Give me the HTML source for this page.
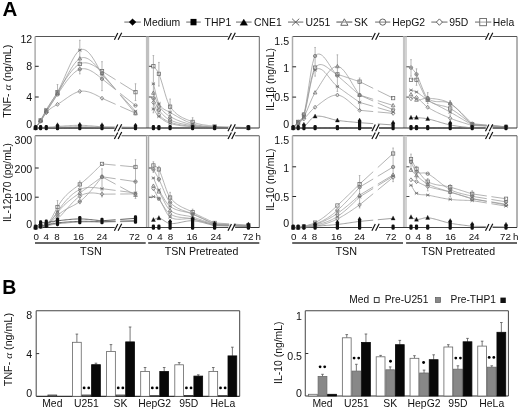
<!DOCTYPE html>
<html><head><meta charset="utf-8"><style>
html,body{margin:0;padding:0;background:#fff;width:520px;height:411px;overflow:hidden}
svg{display:block;filter:blur(0.3px)}
</style></head><body>
<svg width="520" height="411" viewBox="0 0 520 411" font-family="&quot;Liberation Sans&quot;, sans-serif">
<rect width="520" height="411" fill="#fff"/>
<text x="2.6" y="16.4" font-size="20.5" text-anchor="start" font-weight="bold" fill="#000" >A</text>
<text x="2.3" y="294.3" font-size="19.5" text-anchor="start" font-weight="bold" fill="#000" >B</text>
<line x1="124.3" y1="22.1" x2="140.8" y2="22.1" stroke="#9a9a9a" stroke-width="1.5" />
<path d="M132.55,18.8 L136.05,22.1 L132.55,25.4 L129.05,22.1 Z" stroke="#000" stroke-width="0.3" fill="#000" />
<text x="143.3" y="25.8" font-size="10.4" text-anchor="start" font-weight="normal" fill="#111" >Medium</text>
<line x1="186.2" y1="22.1" x2="200.8" y2="22.1" stroke="#9a9a9a" stroke-width="1.5" />
<rect x="190.5" y="18.9" width="6" height="6.4" fill="#000" stroke="none" stroke-width="1" />
<text x="204.6" y="25.8" font-size="10.4" text-anchor="start" font-weight="normal" fill="#111" >THP1</text>
<line x1="236" y1="22.1" x2="251.6" y2="22.1" stroke="#9a9a9a" stroke-width="1.5" />
<path d="M243.8,19.1 L247.6,25.3 L240,25.3 Z" stroke="#000" stroke-width="0.3" fill="#000" />
<text x="254" y="25.8" font-size="10.4" text-anchor="start" font-weight="normal" fill="#111" >CNE1</text>
<line x1="288" y1="22.1" x2="303.3" y2="22.1" stroke="#9a9a9a" stroke-width="1.5" />
<line x1="292.05" y1="18.7" x2="299.25" y2="25.5" stroke="#555" stroke-width="0.9" />
<line x1="292.05" y1="25.5" x2="299.25" y2="18.7" stroke="#555" stroke-width="0.9" />
<text x="305.5" y="25.8" font-size="10.4" text-anchor="start" font-weight="normal" fill="#111" >U251</text>
<line x1="336.5" y1="22.1" x2="352.2" y2="22.1" stroke="#9a9a9a" stroke-width="1.5" />
<path d="M344.35,18.8 L347.95,25.3 L340.75,25.3 Z" stroke="#555" stroke-width="0.9" fill="#fff" />
<line x1="336.5" y1="22.1" x2="352.2" y2="22.1" stroke="#9a9a9a" stroke-width="1.2" />
<text x="354" y="25.8" font-size="10.4" text-anchor="start" font-weight="normal" fill="#111" >SK</text>
<line x1="375.1" y1="22.1" x2="390.3" y2="22.1" stroke="#9a9a9a" stroke-width="1.5" />
<circle cx="382.7" cy="22.1" r="3.1" fill="#fff" stroke="#555" stroke-width="0.9"/>
<line x1="379.6" y1="22.1" x2="385.8" y2="22.1" stroke="#777" stroke-width="0.9" />
<text x="392.2" y="25.8" font-size="10.4" text-anchor="start" font-weight="normal" fill="#111" >HepG2</text>
<line x1="431.3" y1="22.1" x2="447.5" y2="22.1" stroke="#9a9a9a" stroke-width="1.5" />
<path d="M439.4,18.9 L442.4,22.1 L439.4,25.3 L436.4,22.1 Z" stroke="#555" stroke-width="0.9" fill="#fff" />
<text x="449.3" y="25.8" font-size="10.4" text-anchor="start" font-weight="normal" fill="#111" >95D</text>
<line x1="475" y1="22.1" x2="491.3" y2="22.1" stroke="#9a9a9a" stroke-width="1.5" />
<rect x="479.75" y="18.5" width="6.8" height="7.2" fill="#fff" stroke="#666" stroke-width="0.9" />
<line x1="479.75" y1="22.1" x2="486.55" y2="22.1" stroke="#999" stroke-width="0.9" />
<text x="492.8" y="25.8" font-size="10.4" text-anchor="start" font-weight="normal" fill="#111" >Hela</text>
<line x1="35.1" y1="36.5" x2="259.3" y2="36.5" stroke="#555" stroke-width="1.1" />
<line x1="259.3" y1="36.5" x2="259.3" y2="128" stroke="#666" stroke-width="1.0" />
<line x1="35.1" y1="36.5" x2="35.1" y2="128" stroke="#acacac" stroke-width="1.5" />
<rect x="145.9" y="36.5" width="3.3" height="91.5" fill="#c0c0c0" stroke="none" stroke-width="1" />
<line x1="35.1" y1="128" x2="259.3" y2="128" stroke="#333" stroke-width="1.1" />
<line x1="35.1" y1="135.8" x2="259.3" y2="135.8" stroke="#555" stroke-width="1.1" />
<line x1="259.3" y1="135.8" x2="259.3" y2="227.5" stroke="#666" stroke-width="1.0" />
<line x1="35.1" y1="135.8" x2="35.1" y2="227.5" stroke="#acacac" stroke-width="1.5" />
<rect x="145.9" y="135.8" width="3.3" height="91.7" fill="#dcdcdc" stroke="none" stroke-width="1" />
<line x1="146.5" y1="135.8" x2="146.5" y2="227.5" stroke="#a8a8a8" stroke-width="1.1" />
<line x1="148.6" y1="135.8" x2="148.6" y2="227.5" stroke="#a8a8a8" stroke-width="1.1" />
<line x1="35.1" y1="227.5" x2="259.3" y2="227.5" stroke="#333" stroke-width="1.1" />
<line x1="292.5" y1="36.5" x2="517" y2="36.5" stroke="#555" stroke-width="1.1" />
<line x1="517" y1="36.5" x2="517" y2="128" stroke="#666" stroke-width="1.0" />
<line x1="292.5" y1="36.5" x2="292.5" y2="128" stroke="#acacac" stroke-width="1.5" />
<rect x="402.9" y="36.5" width="4.1" height="91.5" fill="#d3d3d3" stroke="none" stroke-width="1" />
<line x1="404" y1="36.5" x2="404" y2="128" stroke="#bdbdbd" stroke-width="1.2" />
<line x1="292.5" y1="128" x2="517" y2="128" stroke="#333" stroke-width="1.1" />
<line x1="292.5" y1="135.8" x2="517" y2="135.8" stroke="#555" stroke-width="1.1" />
<line x1="517" y1="135.8" x2="517" y2="227.5" stroke="#666" stroke-width="1.0" />
<line x1="292.5" y1="135.8" x2="292.5" y2="227.5" stroke="#acacac" stroke-width="1.5" />
<rect x="402.9" y="135.8" width="4.1" height="91.7" fill="#d3d3d3" stroke="none" stroke-width="1" />
<line x1="404" y1="135.8" x2="404" y2="227.5" stroke="#bdbdbd" stroke-width="1.2" />
<line x1="292.5" y1="227.5" x2="517" y2="227.5" stroke="#333" stroke-width="1.1" />
<line x1="57.5" y1="84.54" x2="57.5" y2="94.45" stroke="#a4a4a4" stroke-width="0.8" />
<line x1="56.7" y1="84.54" x2="58.3" y2="84.54" stroke="#a4a4a4" stroke-width="0.8" />
<line x1="56.7" y1="94.45" x2="58.3" y2="94.45" stroke="#a4a4a4" stroke-width="0.8" />
<line x1="79.8" y1="40.31" x2="79.8" y2="73.86" stroke="#a4a4a4" stroke-width="0.8" />
<line x1="79" y1="40.31" x2="80.6" y2="40.31" stroke="#a4a4a4" stroke-width="0.8" />
<line x1="79" y1="73.86" x2="80.6" y2="73.86" stroke="#a4a4a4" stroke-width="0.8" />
<line x1="102" y1="61.66" x2="102" y2="90.64" stroke="#a4a4a4" stroke-width="0.8" />
<line x1="101.2" y1="61.66" x2="102.8" y2="61.66" stroke="#a4a4a4" stroke-width="0.8" />
<line x1="101.2" y1="90.64" x2="102.8" y2="90.64" stroke="#a4a4a4" stroke-width="0.8" />
<line x1="135.5" y1="83.78" x2="135.5" y2="100.55" stroke="#a4a4a4" stroke-width="0.8" />
<line x1="134.7" y1="83.78" x2="136.3" y2="83.78" stroke="#a4a4a4" stroke-width="0.8" />
<line x1="134.7" y1="100.55" x2="136.3" y2="100.55" stroke="#a4a4a4" stroke-width="0.8" />
<line x1="153.4" y1="55.56" x2="153.4" y2="112.75" stroke="#a4a4a4" stroke-width="0.8" />
<line x1="152.6" y1="55.56" x2="154.2" y2="55.56" stroke="#a4a4a4" stroke-width="0.8" />
<line x1="152.6" y1="112.75" x2="154.2" y2="112.75" stroke="#a4a4a4" stroke-width="0.8" />
<line x1="158.9" y1="62.42" x2="158.9" y2="86.06" stroke="#a4a4a4" stroke-width="0.8" />
<line x1="158.1" y1="62.42" x2="159.7" y2="62.42" stroke="#a4a4a4" stroke-width="0.8" />
<line x1="158.1" y1="86.06" x2="159.7" y2="86.06" stroke="#a4a4a4" stroke-width="0.8" />
<line x1="170.1" y1="99.03" x2="170.1" y2="118.85" stroke="#a4a4a4" stroke-width="0.8" />
<line x1="169.3" y1="99.03" x2="170.9" y2="99.03" stroke="#a4a4a4" stroke-width="0.8" />
<line x1="169.3" y1="118.85" x2="170.9" y2="118.85" stroke="#a4a4a4" stroke-width="0.8" />
<line x1="192.6" y1="117.71" x2="192.6" y2="125.71" stroke="#a4a4a4" stroke-width="0.8" />
<line x1="191.8" y1="117.71" x2="193.4" y2="117.71" stroke="#a4a4a4" stroke-width="0.8" />
<line x1="191.8" y1="125.71" x2="193.4" y2="125.71" stroke="#a4a4a4" stroke-width="0.8" />
<path d="M35.6,128 L36.85,126.16 L38.1,124.3 L39.35,122.38 L40.6,120.38 L42.02,117.98 L43.45,115.49 L44.88,112.97 L46.3,110.46 L47.54,108.32 L48.79,106.22 L50.03,104.16 L51.28,102.13 L52.52,100.12 L53.77,98.13 L55.01,96.14 L56.26,94.15 L57.5,92.16 L58.74,90.17 L59.98,88.17 L61.22,86.18 L62.46,84.2 L63.69,82.26 L64.93,80.34 L66.17,78.48 L67.41,76.67 L68.65,74.93 L69.89,73.27 L71.13,71.69 L72.37,70.21 L73.61,68.84 L74.84,67.59 L76.08,66.46 L77.32,65.47 L78.56,64.63 L79.8,63.95 L81.03,63.43 L82.27,63.08 L83.5,62.87 L84.73,62.8 L85.97,62.85 L87.2,63.03 L88.43,63.32 L89.67,63.71 L90.9,64.2 L92.13,64.77 L93.37,65.41 L94.6,66.11 L95.83,66.88 L97.07,67.68 L98.3,68.53 L99.53,69.4 L100.77,70.29 L102,71.19" stroke="#9a9a9a" stroke-width="0.75" fill="none" />
<line x1="102" y1="71.19" x2="115.6" y2="79.71" stroke="#9a9a9a" stroke-width="0.75" />
<line x1="120.2" y1="82.59" x2="135.5" y2="92.16" stroke="#9a9a9a" stroke-width="0.75" />
<rect x="33.95" y="126.35" width="3.3" height="3.3" fill="none" stroke="#707070" stroke-width="0.8" />
<rect x="38.95" y="118.72" width="3.3" height="3.3" fill="none" stroke="#707070" stroke-width="0.8" />
<rect x="44.65" y="108.81" width="3.3" height="3.3" fill="none" stroke="#707070" stroke-width="0.8" />
<rect x="55.85" y="90.51" width="3.3" height="3.3" fill="none" stroke="#707070" stroke-width="0.8" />
<rect x="78.15" y="62.3" width="3.3" height="3.3" fill="none" stroke="#707070" stroke-width="0.8" />
<rect x="100.35" y="69.54" width="3.3" height="3.3" fill="none" stroke="#707070" stroke-width="0.8" />
<rect x="133.85" y="90.51" width="3.3" height="3.3" fill="none" stroke="#707070" stroke-width="0.8" />
<path d="M35.6,128 L36.85,126.22 L38.1,124.39 L39.35,122.46 L40.6,120.38 L42.02,117.79 L43.45,115.06 L44.88,112.32 L46.3,109.7 L47.54,107.58 L48.79,105.6 L50.03,103.72 L51.28,101.89 L52.52,100.08 L53.77,98.25 L55.01,96.34 L56.26,94.33 L57.5,92.16 L58.74,89.82 L59.98,87.33 L61.22,84.7 L62.46,81.96 L63.69,79.16 L64.93,76.32 L66.17,73.47 L67.41,70.64 L68.65,67.87 L69.89,65.17 L71.13,62.59 L72.37,60.15 L73.61,57.88 L74.84,55.82 L76.08,53.99 L77.32,52.43 L78.56,51.17 L79.8,50.23 L81.03,49.63 L82.27,49.38 L83.5,49.43 L84.73,49.79 L85.97,50.41 L87.2,51.29 L88.43,52.41 L89.67,53.74 L90.9,55.27 L92.13,56.98 L93.37,58.84 L94.6,60.84 L95.83,62.96 L97.07,65.17 L98.3,67.47 L99.53,69.82 L100.77,72.21 L102,74.62" stroke="#9a9a9a" stroke-width="0.75" fill="none" />
<line x1="102" y1="74.62" x2="115.6" y2="89.48" stroke="#9a9a9a" stroke-width="0.75" />
<line x1="120.2" y1="94.51" x2="135.5" y2="111.22" stroke="#9a9a9a" stroke-width="0.75" />
<line x1="33.95" y1="126.68" x2="37.25" y2="129.32" stroke="#707070" stroke-width="0.8" />
<line x1="33.95" y1="129.32" x2="37.25" y2="126.68" stroke="#707070" stroke-width="0.8" />
<line x1="33.95" y1="128" x2="37.25" y2="128" stroke="#707070" stroke-width="0.6400000000000001" />
<line x1="38.95" y1="119.06" x2="42.25" y2="121.69" stroke="#707070" stroke-width="0.8" />
<line x1="38.95" y1="121.69" x2="42.25" y2="119.06" stroke="#707070" stroke-width="0.8" />
<line x1="38.95" y1="120.38" x2="42.25" y2="120.38" stroke="#707070" stroke-width="0.6400000000000001" />
<line x1="44.65" y1="108.38" x2="47.95" y2="111.02" stroke="#707070" stroke-width="0.8" />
<line x1="44.65" y1="111.02" x2="47.95" y2="108.38" stroke="#707070" stroke-width="0.8" />
<line x1="44.65" y1="109.7" x2="47.95" y2="109.7" stroke="#707070" stroke-width="0.6400000000000001" />
<line x1="55.85" y1="90.84" x2="59.15" y2="93.48" stroke="#707070" stroke-width="0.8" />
<line x1="55.85" y1="93.48" x2="59.15" y2="90.84" stroke="#707070" stroke-width="0.8" />
<line x1="55.85" y1="92.16" x2="59.15" y2="92.16" stroke="#707070" stroke-width="0.6400000000000001" />
<line x1="78.15" y1="48.91" x2="81.45" y2="51.55" stroke="#707070" stroke-width="0.8" />
<line x1="78.15" y1="51.55" x2="81.45" y2="48.91" stroke="#707070" stroke-width="0.8" />
<line x1="78.15" y1="50.23" x2="81.45" y2="50.23" stroke="#707070" stroke-width="0.6400000000000001" />
<line x1="100.35" y1="73.31" x2="103.65" y2="75.94" stroke="#707070" stroke-width="0.8" />
<line x1="100.35" y1="75.94" x2="103.65" y2="73.31" stroke="#707070" stroke-width="0.8" />
<line x1="100.35" y1="74.62" x2="103.65" y2="74.62" stroke="#707070" stroke-width="0.6400000000000001" />
<line x1="133.85" y1="109.91" x2="137.15" y2="112.54" stroke="#707070" stroke-width="0.8" />
<line x1="133.85" y1="112.54" x2="137.15" y2="109.91" stroke="#707070" stroke-width="0.8" />
<line x1="133.85" y1="111.22" x2="137.15" y2="111.22" stroke="#707070" stroke-width="0.6400000000000001" />
<path d="M35.6,128 L36.85,126.12 L38.1,124.24 L39.35,122.32 L40.6,120.38 L42.02,118.1 L43.45,115.8 L44.88,113.49 L46.3,111.22 L47.54,109.29 L48.79,107.39 L50.03,105.51 L51.28,103.63 L52.52,101.73 L53.77,99.81 L55.01,97.83 L56.26,95.8 L57.5,93.69 L58.74,91.5 L59.98,89.23 L61.22,86.91 L62.46,84.55 L63.69,82.18 L64.93,79.81 L66.17,77.46 L67.41,75.16 L68.65,72.91 L69.89,70.74 L71.13,68.68 L72.37,66.73 L73.61,64.92 L74.84,63.27 L76.08,61.79 L77.32,60.51 L78.56,59.44 L79.8,58.61 L81.03,58.03 L82.27,57.69 L83.5,57.57 L84.73,57.66 L85.97,57.94 L87.2,58.41 L88.43,59.05 L89.67,59.84 L90.9,60.76 L92.13,61.82 L93.37,62.98 L94.6,64.25 L95.83,65.59 L97.07,67.01 L98.3,68.48 L99.53,70 L100.77,71.54 L102,73.1" stroke="#9a9a9a" stroke-width="0.75" fill="none" />
<line x1="102" y1="73.1" x2="115.6" y2="89.51" stroke="#9a9a9a" stroke-width="0.75" />
<line x1="120.2" y1="95.06" x2="135.5" y2="113.51" stroke="#9a9a9a" stroke-width="0.75" />
<path d="M35.6,126.02 L37.41,129.32 L33.79,129.32 Z" stroke="#707070" stroke-width="0.8" fill="none" />
<path d="M40.6,118.39 L42.41,121.69 L38.79,121.69 Z" stroke="#707070" stroke-width="0.8" fill="none" />
<path d="M46.3,109.24 L48.11,112.54 L44.48,112.54 Z" stroke="#707070" stroke-width="0.8" fill="none" />
<path d="M57.5,91.71 L59.31,95.01 L55.69,95.01 Z" stroke="#707070" stroke-width="0.8" fill="none" />
<path d="M79.8,56.63 L81.61,59.93 L77.98,59.93 Z" stroke="#707070" stroke-width="0.8" fill="none" />
<path d="M102,71.12 L103.81,74.42 L100.19,74.42 Z" stroke="#707070" stroke-width="0.8" fill="none" />
<path d="M135.5,111.53 L137.31,114.83 L133.69,114.83 Z" stroke="#707070" stroke-width="0.8" fill="none" />
<path d="M35.6,128 L36.85,126.35 L38.1,124.68 L39.35,122.95 L40.6,121.14 L42.02,118.95 L43.45,116.67 L44.88,114.33 L46.3,111.99 L47.54,109.96 L48.79,107.97 L50.03,105.99 L51.28,104.04 L52.52,102.1 L53.77,100.17 L55.01,98.26 L56.26,96.35 L57.5,94.45 L58.74,92.56 L59.98,90.68 L61.22,88.82 L62.46,86.99 L63.69,85.2 L64.93,83.45 L66.17,81.76 L67.41,80.13 L68.65,78.58 L69.89,77.1 L71.13,75.72 L72.37,74.43 L73.61,73.25 L74.84,72.19 L76.08,71.25 L77.32,70.45 L78.56,69.79 L79.8,69.29 L81.03,68.94 L82.27,68.74 L83.5,68.69 L84.73,68.76 L85.97,68.96 L87.2,69.28 L88.43,69.7 L89.67,70.22 L90.9,70.83 L92.13,71.52 L93.37,72.27 L94.6,73.09 L95.83,73.97 L97.07,74.88 L98.3,75.84 L99.53,76.82 L100.77,77.81 L102,78.82" stroke="#9a9a9a" stroke-width="0.75" fill="none" />
<line x1="102" y1="78.82" x2="115.6" y2="89.65" stroke="#9a9a9a" stroke-width="0.75" />
<line x1="120.2" y1="93.32" x2="135.5" y2="105.51" stroke="#9a9a9a" stroke-width="0.75" />
<circle cx="35.6" cy="128" r="1.65" fill="none" stroke="#707070" stroke-width="0.8"/>
<line x1="33.95" y1="128" x2="37.25" y2="128" stroke="#707070" stroke-width="0.6400000000000001" />
<circle cx="40.6" cy="121.14" r="1.65" fill="none" stroke="#707070" stroke-width="0.8"/>
<line x1="38.95" y1="121.14" x2="42.25" y2="121.14" stroke="#707070" stroke-width="0.6400000000000001" />
<circle cx="46.3" cy="111.99" r="1.65" fill="none" stroke="#707070" stroke-width="0.8"/>
<line x1="44.65" y1="111.99" x2="47.95" y2="111.99" stroke="#707070" stroke-width="0.6400000000000001" />
<circle cx="57.5" cy="94.45" r="1.65" fill="none" stroke="#707070" stroke-width="0.8"/>
<line x1="55.85" y1="94.45" x2="59.15" y2="94.45" stroke="#707070" stroke-width="0.6400000000000001" />
<circle cx="79.8" cy="69.29" r="1.65" fill="none" stroke="#707070" stroke-width="0.8"/>
<line x1="78.15" y1="69.29" x2="81.45" y2="69.29" stroke="#707070" stroke-width="0.6400000000000001" />
<circle cx="102" cy="78.82" r="1.65" fill="none" stroke="#707070" stroke-width="0.8"/>
<line x1="100.35" y1="78.82" x2="103.65" y2="78.82" stroke="#707070" stroke-width="0.6400000000000001" />
<circle cx="135.5" cy="105.51" r="1.65" fill="none" stroke="#707070" stroke-width="0.8"/>
<line x1="133.85" y1="105.51" x2="137.15" y2="105.51" stroke="#707070" stroke-width="0.6400000000000001" />
<path d="M35.6,128 L36.85,126.35 L38.1,124.67 L39.35,122.95 L40.6,121.14 L42.02,118.97 L43.45,116.78 L44.88,114.67 L46.3,112.75 L47.54,111.31 L48.79,110.06 L50.03,108.99 L51.28,108.06 L52.52,107.23 L53.77,106.48 L55.01,105.77 L56.26,105.08 L57.5,104.36 L58.74,103.61 L59.98,102.81 L61.22,101.98 L62.46,101.12 L63.69,100.25 L64.93,99.37 L66.17,98.5 L67.41,97.63 L68.65,96.78 L69.89,95.96 L71.13,95.17 L72.37,94.43 L73.61,93.74 L74.84,93.12 L76.08,92.56 L77.32,92.08 L78.56,91.69 L79.8,91.4 L81.03,91.21 L82.27,91.12 L83.5,91.12 L84.73,91.2 L85.97,91.37 L87.2,91.61 L88.43,91.92 L89.67,92.3 L90.9,92.73 L92.13,93.21 L93.37,93.74 L94.6,94.31 L95.83,94.92 L97.07,95.55 L98.3,96.21 L99.53,96.88 L100.77,97.57 L102,98.26" stroke="#9a9a9a" stroke-width="0.75" fill="none" />
<line x1="102" y1="98.26" x2="115.6" y2="104.3" stroke="#9a9a9a" stroke-width="0.75" />
<line x1="120.2" y1="106.34" x2="135.5" y2="113.13" stroke="#9a9a9a" stroke-width="0.75" />
<path d="M35.6,126.02 L37.25,128 L35.6,129.98 L33.95,128 Z" stroke="#707070" stroke-width="0.8" fill="none" />
<path d="M40.6,119.16 L42.25,121.14 L40.6,123.12 L38.95,121.14 Z" stroke="#707070" stroke-width="0.8" fill="none" />
<path d="M46.3,110.77 L47.95,112.75 L46.3,114.73 L44.65,112.75 Z" stroke="#707070" stroke-width="0.8" fill="none" />
<path d="M57.5,102.38 L59.15,104.36 L57.5,106.34 L55.85,104.36 Z" stroke="#707070" stroke-width="0.8" fill="none" />
<path d="M79.8,89.42 L81.45,91.4 L79.8,93.38 L78.15,91.4 Z" stroke="#707070" stroke-width="0.8" fill="none" />
<path d="M102,96.28 L103.65,98.26 L102,100.24 L100.35,98.26 Z" stroke="#707070" stroke-width="0.8" fill="none" />
<path d="M135.5,111.15 L137.15,113.13 L135.5,115.11 L133.85,113.13 Z" stroke="#707070" stroke-width="0.8" fill="none" />
<path d="M35.6,128 L36.85,127.9 L38.1,127.81 L39.35,127.71 L40.6,127.62 L42.02,127.52 L43.45,127.42 L44.88,127.33 L46.3,127.24 L47.54,127.16 L48.79,127.08 L50.03,126.99 L51.28,126.91 L52.52,126.83 L53.77,126.74 L55.01,126.65 L56.26,126.57 L57.5,126.47 L58.74,126.38 L59.98,126.29 L61.22,126.2 L62.46,126.11 L63.69,126.01 L64.93,125.93 L66.17,125.84 L67.41,125.76 L68.65,125.68 L69.89,125.61 L71.13,125.54 L72.37,125.49 L73.61,125.43 L74.84,125.39 L76.08,125.36 L77.32,125.34 L78.56,125.33 L79.8,125.33 L81.03,125.35 L82.27,125.37 L83.5,125.41 L84.73,125.46 L85.97,125.52 L87.2,125.58 L88.43,125.66 L89.67,125.74 L90.9,125.83 L92.13,125.93 L93.37,126.04 L94.6,126.14 L95.83,126.26 L97.07,126.37 L98.3,126.49 L99.53,126.61 L100.77,126.73 L102,126.86" stroke="#9a9a9a" stroke-width="0.75" fill="none" />
<line x1="102" y1="126.86" x2="115.6" y2="127.01" stroke="#9a9a9a" stroke-width="0.75" />
<line x1="120.2" y1="127.06" x2="135.5" y2="127.24" stroke="#9a9a9a" stroke-width="0.75" />
<path d="M153.4,66.24 L154.78,67.88 L156.15,69.34 L157.53,71.16 L158.9,73.86 L160.14,77.19 L161.39,81.03 L162.63,85.2 L163.88,89.5 L165.12,93.76 L166.37,97.79 L167.61,101.41 L168.86,104.42 L170.1,106.65 L171.35,108.35 L172.6,109.88 L173.85,111.26 L175.1,112.5 L176.35,113.61 L177.6,114.61 L178.85,115.51 L180.1,116.31 L181.35,117.03 L182.6,117.69 L183.85,118.28 L185.1,118.84 L186.35,119.36 L187.6,119.86 L188.85,120.35 L190.1,120.85 L191.35,121.36 L192.6,121.9 L193.82,122.41 L195.04,122.87 L196.27,123.27 L197.49,123.62 L198.71,123.93 L199.93,124.2 L201.16,124.44 L202.38,124.65 L203.6,124.84 L204.82,125.02 L206.04,125.18 L207.27,125.34 L208.49,125.5 L209.71,125.66 L210.93,125.83 L212.16,126.02 L213.38,126.24 L214.6,126.47" stroke="#9a9a9a" stroke-width="0.75" fill="none" />
<line x1="214.6" y1="126.47" x2="229.2" y2="126.97" stroke="#9a9a9a" stroke-width="0.75" />
<line x1="233.8" y1="127.12" x2="248.4" y2="127.62" stroke="#9a9a9a" stroke-width="0.75" />
<rect x="151.75" y="64.59" width="3.3" height="3.3" fill="none" stroke="#707070" stroke-width="0.8" />
<rect x="157.25" y="72.21" width="3.3" height="3.3" fill="none" stroke="#707070" stroke-width="0.8" />
<rect x="168.45" y="105" width="3.3" height="3.3" fill="none" stroke="#707070" stroke-width="0.8" />
<rect x="190.95" y="120.25" width="3.3" height="3.3" fill="none" stroke="#707070" stroke-width="0.8" />
<rect x="212.95" y="124.82" width="3.3" height="3.3" fill="none" stroke="#707070" stroke-width="0.8" />
<rect x="246.75" y="125.97" width="3.3" height="3.3" fill="none" stroke="#707070" stroke-width="0.8" />
<path d="M153.4,83.78 L154.78,89.22 L156.15,94.99 L157.53,100.11 L158.9,103.6 L160.14,105.51 L161.39,107.03 L162.63,108.22 L163.88,109.15 L165.12,109.9 L166.37,110.52 L167.61,111.1 L168.86,111.69 L170.1,112.37 L171.35,113.12 L172.6,113.86 L173.85,114.6 L175.1,115.34 L176.35,116.06 L177.6,116.78 L178.85,117.48 L180.1,118.16 L181.35,118.83 L182.6,119.49 L183.85,120.12 L185.1,120.73 L186.35,121.31 L187.6,121.87 L188.85,122.4 L190.1,122.9 L191.35,123.37 L192.6,123.81 L193.82,124.19 L195.04,124.53 L196.27,124.83 L197.49,125.1 L198.71,125.33 L199.93,125.53 L201.16,125.71 L202.38,125.87 L203.6,126.01 L204.82,126.14 L206.04,126.27 L207.27,126.38 L208.49,126.5 L209.71,126.63 L210.93,126.76 L212.16,126.9 L213.38,127.06 L214.6,127.24" stroke="#9a9a9a" stroke-width="0.75" fill="none" />
<line x1="214.6" y1="127.24" x2="229.2" y2="127.5" stroke="#9a9a9a" stroke-width="0.75" />
<line x1="233.8" y1="127.58" x2="248.4" y2="127.85" stroke="#9a9a9a" stroke-width="0.75" />
<line x1="151.75" y1="82.46" x2="155.05" y2="85.09" stroke="#707070" stroke-width="0.8" />
<line x1="151.75" y1="85.09" x2="155.05" y2="82.46" stroke="#707070" stroke-width="0.8" />
<line x1="151.75" y1="83.78" x2="155.05" y2="83.78" stroke="#707070" stroke-width="0.6400000000000001" />
<line x1="157.25" y1="102.28" x2="160.55" y2="104.92" stroke="#707070" stroke-width="0.8" />
<line x1="157.25" y1="104.92" x2="160.55" y2="102.28" stroke="#707070" stroke-width="0.8" />
<line x1="157.25" y1="103.6" x2="160.55" y2="103.6" stroke="#707070" stroke-width="0.6400000000000001" />
<line x1="168.45" y1="111.05" x2="171.75" y2="113.69" stroke="#707070" stroke-width="0.8" />
<line x1="168.45" y1="113.69" x2="171.75" y2="111.05" stroke="#707070" stroke-width="0.8" />
<line x1="168.45" y1="112.37" x2="171.75" y2="112.37" stroke="#707070" stroke-width="0.6400000000000001" />
<line x1="190.95" y1="122.49" x2="194.25" y2="125.13" stroke="#707070" stroke-width="0.8" />
<line x1="190.95" y1="125.13" x2="194.25" y2="122.49" stroke="#707070" stroke-width="0.8" />
<line x1="190.95" y1="123.81" x2="194.25" y2="123.81" stroke="#707070" stroke-width="0.6400000000000001" />
<line x1="212.95" y1="125.92" x2="216.25" y2="128.56" stroke="#707070" stroke-width="0.8" />
<line x1="212.95" y1="128.56" x2="216.25" y2="125.92" stroke="#707070" stroke-width="0.8" />
<line x1="212.95" y1="127.24" x2="216.25" y2="127.24" stroke="#707070" stroke-width="0.6400000000000001" />
<line x1="246.75" y1="126.53" x2="250.05" y2="129.17" stroke="#707070" stroke-width="0.8" />
<line x1="246.75" y1="129.17" x2="250.05" y2="126.53" stroke="#707070" stroke-width="0.8" />
<line x1="246.75" y1="127.85" x2="250.05" y2="127.85" stroke="#707070" stroke-width="0.6400000000000001" />
<path d="M153.4,92.93 L154.78,96.41 L156.15,100.05 L157.53,103.37 L158.9,105.89 L160.14,107.58 L161.39,109.12 L162.63,110.53 L163.88,111.82 L165.12,112.98 L166.37,114.03 L167.61,114.97 L168.86,115.81 L170.1,116.56 L171.35,117.25 L172.6,117.91 L173.85,118.53 L175.1,119.12 L176.35,119.68 L177.6,120.22 L178.85,120.72 L180.1,121.21 L181.35,121.66 L182.6,122.1 L183.85,122.51 L185.1,122.91 L186.35,123.28 L187.6,123.64 L188.85,123.99 L190.1,124.32 L191.35,124.64 L192.6,124.95 L193.82,125.23 L195.04,125.48 L196.27,125.69 L197.49,125.88 L198.71,126.05 L199.93,126.19 L201.16,126.32 L202.38,126.43 L203.6,126.53 L204.82,126.63 L206.04,126.71 L207.27,126.79 L208.49,126.87 L209.71,126.96 L210.93,127.05 L212.16,127.15 L213.38,127.26 L214.6,127.39" stroke="#9a9a9a" stroke-width="0.75" fill="none" />
<line x1="214.6" y1="127.39" x2="229.2" y2="127.59" stroke="#9a9a9a" stroke-width="0.75" />
<line x1="233.8" y1="127.65" x2="248.4" y2="127.85" stroke="#9a9a9a" stroke-width="0.75" />
<path d="M153.4,90.95 L155.22,94.25 L151.59,94.25 Z" stroke="#707070" stroke-width="0.8" fill="none" />
<path d="M158.9,103.91 L160.72,107.21 L157.09,107.21 Z" stroke="#707070" stroke-width="0.8" fill="none" />
<path d="M170.1,114.58 L171.91,117.88 L168.28,117.88 Z" stroke="#707070" stroke-width="0.8" fill="none" />
<path d="M192.6,122.97 L194.41,126.27 L190.78,126.27 Z" stroke="#707070" stroke-width="0.8" fill="none" />
<path d="M214.6,125.41 L216.41,128.71 L212.78,128.71 Z" stroke="#707070" stroke-width="0.8" fill="none" />
<path d="M248.4,125.87 L250.22,129.17 L246.59,129.17 Z" stroke="#707070" stroke-width="0.8" fill="none" />
<path d="M153.4,98.26 L154.78,101.44 L156.15,104.75 L157.53,107.78 L158.9,110.08 L160.14,111.64 L161.39,113.09 L162.63,114.43 L163.88,115.64 L165.12,116.75 L166.37,117.73 L167.61,118.6 L168.86,119.36 L170.1,119.99 L171.35,120.55 L172.6,121.06 L173.85,121.54 L175.1,121.97 L176.35,122.37 L177.6,122.74 L178.85,123.08 L180.1,123.39 L181.35,123.68 L182.6,123.94 L183.85,124.2 L185.1,124.43 L186.35,124.66 L187.6,124.87 L188.85,125.08 L190.1,125.29 L191.35,125.5 L192.6,125.71 L193.82,125.91 L195.04,126.09 L196.27,126.25 L197.49,126.39 L198.71,126.51 L199.93,126.62 L201.16,126.72 L202.38,126.82 L203.6,126.9 L204.82,126.98 L206.04,127.05 L207.27,127.12 L208.49,127.19 L209.71,127.27 L210.93,127.34 L212.16,127.43 L213.38,127.52 L214.6,127.62" stroke="#9a9a9a" stroke-width="0.75" fill="none" />
<line x1="214.6" y1="127.62" x2="229.2" y2="127.72" stroke="#9a9a9a" stroke-width="0.75" />
<line x1="233.8" y1="127.75" x2="248.4" y2="127.85" stroke="#9a9a9a" stroke-width="0.75" />
<circle cx="153.4" cy="98.26" r="1.65" fill="none" stroke="#707070" stroke-width="0.8"/>
<line x1="151.75" y1="98.26" x2="155.05" y2="98.26" stroke="#707070" stroke-width="0.6400000000000001" />
<circle cx="158.9" cy="110.08" r="1.65" fill="none" stroke="#707070" stroke-width="0.8"/>
<line x1="157.25" y1="110.08" x2="160.55" y2="110.08" stroke="#707070" stroke-width="0.6400000000000001" />
<circle cx="170.1" cy="119.99" r="1.65" fill="none" stroke="#707070" stroke-width="0.8"/>
<line x1="168.45" y1="119.99" x2="171.75" y2="119.99" stroke="#707070" stroke-width="0.6400000000000001" />
<circle cx="192.6" cy="125.71" r="1.65" fill="none" stroke="#707070" stroke-width="0.8"/>
<line x1="190.95" y1="125.71" x2="194.25" y2="125.71" stroke="#707070" stroke-width="0.6400000000000001" />
<circle cx="214.6" cy="127.62" r="1.65" fill="none" stroke="#707070" stroke-width="0.8"/>
<line x1="212.95" y1="127.62" x2="216.25" y2="127.62" stroke="#707070" stroke-width="0.6400000000000001" />
<circle cx="248.4" cy="127.85" r="1.65" fill="none" stroke="#707070" stroke-width="0.8"/>
<line x1="246.75" y1="127.85" x2="250.05" y2="127.85" stroke="#707070" stroke-width="0.6400000000000001" />
<path d="M153.4,102.46 L154.78,105.73 L156.15,109.17 L157.53,112.27 L158.9,114.5 L160.14,115.89 L161.39,117.1 L162.63,118.17 L163.88,119.1 L165.12,119.9 L166.37,120.6 L167.61,121.21 L168.86,121.74 L170.1,122.2 L171.35,122.63 L172.6,123.02 L173.85,123.38 L175.1,123.71 L176.35,124.01 L177.6,124.29 L178.85,124.54 L180.1,124.77 L181.35,124.99 L182.6,125.19 L183.85,125.37 L185.1,125.54 L186.35,125.71 L187.6,125.86 L188.85,126.02 L190.1,126.17 L191.35,126.32 L192.6,126.47 L193.82,126.62 L195.04,126.75 L196.27,126.86 L197.49,126.96 L198.71,127.05 L199.93,127.12 L201.16,127.19 L202.38,127.25 L203.6,127.31 L204.82,127.35 L206.04,127.4 L207.27,127.45 L208.49,127.49 L209.71,127.54 L210.93,127.59 L212.16,127.64 L213.38,127.7 L214.6,127.77" stroke="#9a9a9a" stroke-width="0.75" fill="none" />
<line x1="214.6" y1="127.77" x2="229.2" y2="127.8" stroke="#9a9a9a" stroke-width="0.75" />
<line x1="233.8" y1="127.81" x2="248.4" y2="127.85" stroke="#9a9a9a" stroke-width="0.75" />
<path d="M153.4,100.48 L155.05,102.46 L153.4,104.44 L151.75,102.46 Z" stroke="#707070" stroke-width="0.8" fill="none" />
<path d="M158.9,112.52 L160.55,114.5 L158.9,116.48 L157.25,114.5 Z" stroke="#707070" stroke-width="0.8" fill="none" />
<path d="M170.1,120.22 L171.75,122.2 L170.1,124.19 L168.45,122.2 Z" stroke="#707070" stroke-width="0.8" fill="none" />
<path d="M192.6,124.49 L194.25,126.47 L192.6,128.45 L190.95,126.47 Z" stroke="#707070" stroke-width="0.8" fill="none" />
<path d="M214.6,125.79 L216.25,127.77 L214.6,129.75 L212.95,127.77 Z" stroke="#707070" stroke-width="0.8" fill="none" />
<path d="M248.4,125.87 L250.05,127.85 L248.4,129.83 L246.75,127.85 Z" stroke="#707070" stroke-width="0.8" fill="none" />
<path d="M153.4,108.94 L154.78,110.98 L156.15,113.11 L157.53,115.06 L158.9,116.56 L160.14,117.61 L161.39,118.6 L162.63,119.53 L163.88,120.38 L165.12,121.16 L166.37,121.86 L167.61,122.47 L168.86,123 L170.1,123.42 L171.35,123.79 L172.6,124.12 L173.85,124.42 L175.1,124.7 L176.35,124.95 L177.6,125.17 L178.85,125.37 L180.1,125.56 L181.35,125.73 L182.6,125.88 L183.85,126.02 L185.1,126.15 L186.35,126.27 L187.6,126.39 L188.85,126.51 L190.1,126.62 L191.35,126.74 L192.6,126.86 L193.82,126.97 L195.04,127.07 L196.27,127.15 L197.49,127.23 L198.71,127.29 L199.93,127.34 L201.16,127.39 L202.38,127.43 L203.6,127.47 L204.82,127.5 L206.04,127.53 L207.27,127.56 L208.49,127.59 L209.71,127.62 L210.93,127.65 L212.16,127.68 L213.38,127.72 L214.6,127.77" stroke="#9a9a9a" stroke-width="0.75" fill="none" />
<line x1="214.6" y1="127.77" x2="229.2" y2="127.8" stroke="#9a9a9a" stroke-width="0.75" />
<line x1="233.8" y1="127.81" x2="248.4" y2="127.85" stroke="#9a9a9a" stroke-width="0.75" />
<line x1="151.75" y1="107.62" x2="155.05" y2="110.26" stroke="#707070" stroke-width="0.8" />
<line x1="151.75" y1="110.26" x2="155.05" y2="107.62" stroke="#707070" stroke-width="0.8" />
<line x1="151.75" y1="108.94" x2="155.05" y2="108.94" stroke="#707070" stroke-width="0.6400000000000001" />
<line x1="157.25" y1="115.24" x2="160.55" y2="117.88" stroke="#707070" stroke-width="0.8" />
<line x1="157.25" y1="117.88" x2="160.55" y2="115.24" stroke="#707070" stroke-width="0.8" />
<line x1="157.25" y1="116.56" x2="160.55" y2="116.56" stroke="#707070" stroke-width="0.6400000000000001" />
<line x1="168.45" y1="122.11" x2="171.75" y2="124.74" stroke="#707070" stroke-width="0.8" />
<line x1="168.45" y1="124.74" x2="171.75" y2="122.11" stroke="#707070" stroke-width="0.8" />
<line x1="168.45" y1="123.42" x2="171.75" y2="123.42" stroke="#707070" stroke-width="0.6400000000000001" />
<line x1="190.95" y1="125.54" x2="194.25" y2="128.18" stroke="#707070" stroke-width="0.8" />
<line x1="190.95" y1="128.18" x2="194.25" y2="125.54" stroke="#707070" stroke-width="0.8" />
<line x1="190.95" y1="126.86" x2="194.25" y2="126.86" stroke="#707070" stroke-width="0.6400000000000001" />
<line x1="212.95" y1="126.45" x2="216.25" y2="129.09" stroke="#707070" stroke-width="0.8" />
<line x1="212.95" y1="129.09" x2="216.25" y2="126.45" stroke="#707070" stroke-width="0.8" />
<line x1="212.95" y1="127.77" x2="216.25" y2="127.77" stroke="#707070" stroke-width="0.6400000000000001" />
<line x1="246.75" y1="126.53" x2="250.05" y2="129.17" stroke="#707070" stroke-width="0.8" />
<line x1="246.75" y1="129.17" x2="250.05" y2="126.53" stroke="#707070" stroke-width="0.8" />
<line x1="246.75" y1="127.85" x2="250.05" y2="127.85" stroke="#707070" stroke-width="0.6400000000000001" />
<path d="M35.6,128 L36.85,128 L38.1,128 L39.35,128 L40.6,128 L42.02,128 L43.45,128 L44.88,128 L46.3,128 L47.54,128 L48.79,128 L50.03,128 L51.28,128 L52.52,128 L53.77,128 L55.01,128 L56.26,128 L57.5,128 L58.74,128 L59.98,128 L61.22,128 L62.46,128 L63.69,128 L64.93,128 L66.17,128 L67.41,128 L68.65,128 L69.89,128 L71.13,128 L72.37,128 L73.61,128 L74.84,128 L76.08,128 L77.32,128 L78.56,128 L79.8,128 L81.03,128 L82.27,128 L83.5,128 L84.73,128 L85.97,128 L87.2,128 L88.43,128 L89.67,128 L90.9,128 L92.13,128 L93.37,128 L94.6,128 L95.83,128 L97.07,128 L98.3,128 L99.53,128 L100.77,128 L102,128" stroke="#444" stroke-width="0.85" fill="none" />
<line x1="102" y1="128" x2="115.6" y2="128" stroke="#444" stroke-width="0.85" />
<line x1="120.2" y1="128" x2="135.5" y2="128" stroke="#444" stroke-width="0.85" />
<path d="M35.6,128 L36.85,128 L38.1,128 L39.35,128 L40.6,128 L42.02,128 L43.45,128 L44.88,128 L46.3,128 L47.54,128 L48.79,128 L50.03,128 L51.28,128 L52.52,128 L53.77,128 L55.01,128 L56.26,128 L57.5,128 L58.74,128 L59.98,128 L61.22,128 L62.46,128 L63.69,128 L64.93,128 L66.17,128 L67.41,128 L68.65,128 L69.89,128 L71.13,128 L72.37,128 L73.61,128 L74.84,128 L76.08,128 L77.32,128 L78.56,128 L79.8,128 L81.03,128 L82.27,128 L83.5,128 L84.73,128 L85.97,128 L87.2,128 L88.43,128 L89.67,128 L90.9,128 L92.13,128 L93.37,128 L94.6,128 L95.83,128 L97.07,128 L98.3,128 L99.53,128 L100.77,128 L102,128" stroke="#444" stroke-width="0.85" fill="none" />
<line x1="102" y1="128" x2="115.6" y2="128" stroke="#444" stroke-width="0.85" />
<line x1="120.2" y1="128" x2="135.5" y2="128" stroke="#444" stroke-width="0.85" />
<path d="M35.6,128 L36.85,128 L38.1,128 L39.35,128 L40.6,128 L42.02,128.01 L43.45,128.03 L44.88,128.04 L46.3,128 L47.54,127.93 L48.79,127.85 L50.03,127.76 L51.28,127.65 L52.52,127.55 L53.77,127.45 L55.01,127.37 L56.26,127.29 L57.5,127.24 L58.74,127.2 L59.98,127.16 L61.22,127.12 L62.46,127.09 L63.69,127.06 L64.93,127.03 L66.17,127 L67.41,126.97 L68.65,126.95 L69.89,126.93 L71.13,126.91 L72.37,126.9 L73.61,126.89 L74.84,126.88 L76.08,126.87 L77.32,126.86 L78.56,126.86 L79.8,126.86 L81.03,126.86 L82.27,126.87 L83.5,126.88 L84.73,126.89 L85.97,126.91 L87.2,126.93 L88.43,126.95 L89.67,126.97 L90.9,127 L92.13,127.03 L93.37,127.05 L94.6,127.08 L95.83,127.11 L97.07,127.14 L98.3,127.17 L99.53,127.19 L100.77,127.22 L102,127.24" stroke="#8a8a8a" stroke-width="0.8" fill="none" />
<line x1="102" y1="127.24" x2="115.6" y2="127.39" stroke="#8a8a8a" stroke-width="0.8" />
<line x1="120.2" y1="127.44" x2="135.5" y2="127.62" stroke="#8a8a8a" stroke-width="0.8" />
<rect x="34" y="125" width="3.2" height="5.3" fill="#111" stroke="none" stroke-width="1" rx="1.3"/>
<rect x="39" y="125" width="3.2" height="5.3" fill="#111" stroke="none" stroke-width="1" rx="1.3"/>
<rect x="44.7" y="125" width="3.2" height="5.3" fill="#111" stroke="none" stroke-width="1" rx="1.3"/>
<rect x="55.9" y="124.24" width="3.2" height="6.06" fill="#111" stroke="none" stroke-width="1" rx="1.3"/>
<path d="M57.5,122.64 L59.2,125.74 L55.8,125.74 Z" stroke="#111" stroke-width="0.3" fill="#111" />
<rect x="78.2" y="123.86" width="3.2" height="6.44" fill="#111" stroke="none" stroke-width="1" rx="1.3"/>
<path d="M79.8,122.26 L81.5,125.36 L78.1,125.36 Z" stroke="#111" stroke-width="0.3" fill="#111" />
<rect x="100.4" y="124.24" width="3.2" height="6.06" fill="#111" stroke="none" stroke-width="1" rx="1.3"/>
<path d="M102,122.64 L103.7,125.74 L100.3,125.74 Z" stroke="#111" stroke-width="0.3" fill="#111" />
<rect x="133.9" y="124.62" width="3.2" height="5.68" fill="#111" stroke="none" stroke-width="1" rx="1.3"/>
<path d="M135.5,123.02 L137.2,126.12 L133.8,126.12 Z" stroke="#111" stroke-width="0.3" fill="#111" />
<path d="M153.4,128 L154.78,128 L156.15,128 L157.53,128 L158.9,128 L160.14,128 L161.39,128 L162.63,128 L163.88,128 L165.12,128 L166.37,128 L167.61,128 L168.86,128 L170.1,128 L171.35,128 L172.6,128 L173.85,128 L175.1,128 L176.35,128 L177.6,128 L178.85,128 L180.1,128 L181.35,128 L182.6,128 L183.85,128 L185.1,128 L186.35,128 L187.6,128 L188.85,128 L190.1,128 L191.35,128 L192.6,128 L193.82,128 L195.04,128 L196.27,128 L197.49,128 L198.71,128 L199.93,128 L201.16,128 L202.38,128 L203.6,128 L204.82,128 L206.04,128 L207.27,128 L208.49,128 L209.71,128 L210.93,128 L212.16,128 L213.38,128 L214.6,128" stroke="#444" stroke-width="0.85" fill="none" />
<line x1="214.6" y1="128" x2="229.2" y2="128" stroke="#444" stroke-width="0.85" />
<line x1="233.8" y1="128" x2="248.4" y2="128" stroke="#444" stroke-width="0.85" />
<path d="M153.4,128 L154.78,128 L156.15,128 L157.53,128 L158.9,128 L160.14,128 L161.39,128 L162.63,128 L163.88,128 L165.12,128 L166.37,128 L167.61,128 L168.86,128 L170.1,128 L171.35,128 L172.6,128 L173.85,128 L175.1,128 L176.35,128 L177.6,128 L178.85,128 L180.1,128 L181.35,128 L182.6,128 L183.85,128 L185.1,128 L186.35,128 L187.6,128 L188.85,128 L190.1,128 L191.35,128 L192.6,128 L193.82,128 L195.04,128 L196.27,128 L197.49,128 L198.71,128 L199.93,128 L201.16,128 L202.38,128 L203.6,128 L204.82,128 L206.04,128 L207.27,128 L208.49,128 L209.71,128 L210.93,128 L212.16,128 L213.38,128 L214.6,128" stroke="#444" stroke-width="0.85" fill="none" />
<line x1="214.6" y1="128" x2="229.2" y2="128" stroke="#444" stroke-width="0.85" />
<line x1="233.8" y1="128" x2="248.4" y2="128" stroke="#444" stroke-width="0.85" />
<path d="M153.4,128 L154.78,128 L156.15,128 L157.53,128 L158.9,128 L160.14,128 L161.39,128 L162.63,128 L163.88,128 L165.12,128 L166.37,128 L167.61,128 L168.86,128 L170.1,128 L171.35,128 L172.6,128 L173.85,128 L175.1,128 L176.35,128 L177.6,128 L178.85,128 L180.1,128 L181.35,128 L182.6,128 L183.85,128 L185.1,128 L186.35,128 L187.6,128 L188.85,128 L190.1,128 L191.35,128 L192.6,128 L193.82,128 L195.04,128 L196.27,128 L197.49,128 L198.71,128 L199.93,128 L201.16,128 L202.38,128 L203.6,128 L204.82,128 L206.04,128 L207.27,128 L208.49,128 L209.71,128 L210.93,128 L212.16,128 L213.38,128 L214.6,128" stroke="#8a8a8a" stroke-width="0.8" fill="none" />
<line x1="214.6" y1="128" x2="229.2" y2="128" stroke="#8a8a8a" stroke-width="0.8" />
<line x1="233.8" y1="128" x2="248.4" y2="128" stroke="#8a8a8a" stroke-width="0.8" />
<rect x="151.8" y="125" width="3.2" height="5.3" fill="#111" stroke="none" stroke-width="1" rx="1.3"/>
<rect x="157.3" y="125" width="3.2" height="5.3" fill="#111" stroke="none" stroke-width="1" rx="1.3"/>
<rect x="168.5" y="125" width="3.2" height="5.3" fill="#111" stroke="none" stroke-width="1" rx="1.3"/>
<rect x="191" y="125" width="3.2" height="5.3" fill="#111" stroke="none" stroke-width="1" rx="1.3"/>
<rect x="213" y="125" width="3.2" height="5.3" fill="#111" stroke="none" stroke-width="1" rx="1.3"/>
<rect x="246.8" y="125" width="3.2" height="5.3" fill="#111" stroke="none" stroke-width="1" rx="1.3"/>
<line x1="315.1" y1="47.48" x2="315.1" y2="76.15" stroke="#a4a4a4" stroke-width="0.8" />
<line x1="314.3" y1="47.48" x2="315.9" y2="47.48" stroke="#a4a4a4" stroke-width="0.8" />
<line x1="314.3" y1="76.15" x2="315.9" y2="76.15" stroke="#a4a4a4" stroke-width="0.8" />
<line x1="337.4" y1="54.8" x2="337.4" y2="91.4" stroke="#a4a4a4" stroke-width="0.8" />
<line x1="336.6" y1="54.8" x2="338.2" y2="54.8" stroke="#a4a4a4" stroke-width="0.8" />
<line x1="336.6" y1="91.4" x2="338.2" y2="91.4" stroke="#a4a4a4" stroke-width="0.8" />
<line x1="359.6" y1="77.98" x2="359.6" y2="109.7" stroke="#a4a4a4" stroke-width="0.8" />
<line x1="358.8" y1="77.98" x2="360.4" y2="77.98" stroke="#a4a4a4" stroke-width="0.8" />
<line x1="358.8" y1="109.7" x2="360.4" y2="109.7" stroke="#a4a4a4" stroke-width="0.8" />
<line x1="411" y1="59.68" x2="411" y2="76.15" stroke="#a4a4a4" stroke-width="0.8" />
<line x1="410.2" y1="59.68" x2="411.8" y2="59.68" stroke="#a4a4a4" stroke-width="0.8" />
<line x1="410.2" y1="76.15" x2="411.8" y2="76.15" stroke="#a4a4a4" stroke-width="0.8" />
<line x1="416.5" y1="68.83" x2="416.5" y2="85.3" stroke="#a4a4a4" stroke-width="0.8" />
<line x1="415.7" y1="68.83" x2="417.3" y2="68.83" stroke="#a4a4a4" stroke-width="0.8" />
<line x1="415.7" y1="85.3" x2="417.3" y2="85.3" stroke="#a4a4a4" stroke-width="0.8" />
<line x1="427.7" y1="92.62" x2="427.7" y2="103.6" stroke="#a4a4a4" stroke-width="0.8" />
<line x1="426.9" y1="92.62" x2="428.5" y2="92.62" stroke="#a4a4a4" stroke-width="0.8" />
<line x1="426.9" y1="103.6" x2="428.5" y2="103.6" stroke="#a4a4a4" stroke-width="0.8" />
<line x1="450.2" y1="100.55" x2="450.2" y2="115.8" stroke="#a4a4a4" stroke-width="0.8" />
<line x1="449.4" y1="100.55" x2="451" y2="100.55" stroke="#a4a4a4" stroke-width="0.8" />
<line x1="449.4" y1="115.8" x2="451" y2="115.8" stroke="#a4a4a4" stroke-width="0.8" />
<path d="M293.2,128 L294.45,126.48 L295.7,124.97 L296.95,123.45 L298.2,121.9 L299.63,120.79 L301.05,120.12 L302.48,118.51 L303.9,114.58 L305.14,108.88 L306.39,101.82 L307.63,93.9 L308.88,85.6 L310.12,77.44 L311.37,69.9 L312.61,63.49 L313.86,58.69 L315.1,56.02 L316.34,54.85 L317.58,54.19 L318.82,54.01 L320.06,54.24 L321.29,54.85 L322.53,55.78 L323.77,57 L325.01,58.45 L326.25,60.09 L327.49,61.86 L328.73,63.74 L329.97,65.66 L331.21,67.58 L332.44,69.45 L333.68,71.23 L334.92,72.87 L336.16,74.32 L337.4,75.54 L338.63,76.62 L339.87,77.71 L341.1,78.79 L342.33,79.87 L343.57,80.96 L344.8,82.04 L346.03,83.12 L347.27,84.21 L348.5,85.29 L349.73,86.38 L350.97,87.46 L352.2,88.55 L353.43,89.64 L354.67,90.72 L355.9,91.81 L357.13,92.89 L358.37,93.98 L359.6,95.06" stroke="#9a9a9a" stroke-width="0.75" fill="none" />
<line x1="359.6" y1="95.06" x2="373.2" y2="101" stroke="#9a9a9a" stroke-width="0.75" />
<line x1="377.8" y1="103.01" x2="393.1" y2="109.7" stroke="#9a9a9a" stroke-width="0.75" />
<circle cx="293.2" cy="128" r="1.65" fill="none" stroke="#707070" stroke-width="0.8"/>
<line x1="291.55" y1="128" x2="294.85" y2="128" stroke="#707070" stroke-width="0.6400000000000001" />
<circle cx="298.2" cy="121.9" r="1.65" fill="none" stroke="#707070" stroke-width="0.8"/>
<line x1="296.55" y1="121.9" x2="299.85" y2="121.9" stroke="#707070" stroke-width="0.6400000000000001" />
<circle cx="303.9" cy="114.58" r="1.65" fill="none" stroke="#707070" stroke-width="0.8"/>
<line x1="302.25" y1="114.58" x2="305.55" y2="114.58" stroke="#707070" stroke-width="0.6400000000000001" />
<circle cx="315.1" cy="56.02" r="1.65" fill="none" stroke="#707070" stroke-width="0.8"/>
<line x1="313.45" y1="56.02" x2="316.75" y2="56.02" stroke="#707070" stroke-width="0.6400000000000001" />
<circle cx="337.4" cy="75.54" r="1.65" fill="none" stroke="#707070" stroke-width="0.8"/>
<line x1="335.75" y1="75.54" x2="339.05" y2="75.54" stroke="#707070" stroke-width="0.6400000000000001" />
<circle cx="359.6" cy="95.06" r="1.65" fill="none" stroke="#707070" stroke-width="0.8"/>
<line x1="357.95" y1="95.06" x2="361.25" y2="95.06" stroke="#707070" stroke-width="0.6400000000000001" />
<circle cx="393.1" cy="109.7" r="1.65" fill="none" stroke="#707070" stroke-width="0.8"/>
<line x1="391.45" y1="109.7" x2="394.75" y2="109.7" stroke="#707070" stroke-width="0.6400000000000001" />
<path d="M293.2,128 L294.45,126.48 L295.7,124.97 L296.95,123.45 L298.2,121.9 L299.63,120.61 L301.05,119.64 L302.48,117.96 L303.9,114.58 L305.14,109.96 L306.39,104.33 L307.63,98.07 L308.88,91.53 L310.12,85.09 L311.37,79.12 L312.61,73.97 L313.86,70.01 L315.1,67.61 L316.34,66.32 L317.58,65.41 L318.82,64.84 L320.06,64.58 L321.29,64.6 L322.53,64.86 L323.77,65.32 L325.01,65.96 L326.25,66.74 L327.49,67.62 L328.73,68.57 L329.97,69.55 L331.21,70.54 L332.44,71.5 L333.68,72.39 L334.92,73.18 L336.16,73.83 L337.4,74.32 L338.63,74.71 L339.87,75.11 L341.1,75.5 L342.33,75.9 L343.57,76.31 L344.8,76.71 L346.03,77.12 L347.27,77.53 L348.5,77.94 L349.73,78.35 L350.97,78.76 L352.2,79.18 L353.43,79.59 L354.67,80 L355.9,80.41 L357.13,80.82 L358.37,81.23 L359.6,81.64" stroke="#9a9a9a" stroke-width="0.75" fill="none" />
<line x1="359.6" y1="81.64" x2="373.2" y2="88.33" stroke="#9a9a9a" stroke-width="0.75" />
<line x1="377.8" y1="90.59" x2="393.1" y2="98.11" stroke="#9a9a9a" stroke-width="0.75" />
<rect x="291.55" y="126.35" width="3.3" height="3.3" fill="none" stroke="#707070" stroke-width="0.8" />
<rect x="296.55" y="120.25" width="3.3" height="3.3" fill="none" stroke="#707070" stroke-width="0.8" />
<rect x="302.25" y="112.93" width="3.3" height="3.3" fill="none" stroke="#707070" stroke-width="0.8" />
<rect x="313.45" y="65.96" width="3.3" height="3.3" fill="none" stroke="#707070" stroke-width="0.8" />
<rect x="335.75" y="72.67" width="3.3" height="3.3" fill="none" stroke="#707070" stroke-width="0.8" />
<rect x="357.95" y="79.99" width="3.3" height="3.3" fill="none" stroke="#707070" stroke-width="0.8" />
<rect x="391.45" y="96.46" width="3.3" height="3.3" fill="none" stroke="#707070" stroke-width="0.8" />
<path d="M293.2,128 L294.45,126.46 L295.7,124.9 L296.95,123.37 L298.2,121.9 L299.63,120.85 L301.05,120.22 L302.48,118.91 L303.9,115.8 L305.14,111.32 L306.39,105.78 L307.63,99.57 L308.88,93.08 L310.12,86.7 L311.37,80.82 L312.61,75.82 L313.86,72.1 L315.1,70.05 L316.34,69.18 L317.58,68.73 L318.82,68.64 L320.06,68.89 L321.29,69.43 L322.53,70.23 L323.77,71.26 L325.01,72.47 L326.25,73.82 L327.49,75.29 L328.73,76.83 L329.97,78.41 L331.21,79.98 L332.44,81.51 L333.68,82.97 L334.92,84.32 L336.16,85.51 L337.4,86.52 L338.63,87.41 L339.87,88.31 L341.1,89.19 L342.33,90.08 L343.57,90.96 L344.8,91.85 L346.03,92.73 L347.27,93.61 L348.5,94.48 L349.73,95.36 L350.97,96.24 L352.2,97.11 L353.43,97.99 L354.67,98.87 L355.9,99.74 L357.13,100.62 L358.37,101.5 L359.6,102.38" stroke="#9a9a9a" stroke-width="0.75" fill="none" />
<line x1="359.6" y1="102.38" x2="373.2" y2="106.34" stroke="#9a9a9a" stroke-width="0.75" />
<line x1="377.8" y1="107.68" x2="393.1" y2="112.14" stroke="#9a9a9a" stroke-width="0.75" />
<line x1="291.55" y1="126.68" x2="294.85" y2="129.32" stroke="#707070" stroke-width="0.8" />
<line x1="291.55" y1="129.32" x2="294.85" y2="126.68" stroke="#707070" stroke-width="0.8" />
<line x1="291.55" y1="128" x2="294.85" y2="128" stroke="#707070" stroke-width="0.6400000000000001" />
<line x1="296.55" y1="120.58" x2="299.85" y2="123.22" stroke="#707070" stroke-width="0.8" />
<line x1="296.55" y1="123.22" x2="299.85" y2="120.58" stroke="#707070" stroke-width="0.8" />
<line x1="296.55" y1="121.9" x2="299.85" y2="121.9" stroke="#707070" stroke-width="0.6400000000000001" />
<line x1="302.25" y1="114.48" x2="305.55" y2="117.12" stroke="#707070" stroke-width="0.8" />
<line x1="302.25" y1="117.12" x2="305.55" y2="114.48" stroke="#707070" stroke-width="0.8" />
<line x1="302.25" y1="115.8" x2="305.55" y2="115.8" stroke="#707070" stroke-width="0.6400000000000001" />
<line x1="313.45" y1="68.73" x2="316.75" y2="71.37" stroke="#707070" stroke-width="0.8" />
<line x1="313.45" y1="71.37" x2="316.75" y2="68.73" stroke="#707070" stroke-width="0.8" />
<line x1="313.45" y1="70.05" x2="316.75" y2="70.05" stroke="#707070" stroke-width="0.6400000000000001" />
<line x1="335.75" y1="85.2" x2="339.05" y2="87.84" stroke="#707070" stroke-width="0.8" />
<line x1="335.75" y1="87.84" x2="339.05" y2="85.2" stroke="#707070" stroke-width="0.8" />
<line x1="335.75" y1="86.52" x2="339.05" y2="86.52" stroke="#707070" stroke-width="0.6400000000000001" />
<line x1="357.95" y1="101.06" x2="361.25" y2="103.7" stroke="#707070" stroke-width="0.8" />
<line x1="357.95" y1="103.7" x2="361.25" y2="101.06" stroke="#707070" stroke-width="0.8" />
<line x1="357.95" y1="102.38" x2="361.25" y2="102.38" stroke="#707070" stroke-width="0.6400000000000001" />
<line x1="391.45" y1="110.82" x2="394.75" y2="113.46" stroke="#707070" stroke-width="0.8" />
<line x1="391.45" y1="113.46" x2="394.75" y2="110.82" stroke="#707070" stroke-width="0.8" />
<line x1="391.45" y1="112.14" x2="394.75" y2="112.14" stroke="#707070" stroke-width="0.6400000000000001" />
<path d="M293.2,128 L294.45,126.79 L295.7,125.59 L296.95,124.38 L298.2,123.12 L299.63,121.83 L301.05,120.62 L302.48,119.15 L303.9,117.02 L305.14,114.59 L306.39,111.87 L307.63,108.95 L308.88,105.93 L310.12,102.9 L311.37,99.96 L312.61,97.2 L313.86,94.72 L315.1,92.62 L316.34,90.71 L317.58,88.75 L318.82,86.75 L320.06,84.73 L321.29,82.72 L322.53,80.74 L323.77,78.8 L325.01,76.92 L326.25,75.14 L327.49,73.46 L328.73,71.91 L329.97,70.51 L331.21,69.28 L332.44,68.24 L333.68,67.41 L334.92,66.81 L336.16,66.47 L337.4,66.39 L338.63,66.62 L339.87,67.17 L341.1,67.99 L342.33,69.07 L343.57,70.38 L344.8,71.88 L346.03,73.55 L347.27,75.37 L348.5,77.29 L349.73,79.31 L350.97,81.37 L352.2,83.47 L353.43,85.57 L354.67,87.63 L355.9,89.65 L357.13,91.57 L358.37,93.39 L359.6,95.06" stroke="#9a9a9a" stroke-width="0.75" fill="none" />
<line x1="359.6" y1="95.06" x2="373.2" y2="99.27" stroke="#9a9a9a" stroke-width="0.75" />
<line x1="377.8" y1="100.69" x2="393.1" y2="105.43" stroke="#9a9a9a" stroke-width="0.75" />
<path d="M293.2,126.02 L295.02,129.32 L291.39,129.32 Z" stroke="#707070" stroke-width="0.8" fill="none" />
<path d="M298.2,121.14 L300.02,124.44 L296.39,124.44 Z" stroke="#707070" stroke-width="0.8" fill="none" />
<path d="M303.9,115.04 L305.72,118.34 L302.09,118.34 Z" stroke="#707070" stroke-width="0.8" fill="none" />
<path d="M315.1,90.64 L316.92,93.94 L313.29,93.94 Z" stroke="#707070" stroke-width="0.8" fill="none" />
<path d="M337.4,64.41 L339.22,67.71 L335.59,67.71 Z" stroke="#707070" stroke-width="0.8" fill="none" />
<path d="M359.6,93.08 L361.42,96.38 L357.79,96.38 Z" stroke="#707070" stroke-width="0.8" fill="none" />
<path d="M393.1,103.45 L394.92,106.75 L391.29,106.75 Z" stroke="#707070" stroke-width="0.8" fill="none" />
<path d="M293.2,128 L294.45,126.75 L295.7,125.48 L296.95,124.26 L298.2,123.12 L299.63,122.02 L301.05,121.04 L302.48,120.04 L303.9,118.85 L305.14,117.62 L306.39,116.28 L307.63,114.88 L308.88,113.45 L310.12,112.03 L311.37,110.66 L312.61,109.39 L313.86,108.24 L315.1,107.26 L316.34,106.36 L317.58,105.43 L318.82,104.49 L320.06,103.53 L321.29,102.58 L322.53,101.64 L323.77,100.72 L325.01,99.83 L326.25,98.99 L327.49,98.2 L328.73,97.47 L329.97,96.82 L331.21,96.26 L332.44,95.79 L333.68,95.42 L334.92,95.17 L336.16,95.05 L337.4,95.06 L338.63,95.23 L339.87,95.55 L341.1,96.01 L342.33,96.6 L343.57,97.31 L344.8,98.11 L346.03,99 L347.27,99.95 L348.5,100.97 L349.73,102.03 L350.97,103.11 L352.2,104.21 L353.43,105.31 L354.67,106.39 L355.9,107.45 L357.13,108.46 L358.37,109.42 L359.6,110.31" stroke="#9a9a9a" stroke-width="0.75" fill="none" />
<line x1="359.6" y1="110.31" x2="373.2" y2="111.55" stroke="#9a9a9a" stroke-width="0.75" />
<line x1="377.8" y1="111.97" x2="393.1" y2="113.36" stroke="#9a9a9a" stroke-width="0.75" />
<path d="M293.2,126.02 L294.85,128 L293.2,129.98 L291.55,128 Z" stroke="#707070" stroke-width="0.8" fill="none" />
<path d="M298.2,121.14 L299.85,123.12 L298.2,125.1 L296.55,123.12 Z" stroke="#707070" stroke-width="0.8" fill="none" />
<path d="M303.9,116.87 L305.55,118.85 L303.9,120.83 L302.25,118.85 Z" stroke="#707070" stroke-width="0.8" fill="none" />
<path d="M315.1,105.28 L316.75,107.26 L315.1,109.24 L313.45,107.26 Z" stroke="#707070" stroke-width="0.8" fill="none" />
<path d="M337.4,93.08 L339.05,95.06 L337.4,97.04 L335.75,95.06 Z" stroke="#707070" stroke-width="0.8" fill="none" />
<path d="M359.6,108.33 L361.25,110.31 L359.6,112.29 L357.95,110.31 Z" stroke="#707070" stroke-width="0.8" fill="none" />
<path d="M393.1,111.38 L394.75,113.36 L393.1,115.34 L391.45,113.36 Z" stroke="#707070" stroke-width="0.8" fill="none" />
<path d="M411,67.61 L412.38,69.13 L413.75,70.55 L415.12,72.17 L416.5,74.32 L417.74,76.82 L418.99,79.7 L420.23,82.8 L421.48,85.98 L422.72,89.1 L423.97,92.02 L425.21,94.59 L426.46,96.66 L427.7,98.11 L428.95,99.09 L430.2,99.87 L431.45,100.48 L432.7,100.93 L433.95,101.26 L435.2,101.47 L436.45,101.6 L437.7,101.66 L438.95,101.68 L440.2,101.68 L441.45,101.68 L442.7,101.71 L443.95,101.78 L445.2,101.92 L446.45,102.15 L447.7,102.49 L448.95,102.97 L450.2,103.6 L451.42,104.35 L452.64,105.18 L453.87,106.09 L455.09,107.07 L456.31,108.11 L457.53,109.2 L458.76,110.34 L459.98,111.52 L461.2,112.73 L462.42,113.96 L463.64,115.21 L464.87,116.47 L466.09,117.72 L467.31,118.97 L468.53,120.2 L469.76,121.41 L470.98,122.59 L472.2,123.73" stroke="#9a9a9a" stroke-width="0.75" fill="none" />
<line x1="472.2" y1="123.73" x2="486.8" y2="125.05" stroke="#9a9a9a" stroke-width="0.75" />
<line x1="491.4" y1="125.46" x2="506" y2="126.78" stroke="#9a9a9a" stroke-width="0.75" />
<circle cx="411" cy="67.61" r="1.65" fill="none" stroke="#707070" stroke-width="0.8"/>
<line x1="409.35" y1="67.61" x2="412.65" y2="67.61" stroke="#707070" stroke-width="0.6400000000000001" />
<circle cx="416.5" cy="74.32" r="1.65" fill="none" stroke="#707070" stroke-width="0.8"/>
<line x1="414.85" y1="74.32" x2="418.15" y2="74.32" stroke="#707070" stroke-width="0.6400000000000001" />
<circle cx="427.7" cy="98.11" r="1.65" fill="none" stroke="#707070" stroke-width="0.8"/>
<line x1="426.05" y1="98.11" x2="429.35" y2="98.11" stroke="#707070" stroke-width="0.6400000000000001" />
<circle cx="450.2" cy="103.6" r="1.65" fill="none" stroke="#707070" stroke-width="0.8"/>
<line x1="448.55" y1="103.6" x2="451.85" y2="103.6" stroke="#707070" stroke-width="0.6400000000000001" />
<circle cx="472.2" cy="123.73" r="1.65" fill="none" stroke="#707070" stroke-width="0.8"/>
<line x1="470.55" y1="123.73" x2="473.85" y2="123.73" stroke="#707070" stroke-width="0.6400000000000001" />
<circle cx="506" cy="126.78" r="1.65" fill="none" stroke="#707070" stroke-width="0.8"/>
<line x1="504.35" y1="126.78" x2="507.65" y2="126.78" stroke="#707070" stroke-width="0.6400000000000001" />
<path d="M411,79.81 L412.38,79.5 L413.75,78.98 L415.12,78.88 L416.5,79.81 L417.74,81.58 L418.99,83.8 L420.23,86.32 L421.48,89.01 L422.72,91.72 L423.97,94.31 L425.21,96.64 L426.46,98.56 L427.7,99.94 L428.95,100.93 L430.2,101.78 L431.45,102.5 L432.7,103.12 L433.95,103.64 L435.2,104.08 L436.45,104.45 L437.7,104.77 L438.95,105.06 L440.2,105.33 L441.45,105.59 L442.7,105.86 L443.95,106.15 L445.2,106.48 L446.45,106.86 L447.7,107.31 L448.95,107.85 L450.2,108.48 L451.42,109.17 L452.64,109.91 L453.87,110.68 L455.09,111.49 L456.31,112.34 L457.53,113.2 L458.76,114.1 L459.98,115.01 L461.2,115.94 L462.42,116.87 L463.64,117.82 L464.87,118.77 L466.09,119.72 L467.31,120.67 L468.53,121.61 L469.76,122.54 L470.98,123.45 L472.2,124.34" stroke="#9a9a9a" stroke-width="0.75" fill="none" />
<line x1="472.2" y1="124.34" x2="486.8" y2="125.39" stroke="#9a9a9a" stroke-width="0.75" />
<line x1="491.4" y1="125.73" x2="506" y2="126.78" stroke="#9a9a9a" stroke-width="0.75" />
<rect x="409.35" y="78.16" width="3.3" height="3.3" fill="none" stroke="#707070" stroke-width="0.8" />
<rect x="414.85" y="78.16" width="3.3" height="3.3" fill="none" stroke="#707070" stroke-width="0.8" />
<rect x="426.05" y="98.29" width="3.3" height="3.3" fill="none" stroke="#707070" stroke-width="0.8" />
<rect x="448.55" y="106.83" width="3.3" height="3.3" fill="none" stroke="#707070" stroke-width="0.8" />
<rect x="470.55" y="122.69" width="3.3" height="3.3" fill="none" stroke="#707070" stroke-width="0.8" />
<rect x="504.35" y="125.13" width="3.3" height="3.3" fill="none" stroke="#707070" stroke-width="0.8" />
<path d="M411,90.18 L412.38,90.57 L413.75,90.92 L415.12,91.36 L416.5,92.01 L417.74,92.78 L418.99,93.63 L420.23,94.54 L421.48,95.48 L422.72,96.43 L423.97,97.38 L425.21,98.29 L426.46,99.15 L427.7,99.94 L428.95,100.68 L430.2,101.4 L431.45,102.11 L432.7,102.8 L433.95,103.48 L435.2,104.16 L436.45,104.82 L437.7,105.48 L438.95,106.14 L440.2,106.79 L441.45,107.45 L442.7,108.1 L443.95,108.76 L445.2,109.42 L446.45,110.08 L447.7,110.76 L448.95,111.44 L450.2,112.14 L451.42,112.83 L452.64,113.52 L453.87,114.22 L455.09,114.93 L456.31,115.63 L457.53,116.34 L458.76,117.06 L459.98,117.77 L461.2,118.49 L462.42,119.21 L463.64,119.93 L464.87,120.65 L466.09,121.37 L467.31,122.09 L468.53,122.8 L469.76,123.52 L470.98,124.24 L472.2,124.95" stroke="#9a9a9a" stroke-width="0.75" fill="none" />
<line x1="472.2" y1="124.95" x2="486.8" y2="125.74" stroke="#9a9a9a" stroke-width="0.75" />
<line x1="491.4" y1="125.99" x2="506" y2="126.78" stroke="#9a9a9a" stroke-width="0.75" />
<line x1="409.35" y1="88.86" x2="412.65" y2="91.5" stroke="#707070" stroke-width="0.8" />
<line x1="409.35" y1="91.5" x2="412.65" y2="88.86" stroke="#707070" stroke-width="0.8" />
<line x1="409.35" y1="90.18" x2="412.65" y2="90.18" stroke="#707070" stroke-width="0.6400000000000001" />
<line x1="414.85" y1="90.69" x2="418.15" y2="93.33" stroke="#707070" stroke-width="0.8" />
<line x1="414.85" y1="93.33" x2="418.15" y2="90.69" stroke="#707070" stroke-width="0.8" />
<line x1="414.85" y1="92.01" x2="418.15" y2="92.01" stroke="#707070" stroke-width="0.6400000000000001" />
<line x1="426.05" y1="98.62" x2="429.35" y2="101.26" stroke="#707070" stroke-width="0.8" />
<line x1="426.05" y1="101.26" x2="429.35" y2="98.62" stroke="#707070" stroke-width="0.8" />
<line x1="426.05" y1="99.94" x2="429.35" y2="99.94" stroke="#707070" stroke-width="0.6400000000000001" />
<line x1="448.55" y1="110.82" x2="451.85" y2="113.46" stroke="#707070" stroke-width="0.8" />
<line x1="448.55" y1="113.46" x2="451.85" y2="110.82" stroke="#707070" stroke-width="0.8" />
<line x1="448.55" y1="112.14" x2="451.85" y2="112.14" stroke="#707070" stroke-width="0.6400000000000001" />
<line x1="470.55" y1="123.63" x2="473.85" y2="126.27" stroke="#707070" stroke-width="0.8" />
<line x1="470.55" y1="126.27" x2="473.85" y2="123.63" stroke="#707070" stroke-width="0.8" />
<line x1="470.55" y1="124.95" x2="473.85" y2="124.95" stroke="#707070" stroke-width="0.6400000000000001" />
<line x1="504.35" y1="125.46" x2="507.65" y2="128.1" stroke="#707070" stroke-width="0.8" />
<line x1="504.35" y1="128.1" x2="507.65" y2="125.46" stroke="#707070" stroke-width="0.8" />
<line x1="504.35" y1="126.78" x2="507.65" y2="126.78" stroke="#707070" stroke-width="0.6400000000000001" />
<path d="M411,94.45 L412.38,96.02 L413.75,97.73 L415.12,99.17 L416.5,99.94 L417.74,100.08 L418.99,99.99 L420.23,99.74 L421.48,99.38 L422.72,98.98 L423.97,98.59 L425.21,98.27 L426.46,98.09 L427.7,98.11 L428.95,98.24 L430.2,98.36 L431.45,98.49 L432.7,98.61 L433.95,98.74 L435.2,98.89 L436.45,99.06 L437.7,99.25 L438.95,99.46 L440.2,99.72 L441.45,100.01 L442.7,100.35 L443.95,100.73 L445.2,101.18 L446.45,101.68 L447.7,102.25 L448.95,102.89 L450.2,103.6 L451.42,104.39 L452.64,105.26 L453.87,106.22 L455.09,107.26 L456.31,108.36 L457.53,109.52 L458.76,110.73 L459.98,111.98 L461.2,113.26 L462.42,114.57 L463.64,115.9 L464.87,117.23 L466.09,118.57 L467.31,119.9 L468.53,121.2 L469.76,122.49 L470.98,123.74 L472.2,124.95" stroke="#9a9a9a" stroke-width="0.75" fill="none" />
<line x1="472.2" y1="124.95" x2="486.8" y2="125.74" stroke="#9a9a9a" stroke-width="0.75" />
<line x1="491.4" y1="125.99" x2="506" y2="126.78" stroke="#9a9a9a" stroke-width="0.75" />
<path d="M411,92.47 L412.81,95.77 L409.19,95.77 Z" stroke="#707070" stroke-width="0.8" fill="none" />
<path d="M416.5,97.96 L418.31,101.26 L414.69,101.26 Z" stroke="#707070" stroke-width="0.8" fill="none" />
<path d="M427.7,96.13 L429.52,99.43 L425.89,99.43 Z" stroke="#707070" stroke-width="0.8" fill="none" />
<path d="M450.2,101.62 L452.02,104.92 L448.39,104.92 Z" stroke="#707070" stroke-width="0.8" fill="none" />
<path d="M472.2,122.97 L474.02,126.27 L470.39,126.27 Z" stroke="#707070" stroke-width="0.8" fill="none" />
<path d="M506,124.8 L507.81,128.1 L504.19,128.1 Z" stroke="#707070" stroke-width="0.8" fill="none" />
<path d="M411,98.72 L412.38,98.23 L413.75,97.61 L415.12,97.24 L416.5,97.5 L417.74,98.26 L418.99,99.24 L420.23,100.37 L421.48,101.6 L422.72,102.87 L423.97,104.13 L425.21,105.32 L426.46,106.38 L427.7,107.26 L428.95,108.02 L430.2,108.75 L431.45,109.46 L432.7,110.15 L433.95,110.82 L435.2,111.47 L436.45,112.11 L437.7,112.72 L438.95,113.32 L440.2,113.91 L441.45,114.49 L442.7,115.05 L443.95,115.6 L445.2,116.14 L446.45,116.68 L447.7,117.2 L448.95,117.72 L450.2,118.24 L451.42,118.73 L452.64,119.2 L453.87,119.66 L455.09,120.1 L456.31,120.52 L457.53,120.94 L458.76,121.34 L459.98,121.73 L461.2,122.12 L462.42,122.5 L463.64,122.87 L464.87,123.25 L466.09,123.62 L467.31,124 L468.53,124.38 L469.76,124.77 L470.98,125.16 L472.2,125.56" stroke="#9a9a9a" stroke-width="0.75" fill="none" />
<line x1="472.2" y1="125.56" x2="486.8" y2="126.09" stroke="#9a9a9a" stroke-width="0.75" />
<line x1="491.4" y1="126.25" x2="506" y2="126.78" stroke="#9a9a9a" stroke-width="0.75" />
<path d="M411,96.74 L412.65,98.72 L411,100.7 L409.35,98.72 Z" stroke="#707070" stroke-width="0.8" fill="none" />
<path d="M416.5,95.52 L418.15,97.5 L416.5,99.48 L414.85,97.5 Z" stroke="#707070" stroke-width="0.8" fill="none" />
<path d="M427.7,105.28 L429.35,107.26 L427.7,109.24 L426.05,107.26 Z" stroke="#707070" stroke-width="0.8" fill="none" />
<path d="M450.2,116.26 L451.85,118.24 L450.2,120.22 L448.55,118.24 Z" stroke="#707070" stroke-width="0.8" fill="none" />
<path d="M472.2,123.58 L473.85,125.56 L472.2,127.54 L470.55,125.56 Z" stroke="#707070" stroke-width="0.8" fill="none" />
<path d="M506,124.8 L507.65,126.78 L506,128.76 L504.35,126.78 Z" stroke="#707070" stroke-width="0.8" fill="none" />
<path d="M293.2,128 L294.45,128 L295.7,128 L296.95,128 L298.2,128 L299.63,128 L301.05,128 L302.48,128 L303.9,128 L305.14,128 L306.39,128 L307.63,128 L308.88,128 L310.12,128 L311.37,128 L312.61,128 L313.86,128 L315.1,128 L316.34,128 L317.58,128 L318.82,128 L320.06,128 L321.29,128 L322.53,128 L323.77,128 L325.01,128 L326.25,128 L327.49,128 L328.73,128 L329.97,128 L331.21,128 L332.44,128 L333.68,128 L334.92,128 L336.16,128 L337.4,128 L338.63,128 L339.87,128 L341.1,128 L342.33,128 L343.57,128 L344.8,128 L346.03,128 L347.27,128 L348.5,128 L349.73,128 L350.97,128 L352.2,128 L353.43,128 L354.67,128 L355.9,128 L357.13,128 L358.37,128 L359.6,128" stroke="#444" stroke-width="0.85" fill="none" />
<line x1="359.6" y1="128" x2="373.2" y2="128" stroke="#444" stroke-width="0.85" />
<line x1="377.8" y1="128" x2="393.1" y2="128" stroke="#444" stroke-width="0.85" />
<path d="M293.2,128 L294.45,128 L295.7,128 L296.95,128 L298.2,128 L299.63,128 L301.05,128 L302.48,128 L303.9,128 L305.14,128 L306.39,128 L307.63,128 L308.88,128 L310.12,128 L311.37,128 L312.61,128 L313.86,128 L315.1,128 L316.34,128 L317.58,128 L318.82,128 L320.06,128 L321.29,128 L322.53,128 L323.77,128 L325.01,128 L326.25,128 L327.49,128 L328.73,128 L329.97,128 L331.21,128 L332.44,128 L333.68,128 L334.92,128 L336.16,128 L337.4,128 L338.63,128 L339.87,128 L341.1,128 L342.33,128 L343.57,128 L344.8,128 L346.03,128 L347.27,128 L348.5,128 L349.73,128 L350.97,128 L352.2,128 L353.43,128 L354.67,128 L355.9,128 L357.13,128 L358.37,128 L359.6,128" stroke="#444" stroke-width="0.85" fill="none" />
<line x1="359.6" y1="128" x2="373.2" y2="128" stroke="#444" stroke-width="0.85" />
<line x1="377.8" y1="128" x2="393.1" y2="128" stroke="#444" stroke-width="0.85" />
<path d="M293.2,128 L294.45,128.03 L295.7,128.07 L296.95,128.08 L298.2,128 L299.63,127.9 L301.05,127.8 L302.48,127.49 L303.9,126.78 L305.14,125.77 L306.39,124.52 L307.63,123.11 L308.88,121.64 L310.12,120.19 L311.37,118.85 L312.61,117.71 L313.86,116.87 L315.1,116.41 L316.34,116.22 L317.58,116.14 L318.82,116.14 L320.06,116.22 L321.29,116.36 L322.53,116.57 L323.77,116.83 L325.01,117.13 L326.25,117.47 L327.49,117.82 L328.73,118.19 L329.97,118.56 L331.21,118.93 L332.44,119.29 L333.68,119.62 L334.92,119.92 L336.16,120.17 L337.4,120.38 L338.63,120.54 L339.87,120.7 L341.1,120.86 L342.33,121 L343.57,121.14 L344.8,121.27 L346.03,121.4 L347.27,121.52 L348.5,121.64 L349.73,121.75 L350.97,121.87 L352.2,121.98 L353.43,122.09 L354.67,122.21 L355.9,122.33 L357.13,122.44 L358.37,122.57 L359.6,122.69" stroke="#8a8a8a" stroke-width="0.8" fill="none" />
<line x1="359.6" y1="122.69" x2="373.2" y2="123.61" stroke="#8a8a8a" stroke-width="0.8" />
<line x1="377.8" y1="123.92" x2="393.1" y2="124.95" stroke="#8a8a8a" stroke-width="0.8" />
<rect x="291.6" y="125" width="3.2" height="5.3" fill="#111" stroke="none" stroke-width="1" rx="1.3"/>
<rect x="296.6" y="125" width="3.2" height="5.3" fill="#111" stroke="none" stroke-width="1" rx="1.3"/>
<rect x="302.3" y="123.78" width="3.2" height="6.52" fill="#111" stroke="none" stroke-width="1" rx="1.3"/>
<path d="M303.9,122.18 L305.6,125.28 L302.2,125.28 Z" stroke="#111" stroke-width="0.3" fill="#111" />
<path d="M315.1,114 L317.14,118.08 L313.06,118.08 Z" stroke="#111" stroke-width="0.3" fill="#111" />
<rect x="313.5" y="125" width="3.2" height="5.3" fill="#111" stroke="none" stroke-width="1" rx="1.3"/>
<path d="M337.4,117.97 L339.44,122.04 L335.37,122.04 Z" stroke="#111" stroke-width="0.3" fill="#111" />
<rect x="335.8" y="125" width="3.2" height="5.3" fill="#111" stroke="none" stroke-width="1" rx="1.3"/>
<rect x="358" y="119.69" width="3.2" height="10.61" fill="#111" stroke="none" stroke-width="1" rx="1.3"/>
<path d="M359.6,118.09 L361.3,121.19 L357.9,121.19 Z" stroke="#111" stroke-width="0.3" fill="#111" />
<rect x="391.5" y="121.95" width="3.2" height="8.35" fill="#111" stroke="none" stroke-width="1" rx="1.3"/>
<path d="M393.1,120.35 L394.8,123.45 L391.4,123.45 Z" stroke="#111" stroke-width="0.3" fill="#111" />
<path d="M411,128 L412.38,128 L413.75,128 L415.12,128 L416.5,128 L417.74,128 L418.99,128 L420.23,128 L421.48,128 L422.72,128 L423.97,128 L425.21,128 L426.46,128 L427.7,128 L428.95,128 L430.2,128 L431.45,128 L432.7,128 L433.95,128 L435.2,128 L436.45,128 L437.7,128 L438.95,128 L440.2,128 L441.45,128 L442.7,128 L443.95,128 L445.2,128 L446.45,128 L447.7,128 L448.95,128 L450.2,128 L451.42,128 L452.64,128 L453.87,128 L455.09,128 L456.31,128 L457.53,128 L458.76,128 L459.98,128 L461.2,128 L462.42,128 L463.64,128 L464.87,128 L466.09,128 L467.31,128 L468.53,128 L469.76,128 L470.98,128 L472.2,128" stroke="#444" stroke-width="0.85" fill="none" />
<line x1="472.2" y1="128" x2="486.8" y2="128" stroke="#444" stroke-width="0.85" />
<line x1="491.4" y1="128" x2="506" y2="128" stroke="#444" stroke-width="0.85" />
<path d="M411,128 L412.38,128 L413.75,128 L415.12,128 L416.5,128 L417.74,128 L418.99,128 L420.23,128 L421.48,128 L422.72,128 L423.97,128 L425.21,128 L426.46,128 L427.7,128 L428.95,128 L430.2,128 L431.45,128 L432.7,128 L433.95,128 L435.2,128 L436.45,128 L437.7,128 L438.95,128 L440.2,128 L441.45,128 L442.7,128 L443.95,128 L445.2,128 L446.45,128 L447.7,128 L448.95,128 L450.2,128 L451.42,128 L452.64,128 L453.87,128 L455.09,128 L456.31,128 L457.53,128 L458.76,128 L459.98,128 L461.2,128 L462.42,128 L463.64,128 L464.87,128 L466.09,128 L467.31,128 L468.53,128 L469.76,128 L470.98,128 L472.2,128" stroke="#444" stroke-width="0.85" fill="none" />
<line x1="472.2" y1="128" x2="486.8" y2="128" stroke="#444" stroke-width="0.85" />
<line x1="491.4" y1="128" x2="506" y2="128" stroke="#444" stroke-width="0.85" />
<path d="M411,117.63 L412.38,117.61 L413.75,117.58 L415.12,117.57 L416.5,117.63 L417.74,117.72 L418.99,117.8 L420.23,117.89 L421.48,117.98 L422.72,118.1 L423.97,118.23 L425.21,118.4 L426.46,118.6 L427.7,118.85 L428.95,119.13 L430.2,119.44 L431.45,119.76 L432.7,120.1 L433.95,120.45 L435.2,120.81 L436.45,121.18 L437.7,121.56 L438.95,121.93 L440.2,122.31 L441.45,122.68 L442.7,123.05 L443.95,123.4 L445.2,123.75 L446.45,124.08 L447.7,124.39 L448.95,124.68 L450.2,124.95 L451.42,125.19 L452.64,125.42 L453.87,125.63 L455.09,125.83 L456.31,126.01 L457.53,126.18 L458.76,126.35 L459.98,126.51 L461.2,126.66 L462.42,126.81 L463.64,126.95 L464.87,127.09 L466.09,127.23 L467.31,127.38 L468.53,127.53 L469.76,127.68 L470.98,127.83 L472.2,128" stroke="#8a8a8a" stroke-width="0.8" fill="none" />
<line x1="472.2" y1="128" x2="486.8" y2="128" stroke="#8a8a8a" stroke-width="0.8" />
<line x1="491.4" y1="128" x2="506" y2="128" stroke="#8a8a8a" stroke-width="0.8" />
<path d="M411,115.22 L413.04,119.3 L408.96,119.3 Z" stroke="#111" stroke-width="0.3" fill="#111" />
<rect x="409.4" y="125" width="3.2" height="5.3" fill="#111" stroke="none" stroke-width="1" rx="1.3"/>
<path d="M416.5,115.22 L418.54,119.3 L414.46,119.3 Z" stroke="#111" stroke-width="0.3" fill="#111" />
<rect x="414.9" y="125" width="3.2" height="5.3" fill="#111" stroke="none" stroke-width="1" rx="1.3"/>
<path d="M427.7,116.44 L429.74,120.52 L425.67,120.52 Z" stroke="#111" stroke-width="0.3" fill="#111" />
<rect x="426.1" y="125" width="3.2" height="5.3" fill="#111" stroke="none" stroke-width="1" rx="1.3"/>
<rect x="448.6" y="121.95" width="3.2" height="8.35" fill="#111" stroke="none" stroke-width="1" rx="1.3"/>
<path d="M450.2,120.35 L451.9,123.45 L448.5,123.45 Z" stroke="#111" stroke-width="0.3" fill="#111" />
<rect x="470.6" y="125" width="3.2" height="5.3" fill="#111" stroke="none" stroke-width="1" rx="1.3"/>
<rect x="504.4" y="125" width="3.2" height="5.3" fill="#111" stroke="none" stroke-width="1" rx="1.3"/>
<line x1="57.5" y1="200.6" x2="57.5" y2="216.8" stroke="#a4a4a4" stroke-width="0.8" />
<line x1="56.7" y1="200.6" x2="58.3" y2="200.6" stroke="#a4a4a4" stroke-width="0.8" />
<line x1="56.7" y1="216.8" x2="58.3" y2="216.8" stroke="#a4a4a4" stroke-width="0.8" />
<line x1="79.8" y1="181.04" x2="79.8" y2="203.66" stroke="#a4a4a4" stroke-width="0.8" />
<line x1="79" y1="181.04" x2="80.6" y2="181.04" stroke="#a4a4a4" stroke-width="0.8" />
<line x1="79" y1="203.66" x2="80.6" y2="203.66" stroke="#a4a4a4" stroke-width="0.8" />
<line x1="102" y1="168.81" x2="102" y2="196.93" stroke="#a4a4a4" stroke-width="0.8" />
<line x1="101.2" y1="168.81" x2="102.8" y2="168.81" stroke="#a4a4a4" stroke-width="0.8" />
<line x1="101.2" y1="196.93" x2="102.8" y2="196.93" stroke="#a4a4a4" stroke-width="0.8" />
<line x1="135.5" y1="159.64" x2="135.5" y2="198.46" stroke="#a4a4a4" stroke-width="0.8" />
<line x1="134.7" y1="159.64" x2="136.3" y2="159.64" stroke="#a4a4a4" stroke-width="0.8" />
<line x1="134.7" y1="198.46" x2="136.3" y2="198.46" stroke="#a4a4a4" stroke-width="0.8" />
<line x1="153.4" y1="161.78" x2="153.4" y2="172.48" stroke="#a4a4a4" stroke-width="0.8" />
<line x1="152.6" y1="161.78" x2="154.2" y2="161.78" stroke="#a4a4a4" stroke-width="0.8" />
<line x1="152.6" y1="172.48" x2="154.2" y2="172.48" stroke="#a4a4a4" stroke-width="0.8" />
<line x1="158.9" y1="166.37" x2="158.9" y2="181.65" stroke="#a4a4a4" stroke-width="0.8" />
<line x1="158.1" y1="166.37" x2="159.7" y2="166.37" stroke="#a4a4a4" stroke-width="0.8" />
<line x1="158.1" y1="181.65" x2="159.7" y2="181.65" stroke="#a4a4a4" stroke-width="0.8" />
<line x1="170.1" y1="192.35" x2="170.1" y2="209.16" stroke="#a4a4a4" stroke-width="0.8" />
<line x1="169.3" y1="192.35" x2="170.9" y2="192.35" stroke="#a4a4a4" stroke-width="0.8" />
<line x1="169.3" y1="209.16" x2="170.9" y2="209.16" stroke="#a4a4a4" stroke-width="0.8" />
<line x1="192.6" y1="209.16" x2="192.6" y2="219.86" stroke="#a4a4a4" stroke-width="0.8" />
<line x1="191.8" y1="209.16" x2="193.4" y2="209.16" stroke="#a4a4a4" stroke-width="0.8" />
<line x1="191.8" y1="219.86" x2="193.4" y2="219.86" stroke="#a4a4a4" stroke-width="0.8" />
<path d="M35.6,227.5 L36.85,227.11 L38.1,226.75 L39.35,226.46 L40.6,226.28 L42.02,226.19 L43.45,226.09 L44.88,225.78 L46.3,225.05 L47.54,223.96 L48.79,222.48 L50.03,220.68 L51.28,218.62 L52.52,216.38 L53.77,214.03 L55.01,211.64 L56.26,209.28 L57.5,207.02 L58.74,204.93 L59.98,202.99 L61.22,201.21 L62.46,199.56 L63.69,198.03 L64.93,196.62 L66.17,195.3 L67.41,194.08 L68.65,192.94 L69.89,191.87 L71.13,190.86 L72.37,189.89 L73.61,188.95 L74.84,188.04 L76.08,187.14 L77.32,186.24 L78.56,185.33 L79.8,184.4 L81.03,183.44 L82.27,182.46 L83.5,181.44 L84.73,180.39 L85.97,179.32 L87.2,178.23 L88.43,177.11 L89.67,175.98 L90.9,174.82 L92.13,173.65 L93.37,172.47 L94.6,171.27 L95.83,170.06 L97.07,168.85 L98.3,167.62 L99.53,166.39 L100.77,165.16 L102,163.92" stroke="#9a9a9a" stroke-width="0.75" fill="none" />
<line x1="102" y1="163.92" x2="115.6" y2="165.16" stroke="#9a9a9a" stroke-width="0.75" />
<line x1="120.2" y1="165.58" x2="135.5" y2="166.98" stroke="#9a9a9a" stroke-width="0.75" />
<rect x="33.95" y="225.85" width="3.3" height="3.3" fill="none" stroke="#707070" stroke-width="0.8" />
<rect x="38.95" y="224.63" width="3.3" height="3.3" fill="none" stroke="#707070" stroke-width="0.8" />
<rect x="44.65" y="223.4" width="3.3" height="3.3" fill="none" stroke="#707070" stroke-width="0.8" />
<rect x="55.85" y="205.37" width="3.3" height="3.3" fill="none" stroke="#707070" stroke-width="0.8" />
<rect x="78.15" y="182.75" width="3.3" height="3.3" fill="none" stroke="#707070" stroke-width="0.8" />
<rect x="100.35" y="162.27" width="3.3" height="3.3" fill="none" stroke="#707070" stroke-width="0.8" />
<rect x="133.85" y="165.33" width="3.3" height="3.3" fill="none" stroke="#707070" stroke-width="0.8" />
<path d="M35.6,227.5 L36.85,227.22 L38.1,226.96 L39.35,226.74 L40.6,226.58 L42.02,226.47 L43.45,226.35 L44.88,226.12 L46.3,225.67 L47.54,225.02 L48.79,224.17 L50.03,223.14 L51.28,221.98 L52.52,220.73 L53.77,219.42 L55.01,218.1 L56.26,216.81 L57.5,215.58 L58.74,214.45 L59.98,213.42 L61.22,212.47 L62.46,211.6 L63.69,210.79 L64.93,210.03 L66.17,209.32 L67.41,208.64 L68.65,207.98 L69.89,207.34 L71.13,206.71 L72.37,206.06 L73.61,205.41 L74.84,204.72 L76.08,204 L77.32,203.23 L78.56,202.41 L79.8,201.52 L81.03,200.56 L82.27,199.53 L83.5,198.43 L84.73,197.27 L85.97,196.05 L87.2,194.78 L88.43,193.45 L89.67,192.08 L90.9,190.67 L92.13,189.22 L93.37,187.73 L94.6,186.22 L95.83,184.68 L97.07,183.12 L98.3,181.55 L99.53,179.96 L100.77,178.36 L102,176.76" stroke="#9a9a9a" stroke-width="0.75" fill="none" />
<line x1="102" y1="176.76" x2="115.6" y2="178.74" stroke="#9a9a9a" stroke-width="0.75" />
<line x1="120.2" y1="179.42" x2="135.5" y2="181.65" stroke="#9a9a9a" stroke-width="0.75" />
<circle cx="35.6" cy="227.5" r="1.65" fill="none" stroke="#707070" stroke-width="0.8"/>
<line x1="33.95" y1="227.5" x2="37.25" y2="227.5" stroke="#707070" stroke-width="0.6400000000000001" />
<circle cx="40.6" cy="226.58" r="1.65" fill="none" stroke="#707070" stroke-width="0.8"/>
<line x1="38.95" y1="226.58" x2="42.25" y2="226.58" stroke="#707070" stroke-width="0.6400000000000001" />
<circle cx="46.3" cy="225.67" r="1.65" fill="none" stroke="#707070" stroke-width="0.8"/>
<line x1="44.65" y1="225.67" x2="47.95" y2="225.67" stroke="#707070" stroke-width="0.6400000000000001" />
<circle cx="57.5" cy="215.58" r="1.65" fill="none" stroke="#707070" stroke-width="0.8"/>
<line x1="55.85" y1="215.58" x2="59.15" y2="215.58" stroke="#707070" stroke-width="0.6400000000000001" />
<circle cx="79.8" cy="201.52" r="1.65" fill="none" stroke="#707070" stroke-width="0.8"/>
<line x1="78.15" y1="201.52" x2="81.45" y2="201.52" stroke="#707070" stroke-width="0.6400000000000001" />
<circle cx="102" cy="176.76" r="1.65" fill="none" stroke="#707070" stroke-width="0.8"/>
<line x1="100.35" y1="176.76" x2="103.65" y2="176.76" stroke="#707070" stroke-width="0.6400000000000001" />
<circle cx="135.5" cy="181.65" r="1.65" fill="none" stroke="#707070" stroke-width="0.8"/>
<line x1="133.85" y1="181.65" x2="137.15" y2="181.65" stroke="#707070" stroke-width="0.6400000000000001" />
<path d="M35.6,227.5 L36.85,227.14 L38.1,226.8 L39.35,226.5 L40.6,226.28 L42.02,226.11 L43.45,225.93 L44.88,225.62 L46.3,225.05 L47.54,224.27 L48.79,223.24 L50.03,222 L51.28,220.59 L52.52,219.06 L53.77,217.45 L55.01,215.79 L56.26,214.14 L57.5,212.52 L58.74,210.99 L59.98,209.54 L61.22,208.16 L62.46,206.85 L63.69,205.61 L64.93,204.42 L66.17,203.29 L67.41,202.21 L68.65,201.17 L69.89,200.16 L71.13,199.2 L72.37,198.26 L73.61,197.34 L74.84,196.45 L76.08,195.57 L77.32,194.7 L78.56,193.83 L79.8,192.96 L81.03,192.09 L82.27,191.22 L83.5,190.34 L84.73,189.45 L85.97,188.56 L87.2,187.67 L88.43,186.78 L89.67,185.88 L90.9,184.97 L92.13,184.07 L93.37,183.16 L94.6,182.25 L95.83,181.34 L97.07,180.42 L98.3,179.51 L99.53,178.59 L100.77,177.68 L102,176.76" stroke="#9a9a9a" stroke-width="0.75" fill="none" />
<line x1="102" y1="176.76" x2="115.6" y2="184.2" stroke="#9a9a9a" stroke-width="0.75" />
<line x1="120.2" y1="186.72" x2="135.5" y2="195.1" stroke="#9a9a9a" stroke-width="0.75" />
<path d="M35.6,225.52 L37.41,228.82 L33.79,228.82 Z" stroke="#707070" stroke-width="0.8" fill="none" />
<path d="M40.6,224.3 L42.41,227.6 L38.79,227.6 Z" stroke="#707070" stroke-width="0.8" fill="none" />
<path d="M46.3,223.07 L48.11,226.37 L44.48,226.37 Z" stroke="#707070" stroke-width="0.8" fill="none" />
<path d="M57.5,210.54 L59.31,213.84 L55.69,213.84 Z" stroke="#707070" stroke-width="0.8" fill="none" />
<path d="M79.8,190.98 L81.61,194.28 L77.98,194.28 Z" stroke="#707070" stroke-width="0.8" fill="none" />
<path d="M102,174.78 L103.81,178.08 L100.19,178.08 Z" stroke="#707070" stroke-width="0.8" fill="none" />
<path d="M135.5,193.12 L137.31,196.42 L133.69,196.42 Z" stroke="#707070" stroke-width="0.8" fill="none" />
<path d="M35.6,227.5 L36.85,227.14 L38.1,226.79 L39.35,226.5 L40.6,226.28 L42.02,226.11 L43.45,225.94 L44.88,225.63 L46.3,225.05 L47.54,224.25 L48.79,223.18 L50.03,221.88 L51.28,220.4 L52.52,218.78 L53.77,217.05 L55.01,215.25 L56.26,213.42 L57.5,211.61 L58.74,209.84 L59.98,208.14 L61.22,206.49 L62.46,204.89 L63.69,203.35 L64.93,201.88 L66.17,200.47 L67.41,199.12 L68.65,197.84 L69.89,196.62 L71.13,195.48 L72.37,194.41 L73.61,193.41 L74.84,192.49 L76.08,191.65 L77.32,190.88 L78.56,190.2 L79.8,189.6 L81.03,189.08 L82.27,188.65 L83.5,188.29 L84.73,188 L85.97,187.77 L87.2,187.61 L88.43,187.5 L89.67,187.44 L90.9,187.43 L92.13,187.47 L93.37,187.54 L94.6,187.64 L95.83,187.77 L97.07,187.92 L98.3,188.1 L99.53,188.28 L100.77,188.48 L102,188.68" stroke="#9a9a9a" stroke-width="0.75" fill="none" />
<line x1="102" y1="188.68" x2="115.6" y2="190.42" stroke="#9a9a9a" stroke-width="0.75" />
<line x1="120.2" y1="191.01" x2="135.5" y2="192.96" stroke="#9a9a9a" stroke-width="0.75" />
<line x1="33.95" y1="226.18" x2="37.25" y2="228.82" stroke="#707070" stroke-width="0.8" />
<line x1="33.95" y1="228.82" x2="37.25" y2="226.18" stroke="#707070" stroke-width="0.8" />
<line x1="33.95" y1="227.5" x2="37.25" y2="227.5" stroke="#707070" stroke-width="0.6400000000000001" />
<line x1="38.95" y1="224.96" x2="42.25" y2="227.6" stroke="#707070" stroke-width="0.8" />
<line x1="38.95" y1="227.6" x2="42.25" y2="224.96" stroke="#707070" stroke-width="0.8" />
<line x1="38.95" y1="226.28" x2="42.25" y2="226.28" stroke="#707070" stroke-width="0.6400000000000001" />
<line x1="44.65" y1="223.73" x2="47.95" y2="226.37" stroke="#707070" stroke-width="0.8" />
<line x1="44.65" y1="226.37" x2="47.95" y2="223.73" stroke="#707070" stroke-width="0.8" />
<line x1="44.65" y1="225.05" x2="47.95" y2="225.05" stroke="#707070" stroke-width="0.6400000000000001" />
<line x1="55.85" y1="210.29" x2="59.15" y2="212.93" stroke="#707070" stroke-width="0.8" />
<line x1="55.85" y1="212.93" x2="59.15" y2="210.29" stroke="#707070" stroke-width="0.8" />
<line x1="55.85" y1="211.61" x2="59.15" y2="211.61" stroke="#707070" stroke-width="0.6400000000000001" />
<line x1="78.15" y1="188.28" x2="81.45" y2="190.92" stroke="#707070" stroke-width="0.8" />
<line x1="78.15" y1="190.92" x2="81.45" y2="188.28" stroke="#707070" stroke-width="0.8" />
<line x1="78.15" y1="189.6" x2="81.45" y2="189.6" stroke="#707070" stroke-width="0.6400000000000001" />
<line x1="100.35" y1="187.36" x2="103.65" y2="190" stroke="#707070" stroke-width="0.8" />
<line x1="100.35" y1="190" x2="103.65" y2="187.36" stroke="#707070" stroke-width="0.8" />
<line x1="100.35" y1="188.68" x2="103.65" y2="188.68" stroke="#707070" stroke-width="0.6400000000000001" />
<line x1="133.85" y1="191.64" x2="137.15" y2="194.28" stroke="#707070" stroke-width="0.8" />
<line x1="133.85" y1="194.28" x2="137.15" y2="191.64" stroke="#707070" stroke-width="0.8" />
<line x1="133.85" y1="192.96" x2="137.15" y2="192.96" stroke="#707070" stroke-width="0.6400000000000001" />
<path d="M35.6,227.5 L36.85,227.25 L38.1,227 L39.35,226.78 L40.6,226.58 L42.02,226.39 L43.45,226.21 L44.88,225.98 L46.3,225.67 L47.54,225.29 L48.79,224.82 L50.03,224.24 L51.28,223.58 L52.52,222.83 L53.77,221.98 L55.01,221.05 L56.26,220.04 L57.5,218.94 L58.74,217.77 L59.98,216.54 L61.22,215.25 L62.46,213.91 L63.69,212.53 L64.93,211.13 L66.17,209.72 L67.41,208.31 L68.65,206.9 L69.89,205.51 L71.13,204.14 L72.37,202.82 L73.61,201.55 L74.84,200.34 L76.08,199.2 L77.32,198.14 L78.56,197.18 L79.8,196.32 L81.03,195.58 L82.27,194.94 L83.5,194.4 L84.73,193.96 L85.97,193.61 L87.2,193.34 L88.43,193.14 L89.67,193.02 L90.9,192.95 L92.13,192.95 L93.37,192.99 L94.6,193.08 L95.83,193.2 L97.07,193.36 L98.3,193.55 L99.53,193.75 L100.77,193.96 L102,194.18" stroke="#9a9a9a" stroke-width="0.75" fill="none" />
<line x1="102" y1="194.18" x2="115.6" y2="194.06" stroke="#9a9a9a" stroke-width="0.75" />
<line x1="120.2" y1="194.02" x2="135.5" y2="193.88" stroke="#9a9a9a" stroke-width="0.75" />
<path d="M35.6,225.52 L37.25,227.5 L35.6,229.48 L33.95,227.5 Z" stroke="#707070" stroke-width="0.8" fill="none" />
<path d="M40.6,224.6 L42.25,226.58 L40.6,228.56 L38.95,226.58 Z" stroke="#707070" stroke-width="0.8" fill="none" />
<path d="M46.3,223.69 L47.95,225.67 L46.3,227.65 L44.65,225.67 Z" stroke="#707070" stroke-width="0.8" fill="none" />
<path d="M57.5,216.96 L59.15,218.94 L57.5,220.92 L55.85,218.94 Z" stroke="#707070" stroke-width="0.8" fill="none" />
<path d="M79.8,194.34 L81.45,196.32 L79.8,198.3 L78.15,196.32 Z" stroke="#707070" stroke-width="0.8" fill="none" />
<path d="M102,192.2 L103.65,194.18 L102,196.16 L100.35,194.18 Z" stroke="#707070" stroke-width="0.8" fill="none" />
<path d="M135.5,191.9 L137.15,193.88 L135.5,195.86 L133.85,193.88 Z" stroke="#707070" stroke-width="0.8" fill="none" />
<path d="M153.4,165.45 L154.78,166.13 L156.15,166.61 L157.53,167.5 L158.9,169.42 L160.14,172.12 L161.39,175.32 L162.63,178.85 L163.88,182.54 L165.12,186.23 L166.37,189.74 L167.61,192.91 L168.86,195.57 L170.1,197.54 L171.35,199.05 L172.6,200.42 L173.85,201.64 L175.1,202.74 L176.35,203.74 L177.6,204.63 L178.85,205.44 L180.1,206.17 L181.35,206.85 L182.6,207.47 L183.85,208.06 L185.1,208.63 L186.35,209.18 L187.6,209.74 L188.85,210.31 L190.1,210.9 L191.35,211.53 L192.6,212.22 L193.82,212.9 L195.04,213.57 L196.27,214.21 L197.49,214.84 L198.71,215.46 L199.93,216.06 L201.16,216.64 L202.38,217.22 L203.6,217.8 L204.82,218.36 L206.04,218.92 L207.27,219.49 L208.49,220.05 L209.71,220.61 L210.93,221.17 L212.16,221.75 L213.38,222.33 L214.6,222.91" stroke="#9a9a9a" stroke-width="0.75" fill="none" />
<line x1="214.6" y1="222.91" x2="229.2" y2="223.84" stroke="#9a9a9a" stroke-width="0.75" />
<line x1="233.8" y1="224.13" x2="248.4" y2="225.05" stroke="#9a9a9a" stroke-width="0.75" />
<rect x="151.75" y="163.8" width="3.3" height="3.3" fill="none" stroke="#707070" stroke-width="0.8" />
<rect x="157.25" y="167.77" width="3.3" height="3.3" fill="none" stroke="#707070" stroke-width="0.8" />
<rect x="168.45" y="195.89" width="3.3" height="3.3" fill="none" stroke="#707070" stroke-width="0.8" />
<rect x="190.95" y="210.57" width="3.3" height="3.3" fill="none" stroke="#707070" stroke-width="0.8" />
<rect x="212.95" y="221.26" width="3.3" height="3.3" fill="none" stroke="#707070" stroke-width="0.8" />
<rect x="246.75" y="223.4" width="3.3" height="3.3" fill="none" stroke="#707070" stroke-width="0.8" />
<path d="M153.4,169.42 L154.78,171.82 L156.15,174.18 L157.53,176.61 L158.9,179.2 L160.14,181.82 L161.39,184.67 L162.63,187.65 L163.88,190.66 L165.12,193.59 L166.37,196.34 L167.61,198.8 L168.86,200.86 L170.1,202.44 L171.35,203.66 L172.6,204.76 L173.85,205.74 L175.1,206.61 L176.35,207.39 L177.6,208.09 L178.85,208.72 L180.1,209.28 L181.35,209.8 L182.6,210.28 L183.85,210.73 L185.1,211.16 L186.35,211.59 L187.6,212.02 L188.85,212.48 L190.1,212.96 L191.35,213.48 L192.6,214.05 L193.82,214.63 L195.04,215.21 L196.27,215.77 L197.49,216.33 L198.71,216.88 L199.93,217.43 L201.16,217.97 L202.38,218.51 L203.6,219.04 L204.82,219.57 L206.04,220.1 L207.27,220.63 L208.49,221.16 L209.71,221.69 L210.93,222.22 L212.16,222.75 L213.38,223.29 L214.6,223.83" stroke="#9a9a9a" stroke-width="0.75" fill="none" />
<line x1="214.6" y1="223.83" x2="229.2" y2="224.62" stroke="#9a9a9a" stroke-width="0.75" />
<line x1="233.8" y1="224.87" x2="248.4" y2="225.67" stroke="#9a9a9a" stroke-width="0.75" />
<circle cx="153.4" cy="169.42" r="1.65" fill="none" stroke="#707070" stroke-width="0.8"/>
<line x1="151.75" y1="169.42" x2="155.05" y2="169.42" stroke="#707070" stroke-width="0.6400000000000001" />
<circle cx="158.9" cy="179.2" r="1.65" fill="none" stroke="#707070" stroke-width="0.8"/>
<line x1="157.25" y1="179.2" x2="160.55" y2="179.2" stroke="#707070" stroke-width="0.6400000000000001" />
<circle cx="170.1" cy="202.44" r="1.65" fill="none" stroke="#707070" stroke-width="0.8"/>
<line x1="168.45" y1="202.44" x2="171.75" y2="202.44" stroke="#707070" stroke-width="0.6400000000000001" />
<circle cx="192.6" cy="214.05" r="1.65" fill="none" stroke="#707070" stroke-width="0.8"/>
<line x1="190.95" y1="214.05" x2="194.25" y2="214.05" stroke="#707070" stroke-width="0.6400000000000001" />
<circle cx="214.6" cy="223.83" r="1.65" fill="none" stroke="#707070" stroke-width="0.8"/>
<line x1="212.95" y1="223.83" x2="216.25" y2="223.83" stroke="#707070" stroke-width="0.6400000000000001" />
<circle cx="248.4" cy="225.67" r="1.65" fill="none" stroke="#707070" stroke-width="0.8"/>
<line x1="246.75" y1="225.67" x2="250.05" y2="225.67" stroke="#707070" stroke-width="0.6400000000000001" />
<path d="M153.4,177.98 L154.78,181.08 L156.15,184.26 L157.53,187.28 L158.9,189.9 L160.14,192.05 L161.39,194.24 L162.63,196.41 L163.88,198.52 L165.12,200.52 L166.37,202.35 L167.61,203.98 L168.86,205.35 L170.1,206.41 L171.35,207.25 L172.6,207.99 L173.85,208.63 L175.1,209.19 L176.35,209.68 L177.6,210.1 L178.85,210.48 L180.1,210.81 L181.35,211.11 L182.6,211.38 L183.85,211.65 L185.1,211.91 L186.35,212.19 L187.6,212.48 L188.85,212.8 L190.1,213.17 L191.35,213.58 L192.6,214.05 L193.82,214.55 L195.04,215.08 L196.27,215.61 L197.49,216.16 L198.71,216.72 L199.93,217.3 L201.16,217.88 L202.38,218.47 L203.6,219.06 L204.82,219.66 L206.04,220.27 L207.27,220.87 L208.49,221.47 L209.71,222.08 L210.93,222.68 L212.16,223.27 L213.38,223.86 L214.6,224.44" stroke="#9a9a9a" stroke-width="0.75" fill="none" />
<line x1="214.6" y1="224.44" x2="229.2" y2="225.1" stroke="#9a9a9a" stroke-width="0.75" />
<line x1="233.8" y1="225.31" x2="248.4" y2="225.97" stroke="#9a9a9a" stroke-width="0.75" />
<line x1="151.75" y1="176.66" x2="155.05" y2="179.3" stroke="#707070" stroke-width="0.8" />
<line x1="151.75" y1="179.3" x2="155.05" y2="176.66" stroke="#707070" stroke-width="0.8" />
<line x1="151.75" y1="177.98" x2="155.05" y2="177.98" stroke="#707070" stroke-width="0.6400000000000001" />
<line x1="157.25" y1="188.58" x2="160.55" y2="191.22" stroke="#707070" stroke-width="0.8" />
<line x1="157.25" y1="191.22" x2="160.55" y2="188.58" stroke="#707070" stroke-width="0.8" />
<line x1="157.25" y1="189.9" x2="160.55" y2="189.9" stroke="#707070" stroke-width="0.6400000000000001" />
<line x1="168.45" y1="205.09" x2="171.75" y2="207.73" stroke="#707070" stroke-width="0.8" />
<line x1="168.45" y1="207.73" x2="171.75" y2="205.09" stroke="#707070" stroke-width="0.8" />
<line x1="168.45" y1="206.41" x2="171.75" y2="206.41" stroke="#707070" stroke-width="0.6400000000000001" />
<line x1="190.95" y1="212.73" x2="194.25" y2="215.37" stroke="#707070" stroke-width="0.8" />
<line x1="190.95" y1="215.37" x2="194.25" y2="212.73" stroke="#707070" stroke-width="0.8" />
<line x1="190.95" y1="214.05" x2="194.25" y2="214.05" stroke="#707070" stroke-width="0.6400000000000001" />
<line x1="212.95" y1="223.12" x2="216.25" y2="225.76" stroke="#707070" stroke-width="0.8" />
<line x1="212.95" y1="225.76" x2="216.25" y2="223.12" stroke="#707070" stroke-width="0.8" />
<line x1="212.95" y1="224.44" x2="216.25" y2="224.44" stroke="#707070" stroke-width="0.6400000000000001" />
<line x1="246.75" y1="224.65" x2="250.05" y2="227.29" stroke="#707070" stroke-width="0.8" />
<line x1="246.75" y1="227.29" x2="250.05" y2="224.65" stroke="#707070" stroke-width="0.8" />
<line x1="246.75" y1="225.97" x2="250.05" y2="225.97" stroke="#707070" stroke-width="0.6400000000000001" />
<path d="M153.4,185.93 L154.78,187.28 L156.15,188.55 L157.53,189.97 L158.9,191.74 L160.14,193.72 L161.39,195.97 L162.63,198.38 L163.88,200.84 L165.12,203.25 L166.37,205.51 L167.61,207.53 L168.86,209.18 L170.1,210.38 L171.35,211.26 L172.6,212.02 L173.85,212.68 L175.1,213.24 L176.35,213.71 L177.6,214.11 L178.85,214.45 L180.1,214.73 L181.35,214.97 L182.6,215.19 L183.85,215.38 L185.1,215.57 L186.35,215.75 L187.6,215.95 L188.85,216.18 L190.1,216.44 L191.35,216.74 L192.6,217.11 L193.82,217.5 L195.04,217.89 L196.27,218.29 L197.49,218.69 L198.71,219.09 L199.93,219.5 L201.16,219.9 L202.38,220.32 L203.6,220.73 L204.82,221.14 L206.04,221.55 L207.27,221.97 L208.49,222.38 L209.71,222.8 L210.93,223.21 L212.16,223.62 L213.38,224.03 L214.6,224.44" stroke="#9a9a9a" stroke-width="0.75" fill="none" />
<line x1="214.6" y1="224.44" x2="229.2" y2="225.1" stroke="#9a9a9a" stroke-width="0.75" />
<line x1="233.8" y1="225.31" x2="248.4" y2="225.97" stroke="#9a9a9a" stroke-width="0.75" />
<path d="M153.4,183.95 L155.22,187.25 L151.59,187.25 Z" stroke="#707070" stroke-width="0.8" fill="none" />
<path d="M158.9,189.76 L160.72,193.06 L157.09,193.06 Z" stroke="#707070" stroke-width="0.8" fill="none" />
<path d="M170.1,208.4 L171.91,211.7 L168.28,211.7 Z" stroke="#707070" stroke-width="0.8" fill="none" />
<path d="M192.6,215.13 L194.41,218.43 L190.78,218.43 Z" stroke="#707070" stroke-width="0.8" fill="none" />
<path d="M214.6,222.46 L216.41,225.76 L212.78,225.76 Z" stroke="#707070" stroke-width="0.8" fill="none" />
<path d="M248.4,223.99 L250.22,227.29 L246.59,227.29 Z" stroke="#707070" stroke-width="0.8" fill="none" />
<path d="M153.4,188.68 L154.78,191.28 L156.15,193.94 L157.53,196.49 L158.9,198.77 L160.14,200.71 L161.39,202.73 L162.63,204.75 L163.88,206.74 L165.12,208.62 L166.37,210.36 L167.61,211.87 L168.86,213.12 L170.1,214.05 L171.35,214.75 L172.6,215.34 L173.85,215.84 L175.1,216.26 L176.35,216.61 L177.6,216.9 L178.85,217.14 L180.1,217.33 L181.35,217.48 L182.6,217.62 L183.85,217.73 L185.1,217.85 L186.35,217.96 L187.6,218.09 L188.85,218.25 L190.1,218.43 L191.35,218.66 L192.6,218.94 L193.82,219.25 L195.04,219.56 L196.27,219.88 L197.49,220.21 L198.71,220.54 L199.93,220.88 L201.16,221.22 L202.38,221.57 L203.6,221.91 L204.82,222.26 L206.04,222.62 L207.27,222.97 L208.49,223.32 L209.71,223.67 L210.93,224.02 L212.16,224.37 L213.38,224.71 L214.6,225.05" stroke="#9a9a9a" stroke-width="0.75" fill="none" />
<line x1="214.6" y1="225.05" x2="229.2" y2="225.58" stroke="#9a9a9a" stroke-width="0.75" />
<line x1="233.8" y1="225.75" x2="248.4" y2="226.28" stroke="#9a9a9a" stroke-width="0.75" />
<path d="M153.4,186.7 L155.05,188.68 L153.4,190.66 L151.75,188.68 Z" stroke="#707070" stroke-width="0.8" fill="none" />
<path d="M158.9,196.79 L160.55,198.77 L158.9,200.75 L157.25,198.77 Z" stroke="#707070" stroke-width="0.8" fill="none" />
<path d="M170.1,212.07 L171.75,214.05 L170.1,216.03 L168.45,214.05 Z" stroke="#707070" stroke-width="0.8" fill="none" />
<path d="M192.6,216.96 L194.25,218.94 L192.6,220.92 L190.95,218.94 Z" stroke="#707070" stroke-width="0.8" fill="none" />
<path d="M214.6,223.07 L216.25,225.05 L214.6,227.03 L212.95,225.05 Z" stroke="#707070" stroke-width="0.8" fill="none" />
<path d="M248.4,224.3 L250.05,226.28 L248.4,228.26 L246.75,226.28 Z" stroke="#707070" stroke-width="0.8" fill="none" />
<path d="M153.4,196.63 L154.78,196.95 L156.15,197.12 L157.53,197.58 L158.9,198.77 L160.14,200.53 L161.39,202.67 L162.63,205.06 L163.88,207.56 L165.12,210.05 L166.37,212.38 L167.61,214.42 L168.86,216.04 L170.1,217.11 L171.35,217.78 L172.6,218.31 L173.85,218.71 L175.1,219 L176.35,219.18 L177.6,219.28 L178.85,219.31 L180.1,219.28 L181.35,219.21 L182.6,219.1 L183.85,218.99 L185.1,218.87 L186.35,218.76 L187.6,218.69 L188.85,218.65 L190.1,218.67 L191.35,218.77 L192.6,218.94 L193.82,219.17 L195.04,219.43 L196.27,219.71 L197.49,220.01 L198.71,220.32 L199.93,220.66 L201.16,221 L202.38,221.36 L203.6,221.72 L204.82,222.1 L206.04,222.48 L207.27,222.86 L208.49,223.23 L209.71,223.61 L210.93,223.99 L212.16,224.35 L213.38,224.71 L214.6,225.05" stroke="#9a9a9a" stroke-width="0.75" fill="none" />
<line x1="214.6" y1="225.05" x2="229.2" y2="225.58" stroke="#9a9a9a" stroke-width="0.75" />
<line x1="233.8" y1="225.75" x2="248.4" y2="226.28" stroke="#9a9a9a" stroke-width="0.75" />
<line x1="151.75" y1="195.31" x2="155.05" y2="197.95" stroke="#707070" stroke-width="0.8" />
<line x1="151.75" y1="197.95" x2="155.05" y2="195.31" stroke="#707070" stroke-width="0.8" />
<line x1="151.75" y1="196.63" x2="155.05" y2="196.63" stroke="#707070" stroke-width="0.6400000000000001" />
<line x1="157.25" y1="197.45" x2="160.55" y2="200.09" stroke="#707070" stroke-width="0.8" />
<line x1="157.25" y1="200.09" x2="160.55" y2="197.45" stroke="#707070" stroke-width="0.8" />
<line x1="157.25" y1="198.77" x2="160.55" y2="198.77" stroke="#707070" stroke-width="0.6400000000000001" />
<line x1="168.45" y1="215.79" x2="171.75" y2="218.43" stroke="#707070" stroke-width="0.8" />
<line x1="168.45" y1="218.43" x2="171.75" y2="215.79" stroke="#707070" stroke-width="0.8" />
<line x1="168.45" y1="217.11" x2="171.75" y2="217.11" stroke="#707070" stroke-width="0.6400000000000001" />
<line x1="190.95" y1="217.62" x2="194.25" y2="220.26" stroke="#707070" stroke-width="0.8" />
<line x1="190.95" y1="220.26" x2="194.25" y2="217.62" stroke="#707070" stroke-width="0.8" />
<line x1="190.95" y1="218.94" x2="194.25" y2="218.94" stroke="#707070" stroke-width="0.6400000000000001" />
<line x1="212.95" y1="223.73" x2="216.25" y2="226.37" stroke="#707070" stroke-width="0.8" />
<line x1="212.95" y1="226.37" x2="216.25" y2="223.73" stroke="#707070" stroke-width="0.8" />
<line x1="212.95" y1="225.05" x2="216.25" y2="225.05" stroke="#707070" stroke-width="0.6400000000000001" />
<line x1="246.75" y1="224.96" x2="250.05" y2="227.6" stroke="#707070" stroke-width="0.8" />
<line x1="246.75" y1="227.6" x2="250.05" y2="224.96" stroke="#707070" stroke-width="0.8" />
<line x1="246.75" y1="226.28" x2="250.05" y2="226.28" stroke="#707070" stroke-width="0.6400000000000001" />
<path d="M35.6,227.5 L36.85,227.01 L38.1,226.5 L39.35,226.03 L40.6,225.67 L42.02,225.43 L43.45,225.31 L44.88,225.22 L46.3,225.05 L47.54,224.83 L48.79,224.59 L50.03,224.32 L51.28,224.05 L52.52,223.78 L53.77,223.52 L55.01,223.28 L56.26,223.08 L57.5,222.91 L58.74,222.78 L59.98,222.65 L61.22,222.53 L62.46,222.42 L63.69,222.31 L64.93,222.2 L66.17,222.1 L67.41,222.01 L68.65,221.92 L69.89,221.84 L71.13,221.76 L72.37,221.69 L73.61,221.63 L74.84,221.57 L76.08,221.51 L77.32,221.47 L78.56,221.42 L79.8,221.39 L81.03,221.36 L82.27,221.34 L83.5,221.33 L84.73,221.33 L85.97,221.34 L87.2,221.35 L88.43,221.37 L89.67,221.4 L90.9,221.43 L92.13,221.46 L93.37,221.49 L94.6,221.52 L95.83,221.56 L97.07,221.59 L98.3,221.62 L99.53,221.65 L100.77,221.67 L102,221.69" stroke="#444" stroke-width="0.85" fill="none" />
<line x1="102" y1="221.69" x2="115.6" y2="221.32" stroke="#444" stroke-width="0.85" />
<line x1="120.2" y1="221.19" x2="135.5" y2="220.78" stroke="#444" stroke-width="0.85" />
<path d="M35.6,227.5 L36.85,226.34 L38.1,225.11 L39.35,224.01 L40.6,223.22 L42.02,222.8 L43.45,222.69 L44.88,222.7 L46.3,222.61 L47.54,222.42 L48.79,222.21 L50.03,221.98 L51.28,221.76 L52.52,221.53 L53.77,221.31 L55.01,221.11 L56.26,220.93 L57.5,220.78 L58.74,220.64 L59.98,220.5 L61.22,220.36 L62.46,220.22 L63.69,220.08 L64.93,219.94 L66.17,219.8 L67.41,219.68 L68.65,219.55 L69.89,219.44 L71.13,219.33 L72.37,219.24 L73.61,219.15 L74.84,219.08 L76.08,219.02 L77.32,218.98 L78.56,218.95 L79.8,218.94 L81.03,218.95 L82.27,218.98 L83.5,219.03 L84.73,219.1 L85.97,219.19 L87.2,219.28 L88.43,219.39 L89.67,219.5 L90.9,219.63 L92.13,219.76 L93.37,219.89 L94.6,220.03 L95.83,220.16 L97.07,220.3 L98.3,220.43 L99.53,220.55 L100.77,220.67 L102,220.78" stroke="#444" stroke-width="0.85" fill="none" />
<line x1="102" y1="220.78" x2="115.6" y2="219.78" stroke="#444" stroke-width="0.85" />
<line x1="120.2" y1="219.45" x2="135.5" y2="218.33" stroke="#444" stroke-width="0.85" />
<path d="M35.6,227.5 L36.85,227.18 L38.1,226.84 L39.35,226.53 L40.6,226.28 L42.02,226.08 L43.45,225.95 L44.88,225.83 L46.3,225.67 L47.54,225.47 L48.79,225.26 L50.03,225.04 L51.28,224.81 L52.52,224.59 L53.77,224.37 L55.01,224.17 L56.26,223.98 L57.5,223.83 L58.74,223.7 L59.98,223.56 L61.22,223.43 L62.46,223.31 L63.69,223.18 L64.93,223.06 L66.17,222.95 L67.41,222.83 L68.65,222.72 L69.89,222.62 L71.13,222.52 L72.37,222.43 L73.61,222.34 L74.84,222.26 L76.08,222.18 L77.32,222.11 L78.56,222.05 L79.8,222 L81.03,221.95 L82.27,221.92 L83.5,221.89 L84.73,221.88 L85.97,221.87 L87.2,221.86 L88.43,221.87 L89.67,221.87 L90.9,221.88 L92.13,221.9 L93.37,221.91 L94.6,221.93 L95.83,221.95 L97.07,221.96 L98.3,221.98 L99.53,221.99 L100.77,222 L102,222" stroke="#8a8a8a" stroke-width="0.8" fill="none" />
<line x1="102" y1="222" x2="115.6" y2="221.75" stroke="#8a8a8a" stroke-width="0.8" />
<line x1="120.2" y1="221.67" x2="135.5" y2="221.39" stroke="#8a8a8a" stroke-width="0.8" />
<rect x="34" y="224.5" width="3.2" height="5.3" fill="#111" stroke="none" stroke-width="1" rx="1.3"/>
<rect x="39" y="220.22" width="3.2" height="8.36" fill="#111" stroke="none" stroke-width="1" rx="1.3"/>
<rect x="44.7" y="219.61" width="3.2" height="8.36" fill="#111" stroke="none" stroke-width="1" rx="1.3"/>
<rect x="55.9" y="217.78" width="3.2" height="8.36" fill="#111" stroke="none" stroke-width="1" rx="1.3"/>
<rect x="78.2" y="215.94" width="3.2" height="8.36" fill="#111" stroke="none" stroke-width="1" rx="1.3"/>
<rect x="100.4" y="217.78" width="3.2" height="6.52" fill="#111" stroke="none" stroke-width="1" rx="1.3"/>
<rect x="133.9" y="215.33" width="3.2" height="8.36" fill="#111" stroke="none" stroke-width="1" rx="1.3"/>
<path d="M153.4,227.5 L154.78,227.5 L156.15,227.5 L157.53,227.5 L158.9,227.5 L160.14,227.5 L161.39,227.5 L162.63,227.5 L163.88,227.5 L165.12,227.5 L166.37,227.5 L167.61,227.5 L168.86,227.5 L170.1,227.5 L171.35,227.5 L172.6,227.5 L173.85,227.5 L175.1,227.5 L176.35,227.5 L177.6,227.5 L178.85,227.5 L180.1,227.5 L181.35,227.5 L182.6,227.5 L183.85,227.5 L185.1,227.5 L186.35,227.5 L187.6,227.5 L188.85,227.5 L190.1,227.5 L191.35,227.5 L192.6,227.5 L193.82,227.5 L195.04,227.5 L196.27,227.5 L197.49,227.5 L198.71,227.5 L199.93,227.5 L201.16,227.5 L202.38,227.5 L203.6,227.5 L204.82,227.5 L206.04,227.5 L207.27,227.5 L208.49,227.5 L209.71,227.5 L210.93,227.5 L212.16,227.5 L213.38,227.5 L214.6,227.5" stroke="#444" stroke-width="0.85" fill="none" />
<line x1="214.6" y1="227.5" x2="229.2" y2="227.5" stroke="#444" stroke-width="0.85" />
<line x1="233.8" y1="227.5" x2="248.4" y2="227.5" stroke="#444" stroke-width="0.85" />
<path d="M153.4,227.5 L154.78,227.5 L156.15,227.5 L157.53,227.5 L158.9,227.5 L160.14,227.5 L161.39,227.5 L162.63,227.5 L163.88,227.5 L165.12,227.5 L166.37,227.5 L167.61,227.5 L168.86,227.5 L170.1,227.5 L171.35,227.5 L172.6,227.5 L173.85,227.5 L175.1,227.5 L176.35,227.5 L177.6,227.5 L178.85,227.5 L180.1,227.5 L181.35,227.5 L182.6,227.5 L183.85,227.5 L185.1,227.5 L186.35,227.5 L187.6,227.5 L188.85,227.5 L190.1,227.5 L191.35,227.5 L192.6,227.5 L193.82,227.5 L195.04,227.5 L196.27,227.5 L197.49,227.5 L198.71,227.5 L199.93,227.5 L201.16,227.5 L202.38,227.5 L203.6,227.5 L204.82,227.5 L206.04,227.5 L207.27,227.5 L208.49,227.5 L209.71,227.5 L210.93,227.5 L212.16,227.5 L213.38,227.5 L214.6,227.5" stroke="#444" stroke-width="0.85" fill="none" />
<line x1="214.6" y1="227.5" x2="229.2" y2="227.5" stroke="#444" stroke-width="0.85" />
<line x1="233.8" y1="227.5" x2="248.4" y2="227.5" stroke="#444" stroke-width="0.85" />
<path d="M153.4,219.86 L154.78,219.26 L156.15,218.56 L157.53,218.06 L158.9,218.02 L160.14,218.42 L161.39,219.01 L162.63,219.75 L163.88,220.56 L165.12,221.38 L166.37,222.15 L167.61,222.8 L168.86,223.28 L170.1,223.53 L171.35,223.59 L172.6,223.58 L173.85,223.51 L175.1,223.38 L176.35,223.21 L177.6,223.01 L178.85,222.77 L180.1,222.51 L181.35,222.25 L182.6,221.98 L183.85,221.71 L185.1,221.46 L186.35,221.24 L187.6,221.05 L188.85,220.9 L190.1,220.79 L191.35,220.75 L192.6,220.78 L193.82,220.86 L195.04,220.98 L196.27,221.15 L197.49,221.35 L198.71,221.58 L199.93,221.84 L201.16,222.12 L202.38,222.42 L203.6,222.74 L204.82,223.07 L206.04,223.41 L207.27,223.75 L208.49,224.09 L209.71,224.43 L210.93,224.76 L212.16,225.08 L213.38,225.38 L214.6,225.67" stroke="#8a8a8a" stroke-width="0.8" fill="none" />
<line x1="214.6" y1="225.67" x2="229.2" y2="226.06" stroke="#8a8a8a" stroke-width="0.8" />
<line x1="233.8" y1="226.19" x2="248.4" y2="226.58" stroke="#8a8a8a" stroke-width="0.8" />
<path d="M153.4,217.45 L155.44,221.52 L151.37,221.52 Z" stroke="#111" stroke-width="0.3" fill="#111" />
<rect x="151.8" y="224.5" width="3.2" height="5.3" fill="#111" stroke="none" stroke-width="1" rx="1.3"/>
<path d="M158.9,215.62 L160.94,219.69 L156.87,219.69 Z" stroke="#111" stroke-width="0.3" fill="#111" />
<rect x="157.3" y="224.5" width="3.2" height="5.3" fill="#111" stroke="none" stroke-width="1" rx="1.3"/>
<rect x="168.5" y="220.53" width="3.2" height="9.27" fill="#111" stroke="none" stroke-width="1" rx="1.3"/>
<path d="M170.1,218.93 L171.8,222.03 L168.4,222.03 Z" stroke="#111" stroke-width="0.3" fill="#111" />
<rect x="191" y="217.78" width="3.2" height="12.02" fill="#111" stroke="none" stroke-width="1" rx="1.3"/>
<path d="M192.6,216.18 L194.3,219.28 L190.9,219.28 Z" stroke="#111" stroke-width="0.3" fill="#111" />
<rect x="213" y="222.67" width="3.2" height="7.13" fill="#111" stroke="none" stroke-width="1" rx="1.3"/>
<path d="M214.6,221.07 L216.3,224.17 L212.9,224.17 Z" stroke="#111" stroke-width="0.3" fill="#111" />
<rect x="246.8" y="223.58" width="3.2" height="6.22" fill="#111" stroke="none" stroke-width="1" rx="1.3"/>
<path d="M248.4,221.98 L250.1,225.08 L246.7,225.08 Z" stroke="#111" stroke-width="0.3" fill="#111" />
<line x1="359.6" y1="175.54" x2="359.6" y2="207.94" stroke="#a4a4a4" stroke-width="0.8" />
<line x1="358.8" y1="175.54" x2="360.4" y2="175.54" stroke="#a4a4a4" stroke-width="0.8" />
<line x1="358.8" y1="207.94" x2="360.4" y2="207.94" stroke="#a4a4a4" stroke-width="0.8" />
<line x1="393.1" y1="148.03" x2="393.1" y2="181.65" stroke="#a4a4a4" stroke-width="0.8" />
<line x1="392.3" y1="148.03" x2="393.9" y2="148.03" stroke="#a4a4a4" stroke-width="0.8" />
<line x1="392.3" y1="181.65" x2="393.9" y2="181.65" stroke="#a4a4a4" stroke-width="0.8" />
<line x1="411" y1="154.14" x2="411" y2="169.42" stroke="#a4a4a4" stroke-width="0.8" />
<line x1="410.2" y1="154.14" x2="411.8" y2="154.14" stroke="#a4a4a4" stroke-width="0.8" />
<line x1="410.2" y1="169.42" x2="411.8" y2="169.42" stroke="#a4a4a4" stroke-width="0.8" />
<line x1="416.5" y1="166.37" x2="416.5" y2="178.59" stroke="#a4a4a4" stroke-width="0.8" />
<line x1="415.7" y1="166.37" x2="417.3" y2="166.37" stroke="#a4a4a4" stroke-width="0.8" />
<line x1="415.7" y1="178.59" x2="417.3" y2="178.59" stroke="#a4a4a4" stroke-width="0.8" />
<line x1="427.7" y1="178.59" x2="427.7" y2="190.82" stroke="#a4a4a4" stroke-width="0.8" />
<line x1="426.9" y1="178.59" x2="428.5" y2="178.59" stroke="#a4a4a4" stroke-width="0.8" />
<line x1="426.9" y1="190.82" x2="428.5" y2="190.82" stroke="#a4a4a4" stroke-width="0.8" />
<line x1="450.2" y1="184.71" x2="450.2" y2="196.93" stroke="#a4a4a4" stroke-width="0.8" />
<line x1="449.4" y1="184.71" x2="451" y2="184.71" stroke="#a4a4a4" stroke-width="0.8" />
<line x1="449.4" y1="196.93" x2="451" y2="196.93" stroke="#a4a4a4" stroke-width="0.8" />
<line x1="472.2" y1="190.82" x2="472.2" y2="199.99" stroke="#a4a4a4" stroke-width="0.8" />
<line x1="471.4" y1="190.82" x2="473" y2="190.82" stroke="#a4a4a4" stroke-width="0.8" />
<line x1="471.4" y1="199.99" x2="473" y2="199.99" stroke="#a4a4a4" stroke-width="0.8" />
<path d="M293.2,227.5 L294.45,227.56 L295.7,227.6 L296.95,227.58 L298.2,227.5 L299.63,227.3 L301.05,227.01 L302.48,226.65 L303.9,226.28 L305.14,225.95 L306.39,225.61 L307.63,225.27 L308.88,224.91 L310.12,224.53 L311.37,224.11 L312.61,223.66 L313.86,223.16 L315.1,222.61 L316.34,222 L317.58,221.34 L318.82,220.62 L320.06,219.85 L321.29,219.04 L322.53,218.18 L323.77,217.28 L325.01,216.34 L326.25,215.36 L327.49,214.36 L328.73,213.32 L329.97,212.26 L331.21,211.17 L332.44,210.06 L333.68,208.94 L334.92,207.8 L336.16,206.65 L337.4,205.49 L338.63,204.33 L339.87,203.17 L341.1,202 L342.33,200.83 L343.57,199.65 L344.8,198.47 L346.03,197.28 L347.27,196.09 L348.5,194.9 L349.73,193.71 L350.97,192.51 L352.2,191.31 L353.43,190.11 L354.67,188.91 L355.9,187.71 L357.13,186.5 L358.37,185.3 L359.6,184.1" stroke="#9a9a9a" stroke-width="0.75" fill="none" />
<line x1="359.6" y1="184.1" x2="373.2" y2="171.69" stroke="#9a9a9a" stroke-width="0.75" />
<line x1="377.8" y1="167.49" x2="393.1" y2="153.53" stroke="#9a9a9a" stroke-width="0.75" />
<rect x="291.55" y="225.85" width="3.3" height="3.3" fill="none" stroke="#707070" stroke-width="0.8" />
<rect x="296.55" y="225.85" width="3.3" height="3.3" fill="none" stroke="#707070" stroke-width="0.8" />
<rect x="302.25" y="224.63" width="3.3" height="3.3" fill="none" stroke="#707070" stroke-width="0.8" />
<rect x="313.45" y="220.96" width="3.3" height="3.3" fill="none" stroke="#707070" stroke-width="0.8" />
<rect x="335.75" y="203.84" width="3.3" height="3.3" fill="none" stroke="#707070" stroke-width="0.8" />
<rect x="357.95" y="182.45" width="3.3" height="3.3" fill="none" stroke="#707070" stroke-width="0.8" />
<rect x="391.45" y="151.88" width="3.3" height="3.3" fill="none" stroke="#707070" stroke-width="0.8" />
<path d="M293.2,227.5 L294.45,227.56 L295.7,227.6 L296.95,227.59 L298.2,227.5 L299.63,227.28 L301.05,226.98 L302.48,226.63 L303.9,226.28 L305.14,226 L306.39,225.74 L307.63,225.49 L308.88,225.25 L310.12,225.01 L311.37,224.76 L312.61,224.48 L313.86,224.18 L315.1,223.83 L316.34,223.44 L317.58,223.01 L318.82,222.53 L320.06,222.01 L321.29,221.44 L322.53,220.83 L323.77,220.18 L325.01,219.48 L326.25,218.75 L327.49,217.97 L328.73,217.15 L329.97,216.3 L331.21,215.4 L332.44,214.47 L333.68,213.5 L334.92,212.5 L336.16,211.46 L337.4,210.38 L338.63,209.28 L339.87,208.14 L341.1,206.98 L342.33,205.78 L343.57,204.56 L344.8,203.32 L346.03,202.05 L347.27,200.76 L348.5,199.45 L349.73,198.13 L350.97,196.79 L352.2,195.44 L353.43,194.07 L354.67,192.7 L355.9,191.32 L357.13,189.93 L358.37,188.54 L359.6,187.15" stroke="#9a9a9a" stroke-width="0.75" fill="none" />
<line x1="359.6" y1="187.15" x2="373.2" y2="178.96" stroke="#9a9a9a" stroke-width="0.75" />
<line x1="377.8" y1="176.19" x2="393.1" y2="166.98" stroke="#9a9a9a" stroke-width="0.75" />
<circle cx="293.2" cy="227.5" r="1.65" fill="none" stroke="#707070" stroke-width="0.8"/>
<line x1="291.55" y1="227.5" x2="294.85" y2="227.5" stroke="#707070" stroke-width="0.6400000000000001" />
<circle cx="298.2" cy="227.5" r="1.65" fill="none" stroke="#707070" stroke-width="0.8"/>
<line x1="296.55" y1="227.5" x2="299.85" y2="227.5" stroke="#707070" stroke-width="0.6400000000000001" />
<circle cx="303.9" cy="226.28" r="1.65" fill="none" stroke="#707070" stroke-width="0.8"/>
<line x1="302.25" y1="226.28" x2="305.55" y2="226.28" stroke="#707070" stroke-width="0.6400000000000001" />
<circle cx="315.1" cy="223.83" r="1.65" fill="none" stroke="#707070" stroke-width="0.8"/>
<line x1="313.45" y1="223.83" x2="316.75" y2="223.83" stroke="#707070" stroke-width="0.6400000000000001" />
<circle cx="337.4" cy="210.38" r="1.65" fill="none" stroke="#707070" stroke-width="0.8"/>
<line x1="335.75" y1="210.38" x2="339.05" y2="210.38" stroke="#707070" stroke-width="0.6400000000000001" />
<circle cx="359.6" cy="187.15" r="1.65" fill="none" stroke="#707070" stroke-width="0.8"/>
<line x1="357.95" y1="187.15" x2="361.25" y2="187.15" stroke="#707070" stroke-width="0.6400000000000001" />
<circle cx="393.1" cy="166.98" r="1.65" fill="none" stroke="#707070" stroke-width="0.8"/>
<line x1="391.45" y1="166.98" x2="394.75" y2="166.98" stroke="#707070" stroke-width="0.6400000000000001" />
<path d="M293.2,227.5 L294.45,227.53 L295.7,227.54 L296.95,227.54 L298.2,227.5 L299.63,227.41 L301.05,227.27 L302.48,227.09 L303.9,226.89 L305.14,226.69 L306.39,226.48 L307.63,226.25 L308.88,226 L310.12,225.74 L311.37,225.45 L312.61,225.14 L313.86,224.8 L315.1,224.44 L316.34,224.06 L317.58,223.65 L318.82,223.21 L320.06,222.75 L321.29,222.26 L322.53,221.74 L323.77,221.2 L325.01,220.63 L326.25,220.03 L327.49,219.41 L328.73,218.76 L329.97,218.08 L331.21,217.38 L332.44,216.65 L333.68,215.89 L334.92,215.1 L336.16,214.28 L337.4,213.44 L338.63,212.57 L339.87,211.68 L341.1,210.76 L342.33,209.82 L343.57,208.86 L344.8,207.88 L346.03,206.88 L347.27,205.86 L348.5,204.83 L349.73,203.78 L350.97,202.72 L352.2,201.65 L353.43,200.58 L354.67,199.49 L355.9,198.4 L357.13,197.3 L358.37,196.2 L359.6,195.1" stroke="#9a9a9a" stroke-width="0.75" fill="none" />
<line x1="359.6" y1="195.1" x2="373.2" y2="186.91" stroke="#9a9a9a" stroke-width="0.75" />
<line x1="377.8" y1="184.14" x2="393.1" y2="174.93" stroke="#9a9a9a" stroke-width="0.75" />
<path d="M293.2,225.52 L295.02,228.82 L291.39,228.82 Z" stroke="#707070" stroke-width="0.8" fill="none" />
<path d="M298.2,225.52 L300.02,228.82 L296.39,228.82 Z" stroke="#707070" stroke-width="0.8" fill="none" />
<path d="M303.9,224.91 L305.72,228.21 L302.09,228.21 Z" stroke="#707070" stroke-width="0.8" fill="none" />
<path d="M315.1,222.46 L316.92,225.76 L313.29,225.76 Z" stroke="#707070" stroke-width="0.8" fill="none" />
<path d="M337.4,211.46 L339.22,214.76 L335.59,214.76 Z" stroke="#707070" stroke-width="0.8" fill="none" />
<path d="M359.6,193.12 L361.42,196.42 L357.79,196.42 Z" stroke="#707070" stroke-width="0.8" fill="none" />
<path d="M393.1,172.95 L394.92,176.25 L391.29,176.25 Z" stroke="#707070" stroke-width="0.8" fill="none" />
<path d="M293.2,227.5 L294.45,227.53 L295.7,227.55 L296.95,227.54 L298.2,227.5 L299.63,227.4 L301.05,227.26 L302.48,227.08 L303.9,226.89 L305.14,226.71 L306.39,226.53 L307.63,226.35 L308.88,226.16 L310.12,225.96 L311.37,225.75 L312.61,225.53 L313.86,225.3 L315.1,225.05 L316.34,224.8 L317.58,224.53 L318.82,224.24 L320.06,223.93 L321.29,223.6 L322.53,223.24 L323.77,222.87 L325.01,222.46 L326.25,222.03 L327.49,221.56 L328.73,221.06 L329.97,220.53 L331.21,219.96 L332.44,219.35 L333.68,218.7 L334.92,218.01 L336.16,217.28 L337.4,216.5 L338.63,215.67 L339.87,214.8 L341.1,213.89 L342.33,212.94 L343.57,211.95 L344.8,210.93 L346.03,209.87 L347.27,208.79 L348.5,207.68 L349.73,206.54 L350.97,205.39 L352.2,204.22 L353.43,203.03 L354.67,201.82 L355.9,200.61 L357.13,199.39 L358.37,198.16 L359.6,196.93" stroke="#9a9a9a" stroke-width="0.75" fill="none" />
<line x1="359.6" y1="196.93" x2="373.2" y2="188.5" stroke="#9a9a9a" stroke-width="0.75" />
<line x1="377.8" y1="185.64" x2="393.1" y2="176.15" stroke="#9a9a9a" stroke-width="0.75" />
<line x1="291.55" y1="226.18" x2="294.85" y2="228.82" stroke="#707070" stroke-width="0.8" />
<line x1="291.55" y1="228.82" x2="294.85" y2="226.18" stroke="#707070" stroke-width="0.8" />
<line x1="291.55" y1="227.5" x2="294.85" y2="227.5" stroke="#707070" stroke-width="0.6400000000000001" />
<line x1="296.55" y1="226.18" x2="299.85" y2="228.82" stroke="#707070" stroke-width="0.8" />
<line x1="296.55" y1="228.82" x2="299.85" y2="226.18" stroke="#707070" stroke-width="0.8" />
<line x1="296.55" y1="227.5" x2="299.85" y2="227.5" stroke="#707070" stroke-width="0.6400000000000001" />
<line x1="302.25" y1="225.57" x2="305.55" y2="228.21" stroke="#707070" stroke-width="0.8" />
<line x1="302.25" y1="228.21" x2="305.55" y2="225.57" stroke="#707070" stroke-width="0.8" />
<line x1="302.25" y1="226.89" x2="305.55" y2="226.89" stroke="#707070" stroke-width="0.6400000000000001" />
<line x1="313.45" y1="223.73" x2="316.75" y2="226.37" stroke="#707070" stroke-width="0.8" />
<line x1="313.45" y1="226.37" x2="316.75" y2="223.73" stroke="#707070" stroke-width="0.8" />
<line x1="313.45" y1="225.05" x2="316.75" y2="225.05" stroke="#707070" stroke-width="0.6400000000000001" />
<line x1="335.75" y1="215.18" x2="339.05" y2="217.82" stroke="#707070" stroke-width="0.8" />
<line x1="335.75" y1="217.82" x2="339.05" y2="215.18" stroke="#707070" stroke-width="0.8" />
<line x1="335.75" y1="216.5" x2="339.05" y2="216.5" stroke="#707070" stroke-width="0.6400000000000001" />
<line x1="357.95" y1="195.61" x2="361.25" y2="198.25" stroke="#707070" stroke-width="0.8" />
<line x1="357.95" y1="198.25" x2="361.25" y2="195.61" stroke="#707070" stroke-width="0.8" />
<line x1="357.95" y1="196.93" x2="361.25" y2="196.93" stroke="#707070" stroke-width="0.6400000000000001" />
<line x1="391.45" y1="174.83" x2="394.75" y2="177.47" stroke="#707070" stroke-width="0.8" />
<line x1="391.45" y1="177.47" x2="394.75" y2="174.83" stroke="#707070" stroke-width="0.8" />
<line x1="391.45" y1="176.15" x2="394.75" y2="176.15" stroke="#707070" stroke-width="0.6400000000000001" />
<path d="M293.2,227.5 L294.45,227.5 L295.7,227.49 L296.95,227.49 L298.2,227.5 L299.63,227.51 L301.05,227.52 L302.48,227.52 L303.9,227.5 L305.14,227.45 L306.39,227.38 L307.63,227.29 L308.88,227.17 L310.12,227.03 L311.37,226.87 L312.61,226.69 L313.86,226.49 L315.1,226.28 L316.34,226.04 L317.58,225.79 L318.82,225.53 L320.06,225.24 L321.29,224.93 L322.53,224.61 L323.77,224.26 L325.01,223.89 L326.25,223.5 L327.49,223.09 L328.73,222.66 L329.97,222.2 L331.21,221.72 L332.44,221.22 L333.68,220.69 L334.92,220.13 L336.16,219.55 L337.4,218.94 L338.63,218.31 L339.87,217.65 L341.1,216.97 L342.33,216.26 L343.57,215.54 L344.8,214.79 L346.03,214.03 L347.27,213.25 L348.5,212.46 L349.73,211.65 L350.97,210.83 L352.2,210 L353.43,209.16 L354.67,208.31 L355.9,207.46 L357.13,206.6 L358.37,205.74 L359.6,204.88" stroke="#9a9a9a" stroke-width="0.75" fill="none" />
<line x1="359.6" y1="204.88" x2="373.2" y2="193.71" stroke="#9a9a9a" stroke-width="0.75" />
<line x1="377.8" y1="189.93" x2="393.1" y2="177.37" stroke="#9a9a9a" stroke-width="0.75" />
<path d="M293.2,225.52 L294.85,227.5 L293.2,229.48 L291.55,227.5 Z" stroke="#707070" stroke-width="0.8" fill="none" />
<path d="M298.2,225.52 L299.85,227.5 L298.2,229.48 L296.55,227.5 Z" stroke="#707070" stroke-width="0.8" fill="none" />
<path d="M303.9,225.52 L305.55,227.5 L303.9,229.48 L302.25,227.5 Z" stroke="#707070" stroke-width="0.8" fill="none" />
<path d="M315.1,224.3 L316.75,226.28 L315.1,228.26 L313.45,226.28 Z" stroke="#707070" stroke-width="0.8" fill="none" />
<path d="M337.4,216.96 L339.05,218.94 L337.4,220.92 L335.75,218.94 Z" stroke="#707070" stroke-width="0.8" fill="none" />
<path d="M359.6,202.9 L361.25,204.88 L359.6,206.86 L357.95,204.88 Z" stroke="#707070" stroke-width="0.8" fill="none" />
<path d="M393.1,175.39 L394.75,177.37 L393.1,179.35 L391.45,177.37 Z" stroke="#707070" stroke-width="0.8" fill="none" />
<path d="M411,159.03 L412.38,161.59 L413.75,164.21 L415.12,166.69 L416.5,168.81 L417.74,170.52 L418.99,172.24 L420.23,173.94 L421.48,175.58 L422.72,177.13 L423.97,178.54 L425.21,179.79 L426.46,180.84 L427.7,181.65 L428.95,182.29 L430.2,182.85 L431.45,183.33 L432.7,183.75 L433.95,184.12 L435.2,184.43 L436.45,184.71 L437.7,184.95 L438.95,185.16 L440.2,185.35 L441.45,185.54 L442.7,185.72 L443.95,185.9 L445.2,186.1 L446.45,186.31 L447.7,186.55 L448.95,186.83 L450.2,187.15 L451.42,187.49 L452.64,187.84 L453.87,188.19 L455.09,188.55 L456.31,188.92 L457.53,189.29 L458.76,189.67 L459.98,190.05 L461.2,190.43 L462.42,190.81 L463.64,191.2 L464.87,191.58 L466.09,191.97 L467.31,192.36 L468.53,192.74 L469.76,193.12 L470.98,193.5 L472.2,193.88" stroke="#9a9a9a" stroke-width="0.75" fill="none" />
<line x1="472.2" y1="193.88" x2="486.8" y2="195.99" stroke="#9a9a9a" stroke-width="0.75" />
<line x1="491.4" y1="196.65" x2="506" y2="198.77" stroke="#9a9a9a" stroke-width="0.75" />
<rect x="409.35" y="157.38" width="3.3" height="3.3" fill="none" stroke="#707070" stroke-width="0.8" />
<rect x="414.85" y="167.16" width="3.3" height="3.3" fill="none" stroke="#707070" stroke-width="0.8" />
<rect x="426.05" y="180" width="3.3" height="3.3" fill="none" stroke="#707070" stroke-width="0.8" />
<rect x="448.55" y="185.5" width="3.3" height="3.3" fill="none" stroke="#707070" stroke-width="0.8" />
<rect x="470.55" y="192.23" width="3.3" height="3.3" fill="none" stroke="#707070" stroke-width="0.8" />
<rect x="504.35" y="197.12" width="3.3" height="3.3" fill="none" stroke="#707070" stroke-width="0.8" />
<path d="M411,162.09 L412.38,164.81 L413.75,167.72 L415.12,170.26 L416.5,171.87 L417.74,172.55 L418.99,172.92 L420.23,173.06 L421.48,173.06 L422.72,172.98 L423.97,172.93 L425.21,172.98 L426.46,173.21 L427.7,173.7 L428.95,174.4 L430.2,175.16 L431.45,175.99 L432.7,176.86 L433.95,177.78 L435.2,178.73 L436.45,179.71 L437.7,180.7 L438.95,181.7 L440.2,182.7 L441.45,183.69 L442.7,184.66 L443.95,185.6 L445.2,186.51 L446.45,187.37 L447.7,188.18 L448.95,188.92 L450.2,189.6 L451.42,190.19 L452.64,190.74 L453.87,191.23 L455.09,191.69 L456.31,192.11 L457.53,192.5 L458.76,192.86 L459.98,193.2 L461.2,193.52 L462.42,193.82 L463.64,194.12 L464.87,194.41 L466.09,194.7 L467.31,195 L468.53,195.3 L469.76,195.62 L470.98,195.96 L472.2,196.32" stroke="#9a9a9a" stroke-width="0.75" fill="none" />
<line x1="472.2" y1="196.32" x2="486.8" y2="198.7" stroke="#9a9a9a" stroke-width="0.75" />
<line x1="491.4" y1="199.45" x2="506" y2="201.82" stroke="#9a9a9a" stroke-width="0.75" />
<circle cx="411" cy="162.09" r="1.65" fill="none" stroke="#707070" stroke-width="0.8"/>
<line x1="409.35" y1="162.09" x2="412.65" y2="162.09" stroke="#707070" stroke-width="0.6400000000000001" />
<circle cx="416.5" cy="171.87" r="1.65" fill="none" stroke="#707070" stroke-width="0.8"/>
<line x1="414.85" y1="171.87" x2="418.15" y2="171.87" stroke="#707070" stroke-width="0.6400000000000001" />
<circle cx="427.7" cy="173.7" r="1.65" fill="none" stroke="#707070" stroke-width="0.8"/>
<line x1="426.05" y1="173.7" x2="429.35" y2="173.7" stroke="#707070" stroke-width="0.6400000000000001" />
<circle cx="450.2" cy="189.6" r="1.65" fill="none" stroke="#707070" stroke-width="0.8"/>
<line x1="448.55" y1="189.6" x2="451.85" y2="189.6" stroke="#707070" stroke-width="0.6400000000000001" />
<circle cx="472.2" cy="196.32" r="1.65" fill="none" stroke="#707070" stroke-width="0.8"/>
<line x1="470.55" y1="196.32" x2="473.85" y2="196.32" stroke="#707070" stroke-width="0.6400000000000001" />
<circle cx="506" cy="201.82" r="1.65" fill="none" stroke="#707070" stroke-width="0.8"/>
<line x1="504.35" y1="201.82" x2="507.65" y2="201.82" stroke="#707070" stroke-width="0.6400000000000001" />
<path d="M411,170.03 L412.38,171.45 L413.75,172.89 L415.12,174.28 L416.5,175.54 L417.74,176.6 L418.99,177.67 L420.23,178.75 L421.48,179.8 L422.72,180.81 L423.97,181.76 L425.21,182.64 L426.46,183.42 L427.7,184.1 L428.95,184.69 L430.2,185.25 L431.45,185.79 L432.7,186.29 L433.95,186.78 L435.2,187.24 L436.45,187.68 L437.7,188.11 L438.95,188.52 L440.2,188.92 L441.45,189.31 L442.7,189.7 L443.95,190.08 L445.2,190.47 L446.45,190.85 L447.7,191.24 L448.95,191.64 L450.2,192.04 L451.42,192.44 L452.64,192.84 L453.87,193.22 L455.09,193.61 L456.31,193.99 L457.53,194.36 L458.76,194.73 L459.98,195.1 L461.2,195.47 L462.42,195.84 L463.64,196.2 L464.87,196.56 L466.09,196.93 L467.31,197.29 L468.53,197.66 L469.76,198.03 L470.98,198.4 L472.2,198.77" stroke="#9a9a9a" stroke-width="0.75" fill="none" />
<line x1="472.2" y1="198.77" x2="486.8" y2="201.14" stroke="#9a9a9a" stroke-width="0.75" />
<line x1="491.4" y1="201.89" x2="506" y2="204.27" stroke="#9a9a9a" stroke-width="0.75" />
<path d="M411,168.05 L412.81,171.35 L409.19,171.35 Z" stroke="#707070" stroke-width="0.8" fill="none" />
<path d="M416.5,173.56 L418.31,176.86 L414.69,176.86 Z" stroke="#707070" stroke-width="0.8" fill="none" />
<path d="M427.7,182.12 L429.52,185.42 L425.89,185.42 Z" stroke="#707070" stroke-width="0.8" fill="none" />
<path d="M450.2,190.06 L452.02,193.36 L448.39,193.36 Z" stroke="#707070" stroke-width="0.8" fill="none" />
<path d="M472.2,196.79 L474.02,200.09 L470.39,200.09 Z" stroke="#707070" stroke-width="0.8" fill="none" />
<path d="M506,202.29 L507.81,205.59 L504.19,205.59 Z" stroke="#707070" stroke-width="0.8" fill="none" />
<path d="M411,179.82 L412.38,180.26 L413.75,180.69 L415.12,181.14 L416.5,181.65 L417.74,182.18 L418.99,182.74 L420.23,183.33 L421.48,183.93 L422.72,184.52 L423.97,185.1 L425.21,185.63 L426.46,186.12 L427.7,186.54 L428.95,186.92 L430.2,187.27 L431.45,187.61 L432.7,187.93 L433.95,188.24 L435.2,188.54 L436.45,188.83 L437.7,189.11 L438.95,189.39 L440.2,189.66 L441.45,189.94 L442.7,190.21 L443.95,190.5 L445.2,190.78 L446.45,191.08 L447.7,191.39 L448.95,191.71 L450.2,192.04 L451.42,192.38 L452.64,192.73 L453.87,193.08 L455.09,193.45 L456.31,193.81 L457.53,194.18 L458.76,194.56 L459.98,194.94 L461.2,195.32 L462.42,195.7 L463.64,196.09 L464.87,196.48 L466.09,196.86 L467.31,197.25 L468.53,197.63 L469.76,198.01 L470.98,198.39 L472.2,198.77" stroke="#9a9a9a" stroke-width="0.75" fill="none" />
<line x1="472.2" y1="198.77" x2="486.8" y2="201.41" stroke="#9a9a9a" stroke-width="0.75" />
<line x1="491.4" y1="202.24" x2="506" y2="204.88" stroke="#9a9a9a" stroke-width="0.75" />
<path d="M411,177.84 L412.65,179.82 L411,181.8 L409.35,179.82 Z" stroke="#707070" stroke-width="0.8" fill="none" />
<path d="M416.5,179.67 L418.15,181.65 L416.5,183.63 L414.85,181.65 Z" stroke="#707070" stroke-width="0.8" fill="none" />
<path d="M427.7,184.56 L429.35,186.54 L427.7,188.52 L426.05,186.54 Z" stroke="#707070" stroke-width="0.8" fill="none" />
<path d="M450.2,190.06 L451.85,192.04 L450.2,194.02 L448.55,192.04 Z" stroke="#707070" stroke-width="0.8" fill="none" />
<path d="M472.2,196.79 L473.85,198.77 L472.2,200.75 L470.55,198.77 Z" stroke="#707070" stroke-width="0.8" fill="none" />
<path d="M506,202.9 L507.65,204.88 L506,206.86 L504.35,204.88 Z" stroke="#707070" stroke-width="0.8" fill="none" />
<path d="M411,185.32 L412.38,187.53 L413.75,189.88 L415.12,191.94 L416.5,193.27 L417.74,193.88 L418.99,194.3 L420.23,194.56 L421.48,194.71 L422.72,194.78 L423.97,194.81 L425.21,194.85 L426.46,194.93 L427.7,195.1 L428.95,195.33 L430.2,195.57 L431.45,195.82 L432.7,196.08 L433.95,196.34 L435.2,196.61 L436.45,196.87 L437.7,197.14 L438.95,197.4 L440.2,197.66 L441.45,197.91 L442.7,198.16 L443.95,198.4 L445.2,198.62 L446.45,198.83 L447.7,199.03 L448.95,199.21 L450.2,199.38 L451.42,199.52 L452.64,199.65 L453.87,199.76 L455.09,199.85 L456.31,199.94 L457.53,200.01 L458.76,200.07 L459.98,200.13 L461.2,200.18 L462.42,200.22 L463.64,200.26 L464.87,200.3 L466.09,200.35 L467.31,200.39 L468.53,200.43 L469.76,200.48 L470.98,200.54 L472.2,200.6" stroke="#9a9a9a" stroke-width="0.75" fill="none" />
<line x1="472.2" y1="200.6" x2="486.8" y2="202.98" stroke="#9a9a9a" stroke-width="0.75" />
<line x1="491.4" y1="203.73" x2="506" y2="206.1" stroke="#9a9a9a" stroke-width="0.75" />
<line x1="409.35" y1="184" x2="412.65" y2="186.64" stroke="#707070" stroke-width="0.8" />
<line x1="409.35" y1="186.64" x2="412.65" y2="184" stroke="#707070" stroke-width="0.8" />
<line x1="409.35" y1="185.32" x2="412.65" y2="185.32" stroke="#707070" stroke-width="0.6400000000000001" />
<line x1="414.85" y1="191.95" x2="418.15" y2="194.59" stroke="#707070" stroke-width="0.8" />
<line x1="414.85" y1="194.59" x2="418.15" y2="191.95" stroke="#707070" stroke-width="0.8" />
<line x1="414.85" y1="193.27" x2="418.15" y2="193.27" stroke="#707070" stroke-width="0.6400000000000001" />
<line x1="426.05" y1="193.78" x2="429.35" y2="196.42" stroke="#707070" stroke-width="0.8" />
<line x1="426.05" y1="196.42" x2="429.35" y2="193.78" stroke="#707070" stroke-width="0.8" />
<line x1="426.05" y1="195.1" x2="429.35" y2="195.1" stroke="#707070" stroke-width="0.6400000000000001" />
<line x1="448.55" y1="198.06" x2="451.85" y2="200.7" stroke="#707070" stroke-width="0.8" />
<line x1="448.55" y1="200.7" x2="451.85" y2="198.06" stroke="#707070" stroke-width="0.8" />
<line x1="448.55" y1="199.38" x2="451.85" y2="199.38" stroke="#707070" stroke-width="0.6400000000000001" />
<line x1="470.55" y1="199.28" x2="473.85" y2="201.92" stroke="#707070" stroke-width="0.8" />
<line x1="470.55" y1="201.92" x2="473.85" y2="199.28" stroke="#707070" stroke-width="0.8" />
<line x1="470.55" y1="200.6" x2="473.85" y2="200.6" stroke="#707070" stroke-width="0.6400000000000001" />
<line x1="504.35" y1="204.78" x2="507.65" y2="207.42" stroke="#707070" stroke-width="0.8" />
<line x1="504.35" y1="207.42" x2="507.65" y2="204.78" stroke="#707070" stroke-width="0.8" />
<line x1="504.35" y1="206.1" x2="507.65" y2="206.1" stroke="#707070" stroke-width="0.6400000000000001" />
<path d="M293.2,227.5 L294.45,227.5 L295.7,227.5 L296.95,227.5 L298.2,227.5 L299.63,227.5 L301.05,227.5 L302.48,227.5 L303.9,227.5 L305.14,227.5 L306.39,227.5 L307.63,227.5 L308.88,227.5 L310.12,227.5 L311.37,227.5 L312.61,227.5 L313.86,227.5 L315.1,227.5 L316.34,227.5 L317.58,227.5 L318.82,227.5 L320.06,227.5 L321.29,227.5 L322.53,227.5 L323.77,227.5 L325.01,227.5 L326.25,227.5 L327.49,227.5 L328.73,227.5 L329.97,227.5 L331.21,227.5 L332.44,227.5 L333.68,227.5 L334.92,227.5 L336.16,227.5 L337.4,227.5 L338.63,227.5 L339.87,227.5 L341.1,227.5 L342.33,227.5 L343.57,227.5 L344.8,227.5 L346.03,227.5 L347.27,227.5 L348.5,227.5 L349.73,227.5 L350.97,227.5 L352.2,227.5 L353.43,227.5 L354.67,227.5 L355.9,227.5 L357.13,227.5 L358.37,227.5 L359.6,227.5" stroke="#444" stroke-width="0.85" fill="none" />
<line x1="359.6" y1="227.5" x2="373.2" y2="227.5" stroke="#444" stroke-width="0.85" />
<line x1="377.8" y1="227.5" x2="393.1" y2="227.5" stroke="#444" stroke-width="0.85" />
<path d="M293.2,227.5 L294.45,227.5 L295.7,227.5 L296.95,227.5 L298.2,227.5 L299.63,227.5 L301.05,227.5 L302.48,227.5 L303.9,227.5 L305.14,227.5 L306.39,227.5 L307.63,227.5 L308.88,227.5 L310.12,227.5 L311.37,227.5 L312.61,227.5 L313.86,227.5 L315.1,227.5 L316.34,227.5 L317.58,227.5 L318.82,227.5 L320.06,227.5 L321.29,227.5 L322.53,227.5 L323.77,227.5 L325.01,227.5 L326.25,227.5 L327.49,227.5 L328.73,227.5 L329.97,227.5 L331.21,227.5 L332.44,227.5 L333.68,227.5 L334.92,227.5 L336.16,227.5 L337.4,227.5 L338.63,227.5 L339.87,227.5 L341.1,227.5 L342.33,227.5 L343.57,227.5 L344.8,227.5 L346.03,227.5 L347.27,227.5 L348.5,227.5 L349.73,227.5 L350.97,227.5 L352.2,227.5 L353.43,227.5 L354.67,227.5 L355.9,227.5 L357.13,227.5 L358.37,227.5 L359.6,227.5" stroke="#444" stroke-width="0.85" fill="none" />
<line x1="359.6" y1="227.5" x2="373.2" y2="227.5" stroke="#444" stroke-width="0.85" />
<line x1="377.8" y1="227.5" x2="393.1" y2="227.5" stroke="#444" stroke-width="0.85" />
<path d="M293.2,227.5 L294.45,227.5 L295.7,227.5 L296.95,227.5 L298.2,227.5 L299.63,227.52 L301.05,227.55 L302.48,227.56 L303.9,227.5 L305.14,227.4 L306.39,227.28 L307.63,227.14 L308.88,226.99 L310.12,226.84 L311.37,226.69 L312.61,226.54 L313.86,226.4 L315.1,226.28 L316.34,226.17 L317.58,226.06 L318.82,225.96 L320.06,225.87 L321.29,225.77 L322.53,225.68 L323.77,225.59 L325.01,225.5 L326.25,225.41 L327.49,225.32 L328.73,225.23 L329.97,225.13 L331.21,225.03 L332.44,224.93 L333.68,224.82 L334.92,224.7 L336.16,224.58 L337.4,224.44 L338.63,224.3 L339.87,224.16 L341.1,224.01 L342.33,223.85 L343.57,223.68 L344.8,223.52 L346.03,223.34 L347.27,223.17 L348.5,222.99 L349.73,222.81 L350.97,222.63 L352.2,222.45 L353.43,222.27 L354.67,222.09 L355.9,221.91 L357.13,221.73 L358.37,221.56 L359.6,221.39" stroke="#8a8a8a" stroke-width="0.8" fill="none" />
<line x1="359.6" y1="221.39" x2="373.2" y2="220.15" stroke="#8a8a8a" stroke-width="0.8" />
<line x1="377.8" y1="219.73" x2="393.1" y2="218.33" stroke="#8a8a8a" stroke-width="0.8" />
<rect x="291.6" y="224.5" width="3.2" height="5.3" fill="#111" stroke="none" stroke-width="1" rx="1.3"/>
<rect x="296.6" y="224.5" width="3.2" height="5.3" fill="#111" stroke="none" stroke-width="1" rx="1.3"/>
<rect x="302.3" y="224.5" width="3.2" height="5.3" fill="#111" stroke="none" stroke-width="1" rx="1.3"/>
<rect x="313.5" y="223.28" width="3.2" height="6.52" fill="#111" stroke="none" stroke-width="1" rx="1.3"/>
<path d="M315.1,221.68 L316.8,224.78 L313.4,224.78 Z" stroke="#111" stroke-width="0.3" fill="#111" />
<rect x="335.8" y="221.44" width="3.2" height="8.36" fill="#111" stroke="none" stroke-width="1" rx="1.3"/>
<path d="M337.4,219.84 L339.1,222.94 L335.7,222.94 Z" stroke="#111" stroke-width="0.3" fill="#111" />
<rect x="358" y="218.39" width="3.2" height="11.41" fill="#111" stroke="none" stroke-width="1" rx="1.3"/>
<path d="M359.6,216.79 L361.3,219.89 L357.9,219.89 Z" stroke="#111" stroke-width="0.3" fill="#111" />
<path d="M393.1,215.93 L395.14,220 L391.06,220 Z" stroke="#111" stroke-width="0.3" fill="#111" />
<rect x="391.5" y="224.5" width="3.2" height="5.3" fill="#111" stroke="none" stroke-width="1" rx="1.3"/>
<path d="M411,227.5 L412.38,227.5 L413.75,227.5 L415.12,227.5 L416.5,227.5 L417.74,227.5 L418.99,227.5 L420.23,227.5 L421.48,227.5 L422.72,227.5 L423.97,227.5 L425.21,227.5 L426.46,227.5 L427.7,227.5 L428.95,227.5 L430.2,227.5 L431.45,227.5 L432.7,227.5 L433.95,227.5 L435.2,227.5 L436.45,227.5 L437.7,227.5 L438.95,227.5 L440.2,227.5 L441.45,227.5 L442.7,227.5 L443.95,227.5 L445.2,227.5 L446.45,227.5 L447.7,227.5 L448.95,227.5 L450.2,227.5 L451.42,227.5 L452.64,227.5 L453.87,227.5 L455.09,227.5 L456.31,227.5 L457.53,227.5 L458.76,227.5 L459.98,227.5 L461.2,227.5 L462.42,227.5 L463.64,227.5 L464.87,227.5 L466.09,227.5 L467.31,227.5 L468.53,227.5 L469.76,227.5 L470.98,227.5 L472.2,227.5" stroke="#444" stroke-width="0.85" fill="none" />
<line x1="472.2" y1="227.5" x2="486.8" y2="227.5" stroke="#444" stroke-width="0.85" />
<line x1="491.4" y1="227.5" x2="506" y2="227.5" stroke="#444" stroke-width="0.85" />
<path d="M411,227.5 L412.38,227.5 L413.75,227.5 L415.12,227.5 L416.5,227.5 L417.74,227.5 L418.99,227.5 L420.23,227.5 L421.48,227.5 L422.72,227.5 L423.97,227.5 L425.21,227.5 L426.46,227.5 L427.7,227.5 L428.95,227.5 L430.2,227.5 L431.45,227.5 L432.7,227.5 L433.95,227.5 L435.2,227.5 L436.45,227.5 L437.7,227.5 L438.95,227.5 L440.2,227.5 L441.45,227.5 L442.7,227.5 L443.95,227.5 L445.2,227.5 L446.45,227.5 L447.7,227.5 L448.95,227.5 L450.2,227.5 L451.42,227.5 L452.64,227.5 L453.87,227.5 L455.09,227.5 L456.31,227.5 L457.53,227.5 L458.76,227.5 L459.98,227.5 L461.2,227.5 L462.42,227.5 L463.64,227.5 L464.87,227.5 L466.09,227.5 L467.31,227.5 L468.53,227.5 L469.76,227.5 L470.98,227.5 L472.2,227.5" stroke="#444" stroke-width="0.85" fill="none" />
<line x1="472.2" y1="227.5" x2="486.8" y2="227.5" stroke="#444" stroke-width="0.85" />
<line x1="491.4" y1="227.5" x2="506" y2="227.5" stroke="#444" stroke-width="0.85" />
<path d="M411,217.11 L412.38,217.82 L413.75,218.61 L415.12,219.26 L416.5,219.55 L417.74,219.51 L418.99,219.33 L420.23,219.05 L421.48,218.71 L422.72,218.36 L423.97,218.04 L425.21,217.8 L426.46,217.68 L427.7,217.72 L428.95,217.88 L430.2,218.07 L431.45,218.31 L432.7,218.58 L433.95,218.87 L435.2,219.19 L436.45,219.52 L437.7,219.87 L438.95,220.23 L440.2,220.6 L441.45,220.97 L442.7,221.33 L443.95,221.69 L445.2,222.04 L446.45,222.37 L447.7,222.68 L448.95,222.96 L450.2,223.22 L451.42,223.45 L452.64,223.66 L453.87,223.87 L455.09,224.06 L456.31,224.24 L457.53,224.41 L458.76,224.58 L459.98,224.74 L461.2,224.9 L462.42,225.05 L463.64,225.2 L464.87,225.35 L466.09,225.49 L467.31,225.64 L468.53,225.8 L469.76,225.95 L470.98,226.11 L472.2,226.28" stroke="#8a8a8a" stroke-width="0.8" fill="none" />
<line x1="472.2" y1="226.28" x2="486.8" y2="226.54" stroke="#8a8a8a" stroke-width="0.8" />
<line x1="491.4" y1="226.62" x2="506" y2="226.89" stroke="#8a8a8a" stroke-width="0.8" />
<path d="M411,214.7 L413.04,218.77 L408.96,218.77 Z" stroke="#111" stroke-width="0.3" fill="#111" />
<rect x="409.4" y="224.5" width="3.2" height="5.3" fill="#111" stroke="none" stroke-width="1" rx="1.3"/>
<path d="M416.5,217.15 L418.54,221.22 L414.46,221.22 Z" stroke="#111" stroke-width="0.3" fill="#111" />
<rect x="414.9" y="224.5" width="3.2" height="5.3" fill="#111" stroke="none" stroke-width="1" rx="1.3"/>
<path d="M427.7,215.31 L429.74,219.38 L425.67,219.38 Z" stroke="#111" stroke-width="0.3" fill="#111" />
<rect x="426.1" y="224.5" width="3.2" height="5.3" fill="#111" stroke="none" stroke-width="1" rx="1.3"/>
<rect x="448.6" y="220.22" width="3.2" height="9.58" fill="#111" stroke="none" stroke-width="1" rx="1.3"/>
<path d="M450.2,218.62 L451.9,221.72 L448.5,221.72 Z" stroke="#111" stroke-width="0.3" fill="#111" />
<rect x="470.6" y="223.28" width="3.2" height="6.52" fill="#111" stroke="none" stroke-width="1" rx="1.3"/>
<path d="M472.2,221.68 L473.9,224.78 L470.5,224.78 Z" stroke="#111" stroke-width="0.3" fill="#111" />
<rect x="504.4" y="223.89" width="3.2" height="5.91" fill="#111" stroke="none" stroke-width="1" rx="1.3"/>
<path d="M506,222.29 L507.7,225.39 L504.3,225.39 Z" stroke="#111" stroke-width="0.3" fill="#111" />
<text x="32.2" y="43" font-size="10.6" text-anchor="end" font-weight="normal" fill="#111" >12</text>
<text x="32.2" y="69.8" font-size="10.6" text-anchor="end" font-weight="normal" fill="#111" >8</text>
<text x="32.2" y="100.8" font-size="10.6" text-anchor="end" font-weight="normal" fill="#111" >4</text>
<text x="32.2" y="128.3" font-size="10.6" text-anchor="end" font-weight="normal" fill="#111" >0</text>
<line x1="35.1" y1="66.3" x2="38.7" y2="66.3" stroke="#222" stroke-width="1.0" />
<line x1="148.9" y1="66.3" x2="151.9" y2="66.3" stroke="#333" stroke-width="0.9" />
<line x1="35.1" y1="97" x2="38.7" y2="97" stroke="#222" stroke-width="1.0" />
<line x1="148.9" y1="97" x2="151.9" y2="97" stroke="#333" stroke-width="0.9" />
<text x="289.1" y="44.7" font-size="10.6" text-anchor="end" font-weight="normal" fill="#111" >1.5</text>
<text x="289.1" y="71.7" font-size="10.6" text-anchor="end" font-weight="normal" fill="#111" >1</text>
<text x="289.1" y="101.2" font-size="10.6" text-anchor="end" font-weight="normal" fill="#111" >0.5</text>
<text x="289.1" y="127.8" font-size="10.6" text-anchor="end" font-weight="normal" fill="#111" >0</text>
<line x1="292.5" y1="66.8" x2="296.1" y2="66.8" stroke="#222" stroke-width="1.0" />
<line x1="406.4" y1="66.8" x2="409.4" y2="66.8" stroke="#333" stroke-width="0.9" />
<line x1="292.5" y1="97.1" x2="296.1" y2="97.1" stroke="#222" stroke-width="1.0" />
<line x1="406.4" y1="97.1" x2="409.4" y2="97.1" stroke="#333" stroke-width="0.9" />
<text x="32.2" y="143.6" font-size="10.6" text-anchor="end" font-weight="normal" fill="#111" >300</text>
<text x="32.2" y="172.7" font-size="10.6" text-anchor="end" font-weight="normal" fill="#111" >200</text>
<text x="32.2" y="201" font-size="10.6" text-anchor="end" font-weight="normal" fill="#111" >100</text>
<text x="32.2" y="228" font-size="10.6" text-anchor="end" font-weight="normal" fill="#111" >0</text>
<line x1="35.1" y1="168" x2="38.7" y2="168" stroke="#222" stroke-width="1.0" />
<line x1="148.9" y1="168" x2="151.9" y2="168" stroke="#333" stroke-width="0.9" />
<line x1="35.1" y1="197.2" x2="38.7" y2="197.2" stroke="#222" stroke-width="1.0" />
<line x1="148.9" y1="197.2" x2="151.9" y2="197.2" stroke="#333" stroke-width="0.9" />
<text x="289.1" y="144.3" font-size="10.6" text-anchor="end" font-weight="normal" fill="#111" >1.5</text>
<text x="289.1" y="172" font-size="10.6" text-anchor="end" font-weight="normal" fill="#111" >1</text>
<text x="289.1" y="201" font-size="10.6" text-anchor="end" font-weight="normal" fill="#111" >0.5</text>
<text x="289.1" y="227.3" font-size="10.6" text-anchor="end" font-weight="normal" fill="#111" >0</text>
<line x1="292.5" y1="166.8" x2="296.1" y2="166.8" stroke="#222" stroke-width="1.0" />
<line x1="406.4" y1="166.8" x2="409.4" y2="166.8" stroke="#333" stroke-width="0.9" />
<line x1="292.5" y1="196.5" x2="296.1" y2="196.5" stroke="#222" stroke-width="1.0" />
<line x1="406.4" y1="196.5" x2="409.4" y2="196.5" stroke="#333" stroke-width="0.9" />
<text transform="translate(10.7,81.2) rotate(-90)" font-size="10.7" text-anchor="middle" fill="#111">TNF- <tspan font-family="&quot;Liberation Serif&quot;, serif" font-style="italic" font-size="11.4">α</tspan> (ng/mL)</text>
<text transform="translate(273.7,79.4) rotate(-90)" font-size="10.4" text-anchor="middle" fill="#111">IL-1β (ng/mL)</text>
<text transform="translate(10.6,182.6) rotate(-90)" font-size="10.3" text-anchor="middle" fill="#111">IL-12p70 (pg/mL)</text>
<text transform="translate(273.7,179.6) rotate(-90)" font-size="10.4" text-anchor="middle" fill="#111">IL-10 (ng/mL)</text>
<text x="36.2" y="240" font-size="9.8" text-anchor="middle" font-weight="normal" fill="#111" >0</text>
<text x="46.3" y="240" font-size="9.8" text-anchor="middle" font-weight="normal" fill="#111" >4</text>
<text x="57" y="240" font-size="9.8" text-anchor="middle" font-weight="normal" fill="#111" >8</text>
<text x="78.5" y="240" font-size="9.8" text-anchor="middle" font-weight="normal" fill="#111" >16</text>
<text x="101.9" y="240" font-size="9.8" text-anchor="middle" font-weight="normal" fill="#111" >24</text>
<text x="134.5" y="240" font-size="9.8" text-anchor="middle" font-weight="normal" fill="#111" >72</text>
<text x="149.7" y="240" font-size="9.8" text-anchor="middle" font-weight="normal" fill="#111" >0</text>
<text x="160" y="240" font-size="9.8" text-anchor="middle" font-weight="normal" fill="#111" >4</text>
<text x="170.5" y="240" font-size="9.8" text-anchor="middle" font-weight="normal" fill="#111" >8</text>
<text x="191.9" y="240" font-size="9.8" text-anchor="middle" font-weight="normal" fill="#111" >16</text>
<text x="215.9" y="240" font-size="9.8" text-anchor="middle" font-weight="normal" fill="#111" >24</text>
<text x="247.9" y="240" font-size="9.8" text-anchor="middle" font-weight="normal" fill="#111" >72</text>
<text x="258.2" y="240" font-size="9.8" text-anchor="middle" font-weight="normal" fill="#111" >h</text>
<text x="293.8" y="240" font-size="9.8" text-anchor="middle" font-weight="normal" fill="#111" >0</text>
<text x="304.2" y="240" font-size="9.8" text-anchor="middle" font-weight="normal" fill="#111" >4</text>
<text x="314.6" y="240" font-size="9.8" text-anchor="middle" font-weight="normal" fill="#111" >8</text>
<text x="336.5" y="240" font-size="9.8" text-anchor="middle" font-weight="normal" fill="#111" >16</text>
<text x="359.6" y="240" font-size="9.8" text-anchor="middle" font-weight="normal" fill="#111" >24</text>
<text x="391" y="240" font-size="9.8" text-anchor="middle" font-weight="normal" fill="#111" >72</text>
<text x="408" y="240" font-size="9.8" text-anchor="middle" font-weight="normal" fill="#111" >0</text>
<text x="418.3" y="240" font-size="9.8" text-anchor="middle" font-weight="normal" fill="#111" >4</text>
<text x="429" y="240" font-size="9.8" text-anchor="middle" font-weight="normal" fill="#111" >8</text>
<text x="450.6" y="240" font-size="9.8" text-anchor="middle" font-weight="normal" fill="#111" >16</text>
<text x="474.1" y="240" font-size="9.8" text-anchor="middle" font-weight="normal" fill="#111" >24</text>
<text x="505.4" y="240" font-size="9.8" text-anchor="middle" font-weight="normal" fill="#111" >72</text>
<text x="515.8" y="240" font-size="9.8" text-anchor="middle" font-weight="normal" fill="#111" >h</text>
<line x1="35" y1="243.1" x2="145.7" y2="243.1" stroke="#333" stroke-width="1.5" />
<line x1="148.2" y1="243.1" x2="259.3" y2="243.1" stroke="#333" stroke-width="1.5" />
<line x1="292.2" y1="243.1" x2="403" y2="243.1" stroke="#333" stroke-width="1.5" />
<line x1="406.1" y1="243.1" x2="517" y2="243.1" stroke="#333" stroke-width="1.5" />
<text x="90.9" y="254.7" font-size="10.8" text-anchor="middle" font-weight="normal" fill="#111" >TSN</text>
<text x="201.6" y="254.7" font-size="10.6" text-anchor="middle" font-weight="normal" fill="#111" >TSN Pretreated</text>
<text x="346.3" y="254.7" font-size="10.8" text-anchor="middle" font-weight="normal" fill="#111" >TSN</text>
<text x="458.3" y="254.7" font-size="10.6" text-anchor="middle" font-weight="normal" fill="#111" >TSN Pretreated</text>
<rect x="114.7" y="35.3" width="6.8" height="2.4" fill="#fff" stroke="none" stroke-width="1" />
<line x1="114.4" y1="39.7" x2="117.8" y2="33.1" stroke="#111" stroke-width="1.2" />
<line x1="118.1" y1="39.7" x2="121.7" y2="32.7" stroke="#111" stroke-width="1.2" />
<rect x="114.7" y="126.8" width="6.8" height="2.4" fill="#fff" stroke="none" stroke-width="1" />
<line x1="114.4" y1="131.2" x2="117.8" y2="124.6" stroke="#111" stroke-width="1.2" />
<line x1="118.1" y1="131.2" x2="121.7" y2="124.2" stroke="#111" stroke-width="1.2" />
<rect x="114.7" y="134.6" width="6.8" height="2.4" fill="#fff" stroke="none" stroke-width="1" />
<line x1="114.4" y1="139" x2="117.8" y2="132.4" stroke="#111" stroke-width="1.2" />
<line x1="118.1" y1="139" x2="121.7" y2="132" stroke="#111" stroke-width="1.2" />
<rect x="114.7" y="226.3" width="6.8" height="2.4" fill="#fff" stroke="none" stroke-width="1" />
<line x1="114.4" y1="230.7" x2="117.8" y2="224.1" stroke="#111" stroke-width="1.2" />
<line x1="118.1" y1="230.7" x2="121.7" y2="223.7" stroke="#111" stroke-width="1.2" />
<rect x="228.3" y="35.3" width="6.8" height="2.4" fill="#fff" stroke="none" stroke-width="1" />
<line x1="228" y1="39.7" x2="231.4" y2="33.1" stroke="#111" stroke-width="1.2" />
<line x1="231.7" y1="39.7" x2="235.3" y2="32.7" stroke="#111" stroke-width="1.2" />
<rect x="228.3" y="126.8" width="6.8" height="2.4" fill="#fff" stroke="none" stroke-width="1" />
<line x1="228" y1="131.2" x2="231.4" y2="124.6" stroke="#111" stroke-width="1.2" />
<line x1="231.7" y1="131.2" x2="235.3" y2="124.2" stroke="#111" stroke-width="1.2" />
<rect x="228.3" y="134.6" width="6.8" height="2.4" fill="#fff" stroke="none" stroke-width="1" />
<line x1="228" y1="139" x2="231.4" y2="132.4" stroke="#111" stroke-width="1.2" />
<line x1="231.7" y1="139" x2="235.3" y2="132" stroke="#111" stroke-width="1.2" />
<rect x="228.3" y="226.3" width="6.8" height="2.4" fill="#fff" stroke="none" stroke-width="1" />
<line x1="228" y1="230.7" x2="231.4" y2="224.1" stroke="#111" stroke-width="1.2" />
<line x1="231.7" y1="230.7" x2="235.3" y2="223.7" stroke="#111" stroke-width="1.2" />
<rect x="372.2" y="35.3" width="6.8" height="2.4" fill="#fff" stroke="none" stroke-width="1" />
<line x1="371.9" y1="39.7" x2="375.3" y2="33.1" stroke="#111" stroke-width="1.2" />
<line x1="375.6" y1="39.7" x2="379.2" y2="32.7" stroke="#111" stroke-width="1.2" />
<rect x="372.2" y="126.8" width="6.8" height="2.4" fill="#fff" stroke="none" stroke-width="1" />
<line x1="371.9" y1="131.2" x2="375.3" y2="124.6" stroke="#111" stroke-width="1.2" />
<line x1="375.6" y1="131.2" x2="379.2" y2="124.2" stroke="#111" stroke-width="1.2" />
<rect x="372.2" y="134.6" width="6.8" height="2.4" fill="#fff" stroke="none" stroke-width="1" />
<line x1="371.9" y1="139" x2="375.3" y2="132.4" stroke="#111" stroke-width="1.2" />
<line x1="375.6" y1="139" x2="379.2" y2="132" stroke="#111" stroke-width="1.2" />
<rect x="372.2" y="226.3" width="6.8" height="2.4" fill="#fff" stroke="none" stroke-width="1" />
<line x1="371.9" y1="230.7" x2="375.3" y2="224.1" stroke="#111" stroke-width="1.2" />
<line x1="375.6" y1="230.7" x2="379.2" y2="223.7" stroke="#111" stroke-width="1.2" />
<rect x="485.8" y="35.3" width="6.8" height="2.4" fill="#fff" stroke="none" stroke-width="1" />
<line x1="485.5" y1="39.7" x2="488.9" y2="33.1" stroke="#111" stroke-width="1.2" />
<line x1="489.2" y1="39.7" x2="492.8" y2="32.7" stroke="#111" stroke-width="1.2" />
<rect x="485.8" y="126.8" width="6.8" height="2.4" fill="#fff" stroke="none" stroke-width="1" />
<line x1="485.5" y1="131.2" x2="488.9" y2="124.6" stroke="#111" stroke-width="1.2" />
<line x1="489.2" y1="131.2" x2="492.8" y2="124.2" stroke="#111" stroke-width="1.2" />
<rect x="485.8" y="134.6" width="6.8" height="2.4" fill="#fff" stroke="none" stroke-width="1" />
<line x1="485.5" y1="139" x2="488.9" y2="132.4" stroke="#111" stroke-width="1.2" />
<line x1="489.2" y1="139" x2="492.8" y2="132" stroke="#111" stroke-width="1.2" />
<rect x="485.8" y="226.3" width="6.8" height="2.4" fill="#fff" stroke="none" stroke-width="1" />
<line x1="485.5" y1="230.7" x2="488.9" y2="224.1" stroke="#111" stroke-width="1.2" />
<line x1="489.2" y1="230.7" x2="492.8" y2="223.7" stroke="#111" stroke-width="1.2" />
<line x1="36.2" y1="310.8" x2="239.7" y2="310.8" stroke="#444" stroke-width="1.1" />
<line x1="239.7" y1="310.8" x2="239.7" y2="396.3" stroke="#444" stroke-width="1.0" />
<line x1="36.2" y1="310.8" x2="36.2" y2="396.3" stroke="#555" stroke-width="1.1" />
<line x1="36.2" y1="396.3" x2="239.7" y2="396.3" stroke="#333" stroke-width="1.2" />
<rect x="47.95" y="395.03" width="8.75" height="1.27" fill="#888" stroke="#333" stroke-width="0.8" />
<text x="52.33" y="406.9" font-size="10.4" text-anchor="middle" font-weight="normal" fill="#111" >Med</text>
<line x1="76.88" y1="334.1" x2="76.88" y2="342.3" stroke="#555" stroke-width="0.8" />
<line x1="75.58" y1="334.1" x2="78.17" y2="334.1" stroke="#555" stroke-width="0.8" />
<rect x="72.5" y="342.3" width="8.75" height="54" fill="#fff" stroke="#666" stroke-width="0.8" />
<rect x="82.05" y="395.03" width="8.75" height="1.27" fill="#888" stroke="#333" stroke-width="0.8" />
<line x1="95.97" y1="363.2" x2="95.97" y2="364.7" stroke="#555" stroke-width="0.8" />
<line x1="94.67" y1="363.2" x2="97.27" y2="363.2" stroke="#555" stroke-width="0.8" />
<rect x="91.6" y="364.7" width="8.75" height="31.6" fill="#080808" stroke="#080808" stroke-width="0.8" />
<text x="86.42" y="406.9" font-size="10.4" text-anchor="middle" font-weight="normal" fill="#111" >U251</text>
<line x1="110.98" y1="344.6" x2="110.98" y2="351.4" stroke="#555" stroke-width="0.8" />
<line x1="109.68" y1="344.6" x2="112.28" y2="344.6" stroke="#555" stroke-width="0.8" />
<rect x="106.6" y="351.4" width="8.75" height="44.9" fill="#fff" stroke="#666" stroke-width="0.8" />
<rect x="116.15" y="395.03" width="8.75" height="1.27" fill="#888" stroke="#333" stroke-width="0.8" />
<line x1="130.08" y1="327" x2="130.08" y2="341.9" stroke="#555" stroke-width="0.8" />
<line x1="128.78" y1="327" x2="131.38" y2="327" stroke="#555" stroke-width="0.8" />
<rect x="125.7" y="341.9" width="8.75" height="54.4" fill="#080808" stroke="#080808" stroke-width="0.8" />
<text x="120.53" y="406.9" font-size="10.4" text-anchor="middle" font-weight="normal" fill="#111" >SK</text>
<line x1="145.08" y1="367.5" x2="145.08" y2="371.5" stroke="#555" stroke-width="0.8" />
<line x1="143.78" y1="367.5" x2="146.38" y2="367.5" stroke="#555" stroke-width="0.8" />
<rect x="140.7" y="371.5" width="8.75" height="24.8" fill="#fff" stroke="#666" stroke-width="0.8" />
<rect x="150.25" y="395.7" width="8.75" height="0.6" fill="#888" stroke="#333" stroke-width="0.8" />
<line x1="164.18" y1="367.5" x2="164.18" y2="371.5" stroke="#555" stroke-width="0.8" />
<line x1="162.88" y1="367.5" x2="165.48" y2="367.5" stroke="#555" stroke-width="0.8" />
<rect x="159.8" y="371.5" width="8.75" height="24.8" fill="#080808" stroke="#080808" stroke-width="0.8" />
<text x="154.62" y="406.9" font-size="10.4" text-anchor="middle" font-weight="normal" fill="#111" >HepG2</text>
<line x1="179.18" y1="362.6" x2="179.18" y2="364.8" stroke="#555" stroke-width="0.8" />
<line x1="177.88" y1="362.6" x2="180.48" y2="362.6" stroke="#555" stroke-width="0.8" />
<rect x="174.8" y="364.8" width="8.75" height="31.5" fill="#fff" stroke="#666" stroke-width="0.8" />
<rect x="184.35" y="395.45" width="8.75" height="0.85" fill="#888" stroke="#333" stroke-width="0.8" />
<line x1="198.28" y1="374.8" x2="198.28" y2="376.1" stroke="#555" stroke-width="0.8" />
<line x1="196.97" y1="374.8" x2="199.58" y2="374.8" stroke="#555" stroke-width="0.8" />
<rect x="193.9" y="376.1" width="8.75" height="20.2" fill="#080808" stroke="#080808" stroke-width="0.8" />
<text x="188.72" y="406.9" font-size="10.4" text-anchor="middle" font-weight="normal" fill="#111" >95D</text>
<line x1="213.28" y1="367.5" x2="213.28" y2="371.5" stroke="#555" stroke-width="0.8" />
<line x1="211.97" y1="367.5" x2="214.58" y2="367.5" stroke="#555" stroke-width="0.8" />
<rect x="208.9" y="371.5" width="8.75" height="24.8" fill="#fff" stroke="#666" stroke-width="0.8" />
<rect x="218.45" y="395.66" width="8.75" height="0.64" fill="#888" stroke="#333" stroke-width="0.8" />
<line x1="232.38" y1="347.2" x2="232.38" y2="355.9" stroke="#555" stroke-width="0.8" />
<line x1="231.07" y1="347.2" x2="233.68" y2="347.2" stroke="#555" stroke-width="0.8" />
<rect x="228" y="355.9" width="8.75" height="40.4" fill="#080808" stroke="#080808" stroke-width="0.8" />
<text x="222.82" y="406.9" font-size="10.4" text-anchor="middle" font-weight="normal" fill="#111" >HeLa</text>
<circle cx="84.12" cy="387.9" r="1.4" fill="#000"/>
<circle cx="88.72" cy="387.9" r="1.4" fill="#000"/>
<circle cx="118.23" cy="387.9" r="1.4" fill="#000"/>
<circle cx="122.83" cy="387.9" r="1.4" fill="#000"/>
<circle cx="152.32" cy="387.9" r="1.4" fill="#000"/>
<circle cx="156.93" cy="387.9" r="1.4" fill="#000"/>
<circle cx="186.42" cy="387.9" r="1.4" fill="#000"/>
<circle cx="191.03" cy="387.9" r="1.4" fill="#000"/>
<circle cx="220.52" cy="387.9" r="1.4" fill="#000"/>
<circle cx="225.12" cy="387.9" r="1.4" fill="#000"/>
<text x="32.2" y="319.3" font-size="10.6" text-anchor="end" font-weight="normal" fill="#111" >8</text>
<text x="32.2" y="357.7" font-size="10.6" text-anchor="end" font-weight="normal" fill="#111" >4</text>
<text x="32.2" y="397.3" font-size="10.6" text-anchor="end" font-weight="normal" fill="#111" >0</text>
<line x1="36.2" y1="353.6" x2="39.2" y2="353.6" stroke="#333" stroke-width="1.0" />
<text transform="translate(11.5,349.6) rotate(-90)" font-size="10.7" text-anchor="middle" fill="#111">TNF- <tspan font-family="&quot;Liberation Serif&quot;, serif" font-style="italic" font-size="11.4">α</tspan> (ng/mL)</text>
<line x1="305.3" y1="310.8" x2="508.4" y2="310.8" stroke="#444" stroke-width="1.1" />
<line x1="508.4" y1="310.8" x2="508.4" y2="396" stroke="#444" stroke-width="1.0" />
<line x1="305.3" y1="310.8" x2="305.3" y2="396" stroke="#555" stroke-width="1.1" />
<line x1="305.3" y1="396" x2="508.4" y2="396" stroke="#333" stroke-width="1.2" />
<rect x="308.5" y="394.3" width="8.8" height="1.7" fill="#fff" stroke="#666" stroke-width="0.8" />
<line x1="322.5" y1="374.3" x2="322.5" y2="376.5" stroke="#555" stroke-width="0.8" />
<line x1="321.2" y1="374.3" x2="323.8" y2="374.3" stroke="#555" stroke-width="0.8" />
<rect x="318.1" y="376.5" width="8.8" height="19.5" fill="#888" stroke="#6a6a6a" stroke-width="0.8" />
<rect x="327.7" y="394.3" width="8.8" height="1.7" fill="#080808" stroke="#080808" stroke-width="0.8" />
<text x="322.5" y="406.9" font-size="10.4" text-anchor="middle" font-weight="normal" fill="#111" >Med</text>
<line x1="346.75" y1="334.6" x2="346.75" y2="337.8" stroke="#555" stroke-width="0.8" />
<line x1="345.45" y1="334.6" x2="348.05" y2="334.6" stroke="#555" stroke-width="0.8" />
<rect x="342.35" y="337.8" width="8.8" height="58.2" fill="#fff" stroke="#666" stroke-width="0.8" />
<line x1="356.35" y1="364.3" x2="356.35" y2="371.1" stroke="#555" stroke-width="0.8" />
<line x1="355.05" y1="364.3" x2="357.65" y2="364.3" stroke="#555" stroke-width="0.8" />
<rect x="351.95" y="371.1" width="8.8" height="24.9" fill="#888" stroke="#6a6a6a" stroke-width="0.8" />
<line x1="365.95" y1="334" x2="365.95" y2="342.4" stroke="#555" stroke-width="0.8" />
<line x1="364.65" y1="334" x2="367.25" y2="334" stroke="#555" stroke-width="0.8" />
<rect x="361.55" y="342.4" width="8.8" height="53.6" fill="#080808" stroke="#080808" stroke-width="0.8" />
<text x="356.35" y="406.9" font-size="10.4" text-anchor="middle" font-weight="normal" fill="#111" >U251</text>
<line x1="380.6" y1="355.4" x2="380.6" y2="356.8" stroke="#555" stroke-width="0.8" />
<line x1="379.3" y1="355.4" x2="381.9" y2="355.4" stroke="#555" stroke-width="0.8" />
<rect x="376.2" y="356.8" width="8.8" height="39.2" fill="#fff" stroke="#666" stroke-width="0.8" />
<line x1="390.2" y1="366.9" x2="390.2" y2="369.8" stroke="#555" stroke-width="0.8" />
<line x1="388.9" y1="366.9" x2="391.5" y2="366.9" stroke="#555" stroke-width="0.8" />
<rect x="385.8" y="369.8" width="8.8" height="26.2" fill="#888" stroke="#6a6a6a" stroke-width="0.8" />
<line x1="399.8" y1="340.4" x2="399.8" y2="344.7" stroke="#555" stroke-width="0.8" />
<line x1="398.5" y1="340.4" x2="401.1" y2="340.4" stroke="#555" stroke-width="0.8" />
<rect x="395.4" y="344.7" width="8.8" height="51.3" fill="#080808" stroke="#080808" stroke-width="0.8" />
<text x="390.2" y="406.9" font-size="10.4" text-anchor="middle" font-weight="normal" fill="#111" >SK</text>
<line x1="414.45" y1="355.7" x2="414.45" y2="358.3" stroke="#555" stroke-width="0.8" />
<line x1="413.15" y1="355.7" x2="415.75" y2="355.7" stroke="#555" stroke-width="0.8" />
<rect x="410.05" y="358.3" width="8.8" height="37.7" fill="#fff" stroke="#666" stroke-width="0.8" />
<line x1="424.05" y1="370.1" x2="424.05" y2="373" stroke="#555" stroke-width="0.8" />
<line x1="422.75" y1="370.1" x2="425.35" y2="370.1" stroke="#555" stroke-width="0.8" />
<rect x="419.65" y="373" width="8.8" height="23" fill="#888" stroke="#6a6a6a" stroke-width="0.8" />
<line x1="433.65" y1="354.8" x2="433.65" y2="359.7" stroke="#555" stroke-width="0.8" />
<line x1="432.35" y1="354.8" x2="434.95" y2="354.8" stroke="#555" stroke-width="0.8" />
<rect x="429.25" y="359.7" width="8.8" height="36.3" fill="#080808" stroke="#080808" stroke-width="0.8" />
<text x="424.05" y="406.9" font-size="10.4" text-anchor="middle" font-weight="normal" fill="#111" >HepG2</text>
<line x1="448.3" y1="344.7" x2="448.3" y2="347" stroke="#555" stroke-width="0.8" />
<line x1="447" y1="344.7" x2="449.6" y2="344.7" stroke="#555" stroke-width="0.8" />
<rect x="443.9" y="347" width="8.8" height="49" fill="#fff" stroke="#666" stroke-width="0.8" />
<line x1="457.9" y1="365.8" x2="457.9" y2="369.2" stroke="#555" stroke-width="0.8" />
<line x1="456.6" y1="365.8" x2="459.2" y2="365.8" stroke="#555" stroke-width="0.8" />
<rect x="453.5" y="369.2" width="8.8" height="26.8" fill="#888" stroke="#6a6a6a" stroke-width="0.8" />
<line x1="467.5" y1="338.4" x2="467.5" y2="341.8" stroke="#555" stroke-width="0.8" />
<line x1="466.2" y1="338.4" x2="468.8" y2="338.4" stroke="#555" stroke-width="0.8" />
<rect x="463.1" y="341.8" width="8.8" height="54.2" fill="#080808" stroke="#080808" stroke-width="0.8" />
<text x="457.9" y="406.9" font-size="10.4" text-anchor="middle" font-weight="normal" fill="#111" >95D</text>
<line x1="482.15" y1="341.2" x2="482.15" y2="346.1" stroke="#555" stroke-width="0.8" />
<line x1="480.85" y1="341.2" x2="483.45" y2="341.2" stroke="#555" stroke-width="0.8" />
<rect x="477.75" y="346.1" width="8.8" height="49.9" fill="#fff" stroke="#666" stroke-width="0.8" />
<line x1="491.75" y1="365.8" x2="491.75" y2="367.2" stroke="#555" stroke-width="0.8" />
<line x1="490.45" y1="365.8" x2="493.05" y2="365.8" stroke="#555" stroke-width="0.8" />
<rect x="487.35" y="367.2" width="8.8" height="28.8" fill="#888" stroke="#6a6a6a" stroke-width="0.8" />
<line x1="501.35" y1="322.5" x2="501.35" y2="332.3" stroke="#555" stroke-width="0.8" />
<line x1="500.05" y1="322.5" x2="502.65" y2="322.5" stroke="#555" stroke-width="0.8" />
<rect x="496.95" y="332.3" width="8.8" height="63.7" fill="#080808" stroke="#080808" stroke-width="0.8" />
<text x="491.75" y="406.9" font-size="10.4" text-anchor="middle" font-weight="normal" fill="#111" >HeLa</text>
<circle cx="320.1" cy="366.8" r="1.4" fill="#000"/>
<circle cx="324.7" cy="366.8" r="1.4" fill="#000"/>
<circle cx="354.1" cy="358.1" r="1.4" fill="#000"/>
<circle cx="358.7" cy="358.1" r="1.4" fill="#000"/>
<circle cx="390.5" cy="361.2" r="1.45" fill="#000"/>
<circle cx="423.6" cy="362.5" r="1.45" fill="#000"/>
<circle cx="455.8" cy="358.1" r="1.4" fill="#000"/>
<circle cx="460.4" cy="358.1" r="1.4" fill="#000"/>
<circle cx="489.2" cy="357.4" r="1.4" fill="#000"/>
<circle cx="493.8" cy="357.4" r="1.4" fill="#000"/>
<text x="302" y="319.5" font-size="10.6" text-anchor="end" font-weight="normal" fill="#111" >1</text>
<text x="302" y="359.6" font-size="10.6" text-anchor="end" font-weight="normal" fill="#111" >0.5</text>
<text x="302" y="397.3" font-size="10.6" text-anchor="end" font-weight="normal" fill="#111" >0</text>
<line x1="305.3" y1="353.5" x2="308.3" y2="353.5" stroke="#333" stroke-width="1.0" />
<text transform="translate(281.8,352.7) rotate(-90)" font-size="10.4" text-anchor="middle" fill="#111">IL-10 (ng/mL)</text>
<text x="369.1" y="303.4" font-size="10.2" text-anchor="end" font-weight="normal" fill="#111" >Med</text>
<rect x="374.3" y="297.6" width="4.8" height="4.8" fill="#fff" stroke="#222" stroke-width="0.9" />
<text x="384.8" y="303.4" font-size="10.2" text-anchor="start" font-weight="normal" fill="#111" >Pre-U251</text>
<rect x="435.6" y="297.6" width="4.8" height="4.8" fill="#888" stroke="#555" stroke-width="0.7" />
<text x="450.6" y="303.4" font-size="10.2" text-anchor="start" font-weight="normal" fill="#111" >Pre-THP1</text>
<rect x="500.4" y="297.6" width="5.4" height="5.4" fill="#111" stroke="none" stroke-width="1" />
</svg>
</body></html>
